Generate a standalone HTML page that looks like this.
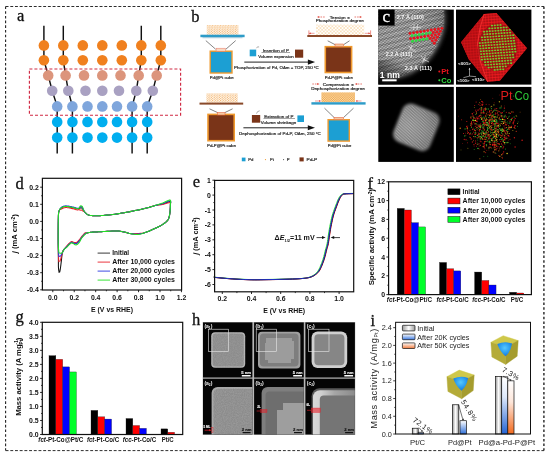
<!DOCTYPE html>
<html><head><meta charset="utf-8"><title>Figure</title>
<style>
html,body{margin:0;padding:0;background:#fff;}
svg{display:block}
.ss{font-family:'Liberation Sans', Arial, sans-serif;}
.sf{font-family:'Liberation Serif', 'Times New Roman', serif;}
</style></head><body>
<svg width="550" height="456" viewBox="0 0 550 456">
<defs>
<pattern id="dotA" width="2.65" height="2.2" patternUnits="userSpaceOnUse" x="206.8" y="25.3">
  <rect width="2.65" height="2.2" fill="#fffaf2"/>
  <circle cx="0.66" cy="0.55" r="0.55" fill="#F0A048"/><circle cx="1.99" cy="1.65" r="0.55" fill="#F0A048"/>
</pattern>
<pattern id="dotB" width="3.4" height="3.4" patternUnits="userSpaceOnUse">
  <rect width="3.4" height="3.4" fill="#fff"/>
  <circle cx="0.85" cy="0.85" r="0.6" fill="#F2B050"/><circle cx="2.55" cy="2.55" r="0.6" fill="#F2B050"/>
</pattern>
<pattern id="dotC" width="1.8" height="1.8" patternUnits="userSpaceOnUse">
  <rect width="1.8" height="1.8" fill="#FBE3B8"/>
  <circle cx="0.45" cy="0.45" r="0.55" fill="#EFA040"/><circle cx="1.35" cy="1.35" r="0.55" fill="#EFA040"/>
</pattern>
<filter id="blur05" x="-10%" y="-10%" width="120%" height="120%"><feGaussianBlur stdDeviation="0.45"/></filter>
<filter id="blur07" x="-10%" y="-10%" width="120%" height="120%"><feGaussianBlur stdDeviation="0.65"/></filter>
<filter id="blur1" x="-10%" y="-10%" width="120%" height="120%"><feGaussianBlur stdDeviation="0.9"/></filter>
<filter id="blur15" x="-10%" y="-10%" width="120%" height="120%"><feGaussianBlur stdDeviation="1.5"/></filter>
<filter id="blur2" x="-10%" y="-10%" width="120%" height="120%"><feGaussianBlur stdDeviation="2.2"/></filter>
<radialGradient id="gc1" gradientUnits="userSpaceOnUse" cx="396" cy="34" r="52">
  <stop offset="0" stop-color="#a4a4a4"/><stop offset="0.5" stop-color="#949494"/><stop offset="0.8" stop-color="#727272"/><stop offset="1" stop-color="#404040"/>
</radialGradient>
<linearGradient id="gc1b" gradientUnits="userSpaceOnUse" x1="376" y1="88" x2="398" y2="60">
  <stop offset="0" stop-color="#000" stop-opacity="0.85"/><stop offset="1" stop-color="#000" stop-opacity="0"/>
</linearGradient>
<pattern id="lat" width="3.55" height="2.7" patternUnits="userSpaceOnUse" patternTransform="rotate(-9)">
  <rect width="3.55" height="2.7" fill="#101010"/>
  <ellipse cx="0.9" cy="0.7" rx="1.0" ry="0.75" fill="#e4e4e4"/><ellipse cx="2.67" cy="2.05" rx="1.0" ry="0.75" fill="#e4e4e4"/>
</pattern>
<pattern id="lat2" width="1.8" height="2.2" patternUnits="userSpaceOnUse" patternTransform="rotate(20)">
  <rect width="1.8" height="2.2" fill="#444"/>
  <rect width="1.8" height="1.0" fill="#ddd"/>
</pattern>
<radialGradient id="gc3" gradientUnits="userSpaceOnUse" cx="-8" cy="2" r="34">
  <stop offset="0" stop-color="#a2a2a2"/><stop offset="0.5" stop-color="#909090"/><stop offset="1" stop-color="#6e6e6e"/>
</radialGradient>
<pattern id="redgrid" width="2.85" height="2.76" patternUnits="userSpaceOnUse" patternTransform="rotate(-4)">
  <rect width="2.85" height="2.76" fill="#7A080C"/>
  <ellipse cx="1.42" cy="1.38" rx="1.25" ry="1.15" fill="#F21C20"/>
</pattern>
<filter id="fnoise" x="0" y="0" width="100%" height="100%"><feTurbulence type="fractalNoise" baseFrequency="0.9" numOctaves="2" seed="3"/><feColorMatrix type="matrix" values="0 0 0 0 1  0 0 0 0 1  0 0 0 0 1  1.6 0 0 0 -0.5"/></filter>
<pattern id="noise" width="60" height="60" patternUnits="userSpaceOnUse"><rect width="60" height="60" filter="url(#fnoise)"/></pattern>
<linearGradient id="gshell" gradientUnits="userSpaceOnUse" x1="313" y1="0" x2="356" y2="0"><stop offset="0" stop-color="#d8d8d8"/><stop offset="0.2" stop-color="#cfcfcf"/><stop offset="0.5" stop-color="#a6a6a6"/><stop offset="1" stop-color="#8a8a8a"/></linearGradient>
<linearGradient id="ggrey" x1="0" y1="0" x2="1" y2="0"><stop offset="0" stop-color="#9a9a9a"/><stop offset="0.5" stop-color="#ffffff"/><stop offset="1" stop-color="#9a9a9a"/></linearGradient>
<linearGradient id="gblue" x1="0" y1="0" x2="0" y2="1"><stop offset="0" stop-color="#ffffff"/><stop offset="1" stop-color="#2E6FD8"/></linearGradient>
<linearGradient id="gblue2" x1="0" y1="0" x2="0" y2="1"><stop offset="0" stop-color="#ffffff"/><stop offset="0.35" stop-color="#dfe9fb"/><stop offset="1" stop-color="#2464D4"/></linearGradient>
<linearGradient id="gorg" x1="0" y1="0" x2="0" y2="1"><stop offset="0" stop-color="#ffffff"/><stop offset="0.4" stop-color="#fde6da"/><stop offset="1" stop-color="#F26A1E"/></linearGradient>
<linearGradient id="gblueL" x1="0" y1="0" x2="0" y2="1"><stop offset="0" stop-color="#ffffff"/><stop offset="1" stop-color="#3A78E0"/></linearGradient>
<linearGradient id="gorgL" x1="0" y1="0" x2="0" y2="1"><stop offset="0" stop-color="#ffffff"/><stop offset="1" stop-color="#F07A3C"/></linearGradient>
<radialGradient id="gcut" cx="0.5" cy="0.4" r="0.6"><stop offset="0" stop-color="#56C8FF"/><stop offset="0.6" stop-color="#2A9CF0"/><stop offset="1" stop-color="#1A74D8"/></radialGradient>
<pattern id="bands" width="10" height="5.4" patternUnits="userSpaceOnUse" patternTransform="rotate(-14)">
  <rect width="10" height="5.4" fill="#fff"/><rect width="10" height="2.6" fill="#000"/>
</pattern>
</defs>

<rect width="550" height="456" fill="#fff"/>
<line x1="5.60" y1="6.50" x2="544.00" y2="6.50" stroke="#222" stroke-width="0.95" stroke-dasharray="2.9 1.8"/>
<line x1="5.60" y1="450.60" x2="544.00" y2="450.60" stroke="#222" stroke-width="0.95" stroke-dasharray="2.9 1.8"/>
<line x1="5.60" y1="6.50" x2="5.60" y2="450.60" stroke="#222" stroke-width="1.1" stroke-dasharray="2.6 2.1"/>
<line x1="543.90" y1="6.50" x2="543.90" y2="450.60" stroke="#333" stroke-width="1.5" stroke-dasharray="2.5 2.2"/>
<text class="sf" x="17" y="21.3" font-size="16.5" font-weight="normal" text-anchor="start" fill="#111"  stroke="#111" stroke-width="0.3">a</text>
<path d="M43.90,25.80 L43.90,45.40 L43.90,60.30 L48.20,75.40 L52.20,90.80 L57.20,106.40 L57.20,121.90 L57.20,137.60 L57.20,153.50" fill="none" stroke="#111" stroke-width="1.45" stroke-linejoin="round" />
<path d="M63.30,25.80 L63.30,45.40 L63.30,60.30 L65.60,75.40 L68.30,90.80 L72.40,106.40 L72.40,121.90 L72.40,137.60 L72.40,153.50" fill="none" stroke="#111" stroke-width="1.45" stroke-linejoin="round" />
<path d="M141.30,25.80 L141.30,45.40 L141.30,60.30 L138.70,75.40 L136.30,90.80 L132.10,106.40 L132.10,121.90 L132.10,137.60 L132.10,153.50" fill="none" stroke="#111" stroke-width="1.45" stroke-linejoin="round" />
<path d="M160.80,25.80 L160.80,45.40 L160.80,60.30 L156.70,75.40 L152.80,90.80 L147.20,106.40 L147.20,121.90 L147.20,137.60 L147.20,153.50" fill="none" stroke="#111" stroke-width="1.45" stroke-linejoin="round" />
<circle cx="43.90" cy="45.40" r="5.3" fill="#F0801E" />
<circle cx="63.30" cy="45.40" r="5.3" fill="#F0801E" />
<circle cx="82.80" cy="45.40" r="5.3" fill="#F0801E" />
<circle cx="102.30" cy="45.40" r="5.3" fill="#F0801E" />
<circle cx="121.80" cy="45.40" r="5.3" fill="#F0801E" />
<circle cx="141.30" cy="45.40" r="5.3" fill="#F0801E" />
<circle cx="160.80" cy="45.40" r="5.3" fill="#F0801E" />
<circle cx="43.90" cy="60.30" r="5.3" fill="#F0801E" />
<circle cx="63.30" cy="60.30" r="5.3" fill="#F0801E" />
<circle cx="82.80" cy="60.30" r="5.3" fill="#F0801E" />
<circle cx="102.30" cy="60.30" r="5.3" fill="#F0801E" />
<circle cx="121.80" cy="60.30" r="5.3" fill="#F0801E" />
<circle cx="141.30" cy="60.30" r="5.3" fill="#F0801E" />
<circle cx="160.80" cy="60.30" r="5.3" fill="#F0801E" />
<circle cx="48.20" cy="75.40" r="5.3" fill="#DC957C" />
<circle cx="65.60" cy="75.40" r="5.3" fill="#DC957C" />
<circle cx="84.00" cy="75.40" r="5.3" fill="#DC957C" />
<circle cx="102.30" cy="75.40" r="5.3" fill="#DC957C" />
<circle cx="120.50" cy="75.40" r="5.3" fill="#DC957C" />
<circle cx="138.70" cy="75.40" r="5.3" fill="#DC957C" />
<circle cx="156.70" cy="75.40" r="5.3" fill="#DC957C" />
<circle cx="52.20" cy="90.80" r="5.3" fill="#A9A1C2" />
<circle cx="68.30" cy="90.80" r="5.3" fill="#A9A1C2" />
<circle cx="85.50" cy="90.80" r="5.3" fill="#A9A1C2" />
<circle cx="102.30" cy="90.80" r="5.3" fill="#A9A1C2" />
<circle cx="119.00" cy="90.80" r="5.3" fill="#A9A1C2" />
<circle cx="136.30" cy="90.80" r="5.3" fill="#A9A1C2" />
<circle cx="152.80" cy="90.80" r="5.3" fill="#A9A1C2" />
<circle cx="57.20" cy="106.40" r="5.3" fill="#7FA6DC" />
<circle cx="72.40" cy="106.40" r="5.3" fill="#7FA6DC" />
<circle cx="87.50" cy="106.40" r="5.3" fill="#7FA6DC" />
<circle cx="102.30" cy="106.40" r="5.3" fill="#7FA6DC" />
<circle cx="117.00" cy="106.40" r="5.3" fill="#7FA6DC" />
<circle cx="132.10" cy="106.40" r="5.3" fill="#7FA6DC" />
<circle cx="147.20" cy="106.40" r="5.3" fill="#7FA6DC" />
<circle cx="57.20" cy="121.90" r="5.3" fill="#00AEEF" />
<circle cx="72.40" cy="121.90" r="5.3" fill="#00AEEF" />
<circle cx="87.50" cy="121.90" r="5.3" fill="#00AEEF" />
<circle cx="102.30" cy="121.90" r="5.3" fill="#00AEEF" />
<circle cx="117.00" cy="121.90" r="5.3" fill="#00AEEF" />
<circle cx="132.10" cy="121.90" r="5.3" fill="#00AEEF" />
<circle cx="147.20" cy="121.90" r="5.3" fill="#00AEEF" />
<circle cx="57.20" cy="137.60" r="5.3" fill="#00AEEF" />
<circle cx="72.40" cy="137.60" r="5.3" fill="#00AEEF" />
<circle cx="87.50" cy="137.60" r="5.3" fill="#00AEEF" />
<circle cx="102.30" cy="137.60" r="5.3" fill="#00AEEF" />
<circle cx="117.00" cy="137.60" r="5.3" fill="#00AEEF" />
<circle cx="132.10" cy="137.60" r="5.3" fill="#00AEEF" />
<circle cx="147.20" cy="137.60" r="5.3" fill="#00AEEF" />
<rect x="29.40" y="69.00" width="151.20" height="46.20" fill="none" stroke="#D02A44" stroke-width="1.15" stroke-dasharray="3 2"/>
<text class="sf" x="191.2" y="22.3" font-size="16.5" font-weight="normal" text-anchor="start" fill="#111"  stroke="#111" stroke-width="0.3">b</text>
<rect x="206.8" y="25.0" width="31.60" height="9.70" fill="url(#dotA)"/>
<rect x="200.40" y="34.70" width="44.20" height="2.50" fill="#2E9CC8" stroke="none" stroke-width="1" />
<rect x="202.50" y="37.20" width="40.00" height="1.00" fill="#9CC4D8" stroke="none" stroke-width="1" />
<line x1="205.80" y1="40.60" x2="215.60" y2="49.20" stroke="#333" stroke-width="0.6" />
<line x1="235.70" y1="40.60" x2="225.90" y2="49.20" stroke="#333" stroke-width="0.6" />
<rect x="209.50" y="50.50" width="23.20" height="23.20" fill="#F09A2E" stroke="none" stroke-width="1" />
<rect x="210.90" y="51.90" width="20.40" height="20.40" fill="#1C9FD3" stroke="none" stroke-width="1" />
<rect x="216.10" y="48.20" width="9.30" height="3.00" fill="#F8D8C0" stroke="#E87A6A" stroke-width="0.5" />
<text class="ss" x="221.7" y="79" font-size="4.3" font-weight="normal" text-anchor="middle" fill="#2a2a2a" textLength="24" lengthAdjust="spacingAndGlyphs"  stroke="#2a2a2a" stroke-width="0.2">Pd@Pt cube</text>
<rect x="249.70" y="49.60" width="6.50" height="6.70" fill="#1C9FD3" stroke="none" stroke-width="1" />
<path d="M256.5,48.2 q0.8,-2.2 2.6,-1.2" fill="none" stroke="#333" stroke-width="0.4"/>
<text class="ss" x="275.9" y="51.6" font-size="4.3" font-weight="normal" text-anchor="middle" fill="#2a2a2a" textLength="26.2" lengthAdjust="spacingAndGlyphs"  stroke="#2a2a2a" stroke-width="0.2">Insertion of P</text>
<line x1="261.50" y1="52.50" x2="290.00" y2="52.50" stroke="#333" stroke-width="0.45" />
<text class="ss" x="276" y="57.9" font-size="4.3" font-weight="normal" text-anchor="middle" fill="#2a2a2a" textLength="35.5" lengthAdjust="spacingAndGlyphs"  stroke="#2a2a2a" stroke-width="0.2">Volume expansion</text>
<rect x="295.00" y="49.60" width="8.20" height="8.10" fill="#7A3418" stroke="none" stroke-width="1" />
<line x1="244.30" y1="62.10" x2="309.00" y2="62.10" stroke="#222" stroke-width="1.0" />
<path d="M315.1,62.1 L307.9,59.5 L307.9,64.7 Z" fill="#111"/>
<text class="ss" x="276.4" y="69.3" font-size="4.3" font-weight="normal" text-anchor="middle" fill="#2a2a2a" textLength="84.7" lengthAdjust="spacingAndGlyphs"  stroke="#2a2a2a" stroke-width="0.2">Phosphorization of Pd, OAm + TOP, 250 °C</text>
<text class="ss" x="340" y="18.5" font-size="4.3" font-weight="normal" text-anchor="middle" fill="#2a2a2a" textLength="20.4" lengthAdjust="spacingAndGlyphs"  stroke="#2a2a2a" stroke-width="0.2">Tension ∝</text>
<text class="ss" x="339.7" y="22.4" font-size="4.3" font-weight="normal" text-anchor="middle" fill="#2a2a2a" textLength="48" lengthAdjust="spacingAndGlyphs"  stroke="#2a2a2a" stroke-width="0.2">Phosphorization degree</text>
<line x1="324.70" y1="17.00" x2="318.50" y2="17.00" stroke="#E0453A" stroke-width="0.7" stroke-dasharray="1.6 1"/>
<line x1="354.50" y1="17.00" x2="360.60" y2="17.00" stroke="#E0453A" stroke-width="0.7" stroke-dasharray="1.6 1"/>
<path d="M317,17 l2.2,-1 v2 Z M362,17 l-2.2,-1 v2 Z" fill="#E0453A"/>
<rect x="316" y="24.6" width="48.20" height="10.40" fill="url(#dotB)"/>
<rect x="307.30" y="35.00" width="64.70" height="2.00" fill="#8A4A2A" stroke="none" stroke-width="1" />
<line x1="308.90" y1="30.40" x2="308.90" y2="35.00" stroke="#E0453A" stroke-width="0.6" />
<line x1="370.60" y1="30.40" x2="370.60" y2="35.00" stroke="#E0453A" stroke-width="0.6" />
<line x1="309.00" y1="33.30" x2="314.50" y2="33.30" stroke="#E0453A" stroke-width="0.5" />
<line x1="370.20" y1="33.30" x2="364.70" y2="33.30" stroke="#E0453A" stroke-width="0.5" />
<path d="M309,33.3 l1.8,-0.9 v1.8 Z M370.2,33.3 l-1.8,-0.9 v1.8 Z" fill="#E0453A"/>
<line x1="327.70" y1="40.80" x2="335.00" y2="44.60" stroke="#333" stroke-width="0.6" />
<line x1="349.50" y1="40.80" x2="343.70" y2="44.60" stroke="#333" stroke-width="0.6" />
<rect x="324.50" y="45.90" width="27.90" height="27.40" fill="#F09A2E" stroke="none" stroke-width="1" />
<rect x="326.10" y="47.50" width="24.70" height="24.20" fill="#7A3418" stroke="none" stroke-width="1" />
<rect x="335.00" y="44.00" width="8.70" height="2.60" fill="#F6C9A0" stroke="#E05A3A" stroke-width="0.5" />
<text class="ss" x="338.8" y="78.8" font-size="4.3" font-weight="normal" text-anchor="middle" fill="#2a2a2a" textLength="28" lengthAdjust="spacingAndGlyphs"  stroke="#2a2a2a" stroke-width="0.2">Pd-P@Pt cube</text>
<rect x="206.5" y="93.4" width="31.30" height="9.20" fill="url(#dotA)"/>
<rect x="199.50" y="102.60" width="43.70" height="2.00" fill="#8A4A2A" stroke="none" stroke-width="1" />
<line x1="209.50" y1="108.80" x2="217.40" y2="112.50" stroke="#333" stroke-width="0.6" />
<line x1="232.60" y1="108.80" x2="225.00" y2="112.50" stroke="#333" stroke-width="0.6" />
<rect x="207.20" y="113.60" width="27.80" height="27.90" fill="#F09A2E" stroke="none" stroke-width="1" />
<rect x="208.80" y="115.20" width="24.60" height="24.70" fill="#7A3418" stroke="none" stroke-width="1" />
<rect x="217.40" y="112.40" width="7.60" height="2.60" fill="#F6C9A0" stroke="#E05A3A" stroke-width="0.5" />
<text class="ss" x="221.5" y="147" font-size="4.3" font-weight="normal" text-anchor="middle" fill="#2a2a2a" textLength="29" lengthAdjust="spacingAndGlyphs"  stroke="#2a2a2a" stroke-width="0.2">Pd-P@Pt cube</text>
<rect x="251.90" y="115.00" width="8.30" height="7.70" fill="#7A3418" stroke="none" stroke-width="1" />
<path d="M256.5,113.6 q0.6,-2.6 3.2,-2.8" fill="none" stroke="#333" stroke-width="0.4"/>
<text class="ss" x="278.9" y="117.6" font-size="4.3" font-weight="normal" text-anchor="middle" fill="#2a2a2a" textLength="29.4" lengthAdjust="spacingAndGlyphs"  stroke="#2a2a2a" stroke-width="0.2">Extraction of P</text>
<line x1="263.50" y1="118.50" x2="295.00" y2="118.50" stroke="#333" stroke-width="0.45" />
<text class="ss" x="278.5" y="123.9" font-size="4.3" font-weight="normal" text-anchor="middle" fill="#2a2a2a" textLength="35.3" lengthAdjust="spacingAndGlyphs"  stroke="#2a2a2a" stroke-width="0.2">Volume shrinkage</text>
<rect x="297.40" y="115.40" width="6.60" height="6.60" fill="#1C9FD3" stroke="none" stroke-width="1" />
<line x1="243.40" y1="127.80" x2="309.00" y2="127.80" stroke="#222" stroke-width="1.0" />
<path d="M315,127.8 L307.8,125.3 L307.8,130.3 Z" fill="#111"/>
<text class="ss" x="279.9" y="135" font-size="4.3" font-weight="normal" text-anchor="middle" fill="#2a2a2a" textLength="81.8" lengthAdjust="spacingAndGlyphs"  stroke="#2a2a2a" stroke-width="0.2">Dephosphorization of Pd-P, OAm, 250 °C</text>
<text class="ss" x="338.2" y="86.4" font-size="4.3" font-weight="normal" text-anchor="middle" fill="#2a2a2a" textLength="31" lengthAdjust="spacingAndGlyphs"  stroke="#2a2a2a" stroke-width="0.2">Compression ∝</text>
<text class="ss" x="338" y="90.4" font-size="4.3" font-weight="normal" text-anchor="middle" fill="#2a2a2a" textLength="53.4" lengthAdjust="spacingAndGlyphs"  stroke="#2a2a2a" stroke-width="0.2">Dephosphorization degree</text>
<line x1="312.30" y1="84.00" x2="318.00" y2="84.00" stroke="#E0453A" stroke-width="0.7" stroke-dasharray="1.6 1"/>
<line x1="362.00" y1="84.00" x2="356.50" y2="84.00" stroke="#E0453A" stroke-width="0.7" stroke-dasharray="1.6 1"/>
<path d="M319.6,84 l-2.4,-1.1 v2.2 Z M354.8,84 l2.4,-1.1 v2.2 Z" fill="#E0453A"/>
<rect x="321.4" y="92.4" width="33.60" height="9.80" fill="url(#dotC)"/>
<rect x="311.40" y="102.20" width="54.20" height="2.40" fill="#2E9CC8" stroke="none" stroke-width="1" />
<line x1="315.00" y1="101.00" x2="320.50" y2="101.00" stroke="#E0453A" stroke-width="0.5" />
<line x1="361.50" y1="101.00" x2="356.00" y2="101.00" stroke="#E0453A" stroke-width="0.5" />
<path d="M320.9,101 l-1.8,-0.9 v1.8 Z M355.6,101 l1.8,-0.9 v1.8 Z" fill="#E0453A"/>
<line x1="324.50" y1="108.20" x2="334.00" y2="117.40" stroke="#333" stroke-width="0.6" />
<line x1="353.50" y1="108.20" x2="343.70" y2="117.40" stroke="#333" stroke-width="0.6" />
<rect x="327.40" y="119.00" width="22.60" height="22.80" fill="#F09A2E" stroke="none" stroke-width="1" />
<rect x="328.80" y="120.40" width="19.80" height="20.00" fill="#1C9FD3" stroke="none" stroke-width="1" />
<rect x="334.00" y="117.30" width="9.70" height="2.40" fill="#F6C9A0" stroke="#E05A3A" stroke-width="0.5" />
<text class="ss" x="339.5" y="146.6" font-size="4.3" font-weight="normal" text-anchor="middle" fill="#2a2a2a" textLength="23.5" lengthAdjust="spacingAndGlyphs"  stroke="#2a2a2a" stroke-width="0.2">Pd@Pt cube</text>
<rect x="241.80" y="157.60" width="3.70" height="3.70" fill="#1C9FD3" stroke="none" stroke-width="1" />
<text class="ss" x="248.2" y="161" font-size="4.3" font-weight="normal" text-anchor="start" fill="#2a2a2a" textLength="5.2" lengthAdjust="spacingAndGlyphs"  stroke="#2a2a2a" stroke-width="0.2">Pd</text>
<circle cx="265.50" cy="159.60" r="0.6" fill="#F09A2E" />
<text class="ss" x="270" y="161" font-size="4.3" font-weight="normal" text-anchor="start" fill="#2a2a2a" textLength="3.8" lengthAdjust="spacingAndGlyphs"  stroke="#2a2a2a" stroke-width="0.2">Pt</text>
<circle cx="283.60" cy="159.60" r="0.55" fill="#444" />
<text class="ss" x="286.7" y="161" font-size="4.3" font-weight="normal" text-anchor="start" fill="#2a2a2a"  stroke="#2a2a2a" stroke-width="0.2">P</text>
<rect x="299.50" y="157.40" width="4.20" height="4.00" fill="#7A3418" stroke="none" stroke-width="1" />
<text class="ss" x="306.4" y="161" font-size="4.3" font-weight="normal" text-anchor="start" fill="#2a2a2a" textLength="10.8" lengthAdjust="spacingAndGlyphs"  stroke="#2a2a2a" stroke-width="0.2">Pd-P</text>
<rect x="378.30" y="9.60" width="75.50" height="75.00" fill="#000" stroke="none" stroke-width="1" />
<rect x="378.30" y="86.90" width="75.50" height="75.00" fill="#000" stroke="none" stroke-width="1" />
<rect x="456.00" y="9.60" width="75.40" height="75.00" fill="#000" stroke="none" stroke-width="1" />
<rect x="456.00" y="86.90" width="75.40" height="75.00" fill="#000" stroke="none" stroke-width="1" />
<clipPath id="clipc1"><rect x="378.3" y="9.6" width="75.5" height="75.0"/></clipPath>
<g clip-path="url(#clipc1)">
<g filter="url(#blur2)">
<path d="M370,0 L443,0 C448,12 447,26 442,38 C437,52 428,64 414,72 C404,78 394,80 384,82 L370,70 Z" fill="url(#gc1)"/>
</g>
<g filter="url(#blur05)" opacity="0.55">
<path d="M370,0 L441,2 C446,12 445,26 440,38 C435,52 426,63 412,71 C402,77 394,79 386,80 L370,70 Z" fill="url(#lat)"/>
</g>
<g filter="url(#blur1)" opacity="0.28"><path d="M370,0 L441,2 C446,12 445,26 440,38 C435,52 426,63 412,71 C402,77 394,79 386,80 L370,70 Z" fill="url(#bands)"/></g>
<rect x="370" y="60" width="40" height="30" fill="url(#gc1b)"/>
</g>
<rect x="378.30" y="9.60" width="16.30" height="16.00" fill="#000" stroke="none" stroke-width="1" />
<text class="sf" x="386.3" y="21.8" font-size="17" font-weight="normal" text-anchor="middle" fill="#fff"  stroke="#fff" stroke-width="0.3">c</text>
<circle cx="410.00" cy="33.40" r="1.45" fill="#E8141C" />
<circle cx="413.55" cy="32.84" r="1.45" fill="#E8141C" />
<circle cx="417.10" cy="32.28" r="1.45" fill="#E8141C" />
<circle cx="420.65" cy="31.72" r="1.45" fill="#E8141C" />
<circle cx="424.20" cy="31.16" r="1.45" fill="#E8141C" />
<circle cx="427.75" cy="30.60" r="1.45" fill="#E8141C" />
<circle cx="431.30" cy="30.04" r="1.45" fill="#E8141C" />
<circle cx="434.85" cy="29.48" r="1.45" fill="#E8141C" />
<circle cx="438.40" cy="28.92" r="1.45" fill="#E8141C" />
<circle cx="441.95" cy="28.36" r="1.45" fill="#E8141C" />
<circle cx="412.02" cy="35.82" r="1.45" fill="#30D840" />
<circle cx="415.57" cy="35.26" r="1.45" fill="#30D840" />
<circle cx="419.12" cy="34.70" r="1.45" fill="#30D840" />
<circle cx="422.68" cy="34.14" r="1.45" fill="#30D840" />
<circle cx="426.23" cy="33.58" r="1.45" fill="#30D840" />
<circle cx="429.77" cy="33.02" r="1.45" fill="#30D840" />
<circle cx="433.32" cy="32.46" r="1.45" fill="#E8141C" />
<circle cx="436.88" cy="31.90" r="1.45" fill="#E8141C" />
<circle cx="440.43" cy="31.34" r="1.45" fill="#E8141C" />
<circle cx="410.50" cy="38.80" r="1.45" fill="#E8141C" />
<circle cx="414.05" cy="38.24" r="1.45" fill="#E8141C" />
<circle cx="417.60" cy="37.68" r="1.45" fill="#E8141C" />
<circle cx="421.15" cy="37.12" r="1.45" fill="#E8141C" />
<circle cx="424.70" cy="36.56" r="1.45" fill="#E8141C" />
<circle cx="428.25" cy="36.00" r="1.45" fill="#E8141C" />
<circle cx="431.80" cy="35.44" r="1.45" fill="#E8141C" />
<circle cx="435.35" cy="34.88" r="1.45" fill="#E8141C" />
<circle cx="438.90" cy="34.32" r="1.45" fill="#E8141C" />
<circle cx="412.52" cy="41.22" r="1.45" fill="#30D840" />
<circle cx="416.07" cy="40.66" r="1.45" fill="#30D840" />
<circle cx="419.62" cy="40.10" r="1.45" fill="#30D840" />
<circle cx="423.18" cy="39.54" r="1.45" fill="#30D840" />
<circle cx="426.73" cy="38.98" r="1.45" fill="#30D840" />
<circle cx="430.27" cy="38.42" r="1.45" fill="#E8141C" />
<circle cx="433.82" cy="37.86" r="1.45" fill="#E8141C" />
<circle cx="437.38" cy="37.30" r="1.45" fill="#E8141C" />
<circle cx="432.30" cy="40.84" r="1.45" fill="#E8141C" />
<circle cx="435.85" cy="40.28" r="1.45" fill="#E8141C" />
<circle cx="434.32" cy="43.26" r="1.45" fill="#E8141C" />
<text class="ss" x="410.3" y="19.2" font-size="5" font-weight="bold" text-anchor="middle" fill="#f4f4f4" textLength="27" lengthAdjust="spacingAndGlyphs" >2.7 Å (110)</text>
<text class="ss" x="399" y="56" font-size="5" font-weight="bold" text-anchor="middle" fill="#f4f4f4" textLength="26.5" lengthAdjust="spacingAndGlyphs" >2.2 Å (111)</text>
<text class="ss" x="418.3" y="69.8" font-size="5" font-weight="bold" text-anchor="middle" fill="#f4f4f4" textLength="27" lengthAdjust="spacingAndGlyphs" >2.3 Å (111)</text>
<line x1="409.50" y1="27.30" x2="421.00" y2="27.30" stroke="#f4f4f4" stroke-width="0.6" />
<line x1="414.20" y1="24.30" x2="413.60" y2="30.30" stroke="#f4f4f4" stroke-width="0.6" />
<line x1="417.60" y1="24.30" x2="417.00" y2="30.30" stroke="#f4f4f4" stroke-width="0.6" />
<path d="M408.5,45.5 L412.5,50.5 M412,45 L409.5,51.5 M411.5,48.5 L416,52" stroke="#f4f4f4" stroke-width="0.6" fill="none"/>
<path d="M421,56 L425.5,61 M425.5,55.5 L422.5,63 M424,59.5 L429,62" stroke="#f4f4f4" stroke-width="0.6" fill="none"/>
<text class="ss" x="379.8" y="77.6" font-size="8.6" font-weight="bold" text-anchor="start" fill="#fff" textLength="20" lengthAdjust="spacingAndGlyphs" >1 nm</text>
<rect x="382.20" y="79.30" width="14.40" height="2.00" fill="#fff" stroke="none" stroke-width="1" />
<circle cx="439.30" cy="71.40" r="1.0" fill="#E8141C" />
<text class="ss" x="441.3" y="74.2" font-size="7.6" font-weight="bold" text-anchor="start" fill="#E8141C" >Pt</text>
<circle cx="439.30" cy="80.30" r="1.0" fill="#30D840" />
<text class="ss" x="441.3" y="83.2" font-size="7.6" font-weight="bold" text-anchor="start" fill="#30D840" >Co</text>
<path d="M484.2,14.0 L496.4,13.1 L527.0,48.2 L499.8,80.7 L487.6,81.8 L468.8,59.3 L461.1,42.2 Z" fill="#E8181C"/>
<path d="M484.2,14.0 L496.4,13.1 L527.0,48.2 L499.8,80.7 L487.6,81.8 L468.8,59.3 L461.1,42.2 Z" fill="url(#redgrid)" opacity="0.75"/>
<path d="M484.2,14.0 L461.1,42.2 L468.8,59.3 L487.6,81.8 L480.5,62.0 L477.5,44.0 L480.0,28.0 Z" fill="#B00C10" opacity="0.45"/>
<path d="M484.2,14 L480,28 L477.5,44 L480.5,62 L487.6,81.8" fill="none" stroke="#F43030" stroke-width="0.9"/>
<ellipse cx="497.6" cy="47.4" rx="19.6" ry="24" fill="#7A0A0C" opacity="0.5"/>
<ellipse cx="491.95" cy="25.52" rx="1.12" ry="0.88" fill="#70CC2E"/>
<ellipse cx="494.80" cy="25.32" rx="1.12" ry="0.88" fill="#70CC2E"/>
<ellipse cx="497.65" cy="25.12" rx="1.12" ry="0.88" fill="#70CC2E"/>
<ellipse cx="500.50" cy="24.92" rx="1.12" ry="0.88" fill="#70CC2E"/>
<ellipse cx="489.45" cy="28.48" rx="1.12" ry="0.88" fill="#70CC2E"/>
<ellipse cx="492.30" cy="28.28" rx="1.12" ry="0.88" fill="#70CC2E"/>
<ellipse cx="495.15" cy="28.08" rx="1.12" ry="0.88" fill="#70CC2E"/>
<ellipse cx="498.00" cy="27.88" rx="1.12" ry="0.88" fill="#70CC2E"/>
<ellipse cx="500.85" cy="27.68" rx="1.12" ry="0.88" fill="#70CC2E"/>
<ellipse cx="503.70" cy="27.48" rx="1.12" ry="0.88" fill="#70CC2E"/>
<ellipse cx="506.55" cy="27.28" rx="1.12" ry="0.88" fill="#70CC2E"/>
<ellipse cx="484.10" cy="31.64" rx="1.12" ry="0.88" fill="#70CC2E"/>
<ellipse cx="486.95" cy="31.44" rx="1.12" ry="0.88" fill="#70CC2E"/>
<ellipse cx="489.80" cy="31.24" rx="1.12" ry="0.88" fill="#70CC2E"/>
<ellipse cx="492.65" cy="31.04" rx="1.12" ry="0.88" fill="#70CC2E"/>
<ellipse cx="495.50" cy="30.84" rx="1.12" ry="0.88" fill="#70CC2E"/>
<ellipse cx="498.35" cy="30.64" rx="1.12" ry="0.88" fill="#70CC2E"/>
<ellipse cx="501.20" cy="30.44" rx="1.12" ry="0.88" fill="#70CC2E"/>
<ellipse cx="504.05" cy="30.24" rx="1.12" ry="0.88" fill="#70CC2E"/>
<ellipse cx="506.90" cy="30.04" rx="1.12" ry="0.88" fill="#70CC2E"/>
<ellipse cx="509.75" cy="29.84" rx="1.12" ry="0.88" fill="#70CC2E"/>
<ellipse cx="484.45" cy="34.40" rx="1.12" ry="0.88" fill="#70CC2E"/>
<ellipse cx="487.30" cy="34.20" rx="1.12" ry="0.88" fill="#70CC2E"/>
<ellipse cx="490.15" cy="34.00" rx="1.12" ry="0.88" fill="#70CC2E"/>
<ellipse cx="493.00" cy="33.80" rx="1.12" ry="0.88" fill="#70CC2E"/>
<ellipse cx="495.85" cy="33.60" rx="1.12" ry="0.88" fill="#70CC2E"/>
<ellipse cx="498.70" cy="33.40" rx="1.12" ry="0.88" fill="#70CC2E"/>
<ellipse cx="501.55" cy="33.20" rx="1.12" ry="0.88" fill="#70CC2E"/>
<ellipse cx="504.40" cy="33.00" rx="1.12" ry="0.88" fill="#70CC2E"/>
<ellipse cx="507.25" cy="32.80" rx="1.12" ry="0.88" fill="#70CC2E"/>
<ellipse cx="510.10" cy="32.60" rx="1.12" ry="0.88" fill="#70CC2E"/>
<ellipse cx="481.95" cy="37.36" rx="1.12" ry="0.88" fill="#70CC2E"/>
<ellipse cx="484.80" cy="37.16" rx="1.12" ry="0.88" fill="#70CC2E"/>
<ellipse cx="487.65" cy="36.96" rx="1.12" ry="0.88" fill="#70CC2E"/>
<ellipse cx="490.50" cy="36.76" rx="1.12" ry="0.88" fill="#70CC2E"/>
<ellipse cx="493.35" cy="36.56" rx="1.12" ry="0.88" fill="#70CC2E"/>
<ellipse cx="496.20" cy="36.36" rx="1.12" ry="0.88" fill="#70CC2E"/>
<ellipse cx="499.05" cy="36.16" rx="1.12" ry="0.88" fill="#70CC2E"/>
<ellipse cx="501.90" cy="35.96" rx="1.12" ry="0.88" fill="#70CC2E"/>
<ellipse cx="504.75" cy="35.76" rx="1.12" ry="0.88" fill="#70CC2E"/>
<ellipse cx="507.60" cy="35.56" rx="1.12" ry="0.88" fill="#70CC2E"/>
<ellipse cx="510.45" cy="35.36" rx="1.12" ry="0.88" fill="#70CC2E"/>
<ellipse cx="513.30" cy="35.16" rx="1.12" ry="0.88" fill="#70CC2E"/>
<ellipse cx="482.30" cy="40.12" rx="1.12" ry="0.88" fill="#70CC2E"/>
<ellipse cx="485.15" cy="39.92" rx="1.12" ry="0.88" fill="#70CC2E"/>
<ellipse cx="488.00" cy="39.72" rx="1.12" ry="0.88" fill="#70CC2E"/>
<ellipse cx="490.85" cy="39.52" rx="1.12" ry="0.88" fill="#70CC2E"/>
<ellipse cx="493.70" cy="39.32" rx="1.12" ry="0.88" fill="#70CC2E"/>
<ellipse cx="496.55" cy="39.12" rx="1.12" ry="0.88" fill="#70CC2E"/>
<ellipse cx="499.40" cy="38.92" rx="1.12" ry="0.88" fill="#70CC2E"/>
<ellipse cx="502.25" cy="38.72" rx="1.12" ry="0.88" fill="#70CC2E"/>
<ellipse cx="505.10" cy="38.52" rx="1.12" ry="0.88" fill="#70CC2E"/>
<ellipse cx="507.95" cy="38.32" rx="1.12" ry="0.88" fill="#70CC2E"/>
<ellipse cx="510.80" cy="38.12" rx="1.12" ry="0.88" fill="#70CC2E"/>
<ellipse cx="513.65" cy="37.92" rx="1.12" ry="0.88" fill="#70CC2E"/>
<ellipse cx="479.80" cy="43.08" rx="1.12" ry="0.88" fill="#70CC2E"/>
<ellipse cx="482.65" cy="42.88" rx="1.12" ry="0.88" fill="#70CC2E"/>
<ellipse cx="485.50" cy="42.68" rx="1.12" ry="0.88" fill="#70CC2E"/>
<ellipse cx="488.35" cy="42.48" rx="1.12" ry="0.88" fill="#70CC2E"/>
<ellipse cx="491.20" cy="42.28" rx="1.12" ry="0.88" fill="#70CC2E"/>
<ellipse cx="494.05" cy="42.08" rx="1.12" ry="0.88" fill="#70CC2E"/>
<ellipse cx="496.90" cy="41.88" rx="1.12" ry="0.88" fill="#70CC2E"/>
<ellipse cx="499.75" cy="41.68" rx="1.12" ry="0.88" fill="#70CC2E"/>
<ellipse cx="502.60" cy="41.48" rx="1.12" ry="0.88" fill="#70CC2E"/>
<ellipse cx="505.45" cy="41.28" rx="1.12" ry="0.88" fill="#70CC2E"/>
<ellipse cx="508.30" cy="41.08" rx="1.12" ry="0.88" fill="#70CC2E"/>
<ellipse cx="511.15" cy="40.88" rx="1.12" ry="0.88" fill="#70CC2E"/>
<ellipse cx="514.00" cy="40.68" rx="1.12" ry="0.88" fill="#70CC2E"/>
<ellipse cx="480.15" cy="45.84" rx="1.12" ry="0.88" fill="#70CC2E"/>
<ellipse cx="483.00" cy="45.64" rx="1.12" ry="0.88" fill="#70CC2E"/>
<ellipse cx="485.85" cy="45.44" rx="1.12" ry="0.88" fill="#70CC2E"/>
<ellipse cx="488.70" cy="45.24" rx="1.12" ry="0.88" fill="#70CC2E"/>
<ellipse cx="491.55" cy="45.04" rx="1.12" ry="0.88" fill="#70CC2E"/>
<ellipse cx="494.40" cy="44.84" rx="1.12" ry="0.88" fill="#70CC2E"/>
<ellipse cx="497.25" cy="44.64" rx="1.12" ry="0.88" fill="#70CC2E"/>
<ellipse cx="500.10" cy="44.44" rx="1.12" ry="0.88" fill="#70CC2E"/>
<ellipse cx="502.95" cy="44.24" rx="1.12" ry="0.88" fill="#70CC2E"/>
<ellipse cx="505.80" cy="44.04" rx="1.12" ry="0.88" fill="#70CC2E"/>
<ellipse cx="508.65" cy="43.84" rx="1.12" ry="0.88" fill="#70CC2E"/>
<ellipse cx="511.50" cy="43.64" rx="1.12" ry="0.88" fill="#70CC2E"/>
<ellipse cx="514.35" cy="43.44" rx="1.12" ry="0.88" fill="#70CC2E"/>
<ellipse cx="480.50" cy="48.60" rx="1.12" ry="0.88" fill="#70CC2E"/>
<ellipse cx="483.35" cy="48.40" rx="1.12" ry="0.88" fill="#70CC2E"/>
<ellipse cx="486.20" cy="48.20" rx="1.12" ry="0.88" fill="#70CC2E"/>
<ellipse cx="489.05" cy="48.00" rx="1.12" ry="0.88" fill="#70CC2E"/>
<ellipse cx="491.90" cy="47.80" rx="1.12" ry="0.88" fill="#70CC2E"/>
<ellipse cx="494.75" cy="47.60" rx="1.12" ry="0.88" fill="#70CC2E"/>
<ellipse cx="497.60" cy="47.40" rx="1.12" ry="0.88" fill="#70CC2E"/>
<ellipse cx="500.45" cy="47.20" rx="1.12" ry="0.88" fill="#70CC2E"/>
<ellipse cx="503.30" cy="47.00" rx="1.12" ry="0.88" fill="#70CC2E"/>
<ellipse cx="506.15" cy="46.80" rx="1.12" ry="0.88" fill="#70CC2E"/>
<ellipse cx="509.00" cy="46.60" rx="1.12" ry="0.88" fill="#70CC2E"/>
<ellipse cx="511.85" cy="46.40" rx="1.12" ry="0.88" fill="#70CC2E"/>
<ellipse cx="514.70" cy="46.20" rx="1.12" ry="0.88" fill="#70CC2E"/>
<ellipse cx="480.85" cy="51.36" rx="1.12" ry="0.88" fill="#70CC2E"/>
<ellipse cx="483.70" cy="51.16" rx="1.12" ry="0.88" fill="#70CC2E"/>
<ellipse cx="486.55" cy="50.96" rx="1.12" ry="0.88" fill="#70CC2E"/>
<ellipse cx="489.40" cy="50.76" rx="1.12" ry="0.88" fill="#70CC2E"/>
<ellipse cx="492.25" cy="50.56" rx="1.12" ry="0.88" fill="#70CC2E"/>
<ellipse cx="495.10" cy="50.36" rx="1.12" ry="0.88" fill="#70CC2E"/>
<ellipse cx="497.95" cy="50.16" rx="1.12" ry="0.88" fill="#70CC2E"/>
<ellipse cx="500.80" cy="49.96" rx="1.12" ry="0.88" fill="#70CC2E"/>
<ellipse cx="503.65" cy="49.76" rx="1.12" ry="0.88" fill="#70CC2E"/>
<ellipse cx="506.50" cy="49.56" rx="1.12" ry="0.88" fill="#70CC2E"/>
<ellipse cx="509.35" cy="49.36" rx="1.12" ry="0.88" fill="#70CC2E"/>
<ellipse cx="512.20" cy="49.16" rx="1.12" ry="0.88" fill="#70CC2E"/>
<ellipse cx="515.05" cy="48.96" rx="1.12" ry="0.88" fill="#70CC2E"/>
<ellipse cx="481.20" cy="54.12" rx="1.12" ry="0.88" fill="#70CC2E"/>
<ellipse cx="484.05" cy="53.92" rx="1.12" ry="0.88" fill="#70CC2E"/>
<ellipse cx="486.90" cy="53.72" rx="1.12" ry="0.88" fill="#70CC2E"/>
<ellipse cx="489.75" cy="53.52" rx="1.12" ry="0.88" fill="#70CC2E"/>
<ellipse cx="492.60" cy="53.32" rx="1.12" ry="0.88" fill="#70CC2E"/>
<ellipse cx="495.45" cy="53.12" rx="1.12" ry="0.88" fill="#70CC2E"/>
<ellipse cx="498.30" cy="52.92" rx="1.12" ry="0.88" fill="#70CC2E"/>
<ellipse cx="501.15" cy="52.72" rx="1.12" ry="0.88" fill="#70CC2E"/>
<ellipse cx="504.00" cy="52.52" rx="1.12" ry="0.88" fill="#70CC2E"/>
<ellipse cx="506.85" cy="52.32" rx="1.12" ry="0.88" fill="#70CC2E"/>
<ellipse cx="509.70" cy="52.12" rx="1.12" ry="0.88" fill="#70CC2E"/>
<ellipse cx="512.55" cy="51.92" rx="1.12" ry="0.88" fill="#70CC2E"/>
<ellipse cx="515.40" cy="51.72" rx="1.12" ry="0.88" fill="#70CC2E"/>
<ellipse cx="481.55" cy="56.88" rx="1.12" ry="0.88" fill="#70CC2E"/>
<ellipse cx="484.40" cy="56.68" rx="1.12" ry="0.88" fill="#70CC2E"/>
<ellipse cx="487.25" cy="56.48" rx="1.12" ry="0.88" fill="#70CC2E"/>
<ellipse cx="490.10" cy="56.28" rx="1.12" ry="0.88" fill="#70CC2E"/>
<ellipse cx="492.95" cy="56.08" rx="1.12" ry="0.88" fill="#70CC2E"/>
<ellipse cx="495.80" cy="55.88" rx="1.12" ry="0.88" fill="#70CC2E"/>
<ellipse cx="498.65" cy="55.68" rx="1.12" ry="0.88" fill="#70CC2E"/>
<ellipse cx="501.50" cy="55.48" rx="1.12" ry="0.88" fill="#70CC2E"/>
<ellipse cx="504.35" cy="55.28" rx="1.12" ry="0.88" fill="#70CC2E"/>
<ellipse cx="507.20" cy="55.08" rx="1.12" ry="0.88" fill="#70CC2E"/>
<ellipse cx="510.05" cy="54.88" rx="1.12" ry="0.88" fill="#70CC2E"/>
<ellipse cx="512.90" cy="54.68" rx="1.12" ry="0.88" fill="#70CC2E"/>
<ellipse cx="481.90" cy="59.64" rx="1.12" ry="0.88" fill="#70CC2E"/>
<ellipse cx="484.75" cy="59.44" rx="1.12" ry="0.88" fill="#70CC2E"/>
<ellipse cx="487.60" cy="59.24" rx="1.12" ry="0.88" fill="#70CC2E"/>
<ellipse cx="490.45" cy="59.04" rx="1.12" ry="0.88" fill="#70CC2E"/>
<ellipse cx="493.30" cy="58.84" rx="1.12" ry="0.88" fill="#70CC2E"/>
<ellipse cx="496.15" cy="58.64" rx="1.12" ry="0.88" fill="#70CC2E"/>
<ellipse cx="499.00" cy="58.44" rx="1.12" ry="0.88" fill="#70CC2E"/>
<ellipse cx="501.85" cy="58.24" rx="1.12" ry="0.88" fill="#70CC2E"/>
<ellipse cx="504.70" cy="58.04" rx="1.12" ry="0.88" fill="#70CC2E"/>
<ellipse cx="507.55" cy="57.84" rx="1.12" ry="0.88" fill="#70CC2E"/>
<ellipse cx="510.40" cy="57.64" rx="1.12" ry="0.88" fill="#70CC2E"/>
<ellipse cx="513.25" cy="57.44" rx="1.12" ry="0.88" fill="#70CC2E"/>
<ellipse cx="485.10" cy="62.20" rx="1.12" ry="0.88" fill="#70CC2E"/>
<ellipse cx="487.95" cy="62.00" rx="1.12" ry="0.88" fill="#70CC2E"/>
<ellipse cx="490.80" cy="61.80" rx="1.12" ry="0.88" fill="#70CC2E"/>
<ellipse cx="493.65" cy="61.60" rx="1.12" ry="0.88" fill="#70CC2E"/>
<ellipse cx="496.50" cy="61.40" rx="1.12" ry="0.88" fill="#70CC2E"/>
<ellipse cx="499.35" cy="61.20" rx="1.12" ry="0.88" fill="#70CC2E"/>
<ellipse cx="502.20" cy="61.00" rx="1.12" ry="0.88" fill="#70CC2E"/>
<ellipse cx="505.05" cy="60.80" rx="1.12" ry="0.88" fill="#70CC2E"/>
<ellipse cx="507.90" cy="60.60" rx="1.12" ry="0.88" fill="#70CC2E"/>
<ellipse cx="510.75" cy="60.40" rx="1.12" ry="0.88" fill="#70CC2E"/>
<ellipse cx="485.45" cy="64.96" rx="1.12" ry="0.88" fill="#70CC2E"/>
<ellipse cx="488.30" cy="64.76" rx="1.12" ry="0.88" fill="#70CC2E"/>
<ellipse cx="491.15" cy="64.56" rx="1.12" ry="0.88" fill="#70CC2E"/>
<ellipse cx="494.00" cy="64.36" rx="1.12" ry="0.88" fill="#70CC2E"/>
<ellipse cx="496.85" cy="64.16" rx="1.12" ry="0.88" fill="#70CC2E"/>
<ellipse cx="499.70" cy="63.96" rx="1.12" ry="0.88" fill="#70CC2E"/>
<ellipse cx="502.55" cy="63.76" rx="1.12" ry="0.88" fill="#70CC2E"/>
<ellipse cx="505.40" cy="63.56" rx="1.12" ry="0.88" fill="#70CC2E"/>
<ellipse cx="508.25" cy="63.36" rx="1.12" ry="0.88" fill="#70CC2E"/>
<ellipse cx="511.10" cy="63.16" rx="1.12" ry="0.88" fill="#70CC2E"/>
<ellipse cx="488.65" cy="67.52" rx="1.12" ry="0.88" fill="#70CC2E"/>
<ellipse cx="491.50" cy="67.32" rx="1.12" ry="0.88" fill="#70CC2E"/>
<ellipse cx="494.35" cy="67.12" rx="1.12" ry="0.88" fill="#70CC2E"/>
<ellipse cx="497.20" cy="66.92" rx="1.12" ry="0.88" fill="#70CC2E"/>
<ellipse cx="500.05" cy="66.72" rx="1.12" ry="0.88" fill="#70CC2E"/>
<ellipse cx="502.90" cy="66.52" rx="1.12" ry="0.88" fill="#70CC2E"/>
<ellipse cx="505.75" cy="66.32" rx="1.12" ry="0.88" fill="#70CC2E"/>
<ellipse cx="494.70" cy="69.88" rx="1.12" ry="0.88" fill="#70CC2E"/>
<ellipse cx="497.55" cy="69.68" rx="1.12" ry="0.88" fill="#70CC2E"/>
<ellipse cx="500.40" cy="69.48" rx="1.12" ry="0.88" fill="#70CC2E"/>
<ellipse cx="503.25" cy="69.28" rx="1.12" ry="0.88" fill="#70CC2E"/>
<line x1="469.50" y1="76.10" x2="469.50" y2="69.10" stroke="#f4f4f4" stroke-width="0.55" />
<line x1="469.50" y1="76.10" x2="463.40" y2="77.70" stroke="#f4f4f4" stroke-width="0.55" />
<line x1="469.50" y1="76.10" x2="476.10" y2="76.70" stroke="#f4f4f4" stroke-width="0.55" />
<path d="M469.5,67.7 l-0.9,1.9 h1.8 Z" fill="#f4f4f4"/>
<text class="ss" x="464.5" y="65.2" font-size="4.3" font-weight="bold" text-anchor="middle" fill="#f4f4f4" textLength="13" lengthAdjust="spacingAndGlyphs" >&lt;001&gt;</text>
<text class="ss" x="463.4" y="82.3" font-size="4.3" font-weight="bold" text-anchor="middle" fill="#f4f4f4" textLength="12.4" lengthAdjust="spacingAndGlyphs" >&lt;100&gt;</text>
<text class="ss" x="478.4" y="81.2" font-size="4.3" font-weight="bold" text-anchor="middle" fill="#f4f4f4" textLength="12.6" lengthAdjust="spacingAndGlyphs" >&lt;010&gt;</text>
<clipPath id="clipc3"><rect x="378.3" y="86.9" width="75.5" height="75.0"/></clipPath>
<g clip-path="url(#clipc3)">
<g filter="url(#blur15)"><rect x="-19.5" y="-20.5" width="39.5" height="41" rx="8.5" fill="url(#gc3)" transform="translate(416.2,127.2) rotate(22)"/></g>
<g filter="url(#blur05)" opacity="0.22"><rect x="-17.5" y="-18.5" width="35.5" height="37" rx="7" fill="url(#lat2)" transform="translate(416.2,127.2) rotate(22)"/></g>
</g>
<circle cx="472.6" cy="128.9" r="0.45" fill="#C81414" opacity="1"/>
<circle cx="498.2" cy="127.1" r="0.7" fill="#C81414" opacity="1"/>
<circle cx="474.0" cy="118.0" r="0.45" fill="#D81818" opacity="0.85"/>
<circle cx="488.0" cy="125.3" r="0.7" fill="#30D838" opacity="0.7"/>
<circle cx="507.9" cy="142.5" r="0.7" fill="#28C830" opacity="0.85"/>
<circle cx="480.7" cy="117.8" r="0.45" fill="#A01010" opacity="0.85"/>
<circle cx="499.6" cy="128.5" r="0.7" fill="#22A028" opacity="1"/>
<circle cx="485.2" cy="110.1" r="0.45" fill="#E01818" opacity="1"/>
<circle cx="507.3" cy="121.4" r="0.45" fill="#28C830" opacity="0.7"/>
<circle cx="492.0" cy="138.7" r="0.7" fill="#E07818" opacity="0.7"/>
<circle cx="499.8" cy="139.5" r="0.6" fill="#22A028" opacity="1"/>
<circle cx="482.6" cy="118.9" r="0.6" fill="#C81414" opacity="1"/>
<circle cx="503.3" cy="141.5" r="0.7" fill="#28C830" opacity="1"/>
<circle cx="500.4" cy="125.2" r="0.6" fill="#E07818" opacity="0.85"/>
<circle cx="483.0" cy="125.8" r="0.5" fill="#28C830" opacity="0.85"/>
<circle cx="508.7" cy="135.7" r="0.7" fill="#A01010" opacity="1"/>
<circle cx="510.1" cy="121.4" r="0.6" fill="#C81414" opacity="1"/>
<circle cx="490.1" cy="117.5" r="0.5" fill="#E01818" opacity="0.7"/>
<circle cx="483.5" cy="112.2" r="0.5" fill="#E07818" opacity="1"/>
<circle cx="474.5" cy="123.8" r="0.6" fill="#D81818" opacity="0.85"/>
<circle cx="476.6" cy="121.3" r="0.7" fill="#E01818" opacity="1"/>
<circle cx="486.2" cy="125.8" r="0.45" fill="#E8D020" opacity="0.85"/>
<circle cx="483.8" cy="108.7" r="0.45" fill="#22A028" opacity="0.7"/>
<circle cx="482.3" cy="105.0" r="0.45" fill="#22A028" opacity="0.7"/>
<circle cx="487.6" cy="122.8" r="0.6" fill="#28C830" opacity="1"/>
<circle cx="496.3" cy="140.2" r="0.7" fill="#E07818" opacity="1"/>
<circle cx="470.6" cy="133.1" r="0.7" fill="#28C830" opacity="0.85"/>
<circle cx="487.7" cy="156.2" r="0.5" fill="#22A028" opacity="0.7"/>
<circle cx="480.2" cy="141.0" r="0.6" fill="#C81414" opacity="1"/>
<circle cx="483.6" cy="132.5" r="0.6" fill="#28C830" opacity="0.85"/>
<circle cx="501.6" cy="113.1" r="0.5" fill="#E01818" opacity="1"/>
<circle cx="487.3" cy="141.7" r="0.45" fill="#22A028" opacity="0.7"/>
<circle cx="483.3" cy="127.0" r="0.6" fill="#30D838" opacity="1"/>
<circle cx="492.7" cy="118.3" r="0.45" fill="#22A028" opacity="0.85"/>
<circle cx="492.1" cy="120.9" r="0.45" fill="#E07818" opacity="1"/>
<circle cx="477.1" cy="137.6" r="0.7" fill="#C81414" opacity="0.85"/>
<circle cx="491.8" cy="148.4" r="0.45" fill="#22A028" opacity="1"/>
<circle cx="492.1" cy="124.0" r="0.5" fill="#A01010" opacity="0.85"/>
<circle cx="495.1" cy="128.6" r="0.5" fill="#E8D020" opacity="1"/>
<circle cx="478.4" cy="136.0" r="0.45" fill="#A01010" opacity="0.7"/>
<circle cx="491.7" cy="123.4" r="0.7" fill="#A01010" opacity="0.85"/>
<circle cx="489.3" cy="137.0" r="0.5" fill="#28C830" opacity="1"/>
<circle cx="493.5" cy="111.0" r="0.7" fill="#22A028" opacity="1"/>
<circle cx="496.0" cy="126.3" r="0.45" fill="#A01010" opacity="1"/>
<circle cx="481.1" cy="111.4" r="0.5" fill="#A01010" opacity="0.85"/>
<circle cx="493.8" cy="114.5" r="0.7" fill="#22A028" opacity="0.7"/>
<circle cx="495.9" cy="133.5" r="0.45" fill="#E01818" opacity="1"/>
<circle cx="501.3" cy="106.0" r="0.6" fill="#E07818" opacity="0.85"/>
<circle cx="476.6" cy="127.3" r="0.5" fill="#E07818" opacity="1"/>
<circle cx="497.8" cy="126.3" r="0.5" fill="#E07818" opacity="1"/>
<circle cx="492.9" cy="143.9" r="0.6" fill="#A01010" opacity="0.85"/>
<circle cx="475.3" cy="120.7" r="0.7" fill="#C81414" opacity="1"/>
<circle cx="502.7" cy="119.4" r="0.7" fill="#E8D020" opacity="1"/>
<circle cx="491.4" cy="108.2" r="0.45" fill="#22A028" opacity="1"/>
<circle cx="488.3" cy="128.5" r="0.6" fill="#22A028" opacity="0.7"/>
<circle cx="513.5" cy="124.0" r="0.45" fill="#C81414" opacity="1"/>
<circle cx="513.8" cy="121.8" r="0.7" fill="#A01010" opacity="1"/>
<circle cx="491.8" cy="129.8" r="0.6" fill="#E07818" opacity="0.7"/>
<circle cx="509.1" cy="120.0" r="0.6" fill="#C81414" opacity="0.7"/>
<circle cx="493.6" cy="124.9" r="0.45" fill="#E01818" opacity="1"/>
<circle cx="480.3" cy="127.5" r="0.7" fill="#28C830" opacity="1"/>
<circle cx="504.6" cy="139.3" r="0.5" fill="#C81414" opacity="1"/>
<circle cx="480.8" cy="115.1" r="0.5" fill="#28C830" opacity="1"/>
<circle cx="502.0" cy="121.5" r="0.6" fill="#E01818" opacity="0.7"/>
<circle cx="499.8" cy="134.8" r="0.7" fill="#E01818" opacity="0.85"/>
<circle cx="500.8" cy="146.6" r="0.7" fill="#E8D020" opacity="1"/>
<circle cx="485.2" cy="134.3" r="0.6" fill="#E01818" opacity="0.85"/>
<circle cx="492.3" cy="112.6" r="0.6" fill="#E8D020" opacity="0.7"/>
<circle cx="504.6" cy="135.7" r="0.7" fill="#28C830" opacity="0.85"/>
<circle cx="499.8" cy="126.2" r="0.6" fill="#28C830" opacity="0.85"/>
<circle cx="496.2" cy="133.0" r="0.7" fill="#28C830" opacity="0.7"/>
<circle cx="502.3" cy="157.2" r="0.45" fill="#E01818" opacity="1"/>
<circle cx="479.6" cy="115.7" r="0.7" fill="#C81414" opacity="1"/>
<circle cx="489.5" cy="141.8" r="0.45" fill="#E01818" opacity="1"/>
<circle cx="494.7" cy="142.9" r="0.45" fill="#E8D020" opacity="1"/>
<circle cx="477.3" cy="127.5" r="0.5" fill="#28C830" opacity="1"/>
<circle cx="493.1" cy="115.6" r="0.5" fill="#28C830" opacity="0.7"/>
<circle cx="492.7" cy="115.2" r="0.5" fill="#E8D020" opacity="0.7"/>
<circle cx="475.9" cy="109.6" r="0.45" fill="#E01818" opacity="0.7"/>
<circle cx="492.2" cy="129.9" r="0.5" fill="#28C830" opacity="1"/>
<circle cx="496.2" cy="109.0" r="0.45" fill="#C81414" opacity="0.7"/>
<circle cx="470.5" cy="124.0" r="0.5" fill="#28C830" opacity="0.85"/>
<circle cx="497.7" cy="129.4" r="0.45" fill="#E8D020" opacity="1"/>
<circle cx="488.5" cy="131.3" r="0.5" fill="#E8D020" opacity="0.7"/>
<circle cx="477.7" cy="138.7" r="0.5" fill="#28C830" opacity="0.7"/>
<circle cx="461.6" cy="119.7" r="0.5" fill="#C81414" opacity="1"/>
<circle cx="491.8" cy="127.3" r="0.45" fill="#E07818" opacity="0.85"/>
<circle cx="472.9" cy="120.0" r="0.7" fill="#28C830" opacity="0.7"/>
<circle cx="502.6" cy="130.7" r="0.7" fill="#28C830" opacity="0.85"/>
<circle cx="494.9" cy="128.3" r="0.5" fill="#C81414" opacity="1"/>
<circle cx="497.7" cy="148.1" r="0.6" fill="#C81414" opacity="0.7"/>
<circle cx="484.1" cy="151.7" r="0.7" fill="#E07818" opacity="0.7"/>
<circle cx="479.7" cy="130.1" r="0.6" fill="#C81414" opacity="0.7"/>
<circle cx="485.2" cy="121.2" r="0.45" fill="#E01818" opacity="1"/>
<circle cx="473.5" cy="116.1" r="0.6" fill="#C81414" opacity="1"/>
<circle cx="498.4" cy="123.9" r="0.6" fill="#E01818" opacity="0.85"/>
<circle cx="480.1" cy="124.9" r="0.6" fill="#E01818" opacity="1"/>
<circle cx="501.6" cy="117.1" r="0.5" fill="#C81414" opacity="0.7"/>
<circle cx="501.5" cy="130.4" r="0.6" fill="#A01010" opacity="1"/>
<circle cx="477.5" cy="135.4" r="0.7" fill="#28C830" opacity="0.85"/>
<circle cx="494.9" cy="124.9" r="0.5" fill="#A01010" opacity="0.7"/>
<circle cx="508.2" cy="135.5" r="0.7" fill="#E01818" opacity="1"/>
<circle cx="484.3" cy="128.1" r="0.5" fill="#E01818" opacity="0.7"/>
<circle cx="496.1" cy="121.6" r="0.6" fill="#22A028" opacity="0.85"/>
<circle cx="494.8" cy="117.7" r="0.5" fill="#E8D020" opacity="1"/>
<circle cx="501.5" cy="132.9" r="0.6" fill="#30D838" opacity="0.85"/>
<circle cx="473.7" cy="117.8" r="0.45" fill="#E01818" opacity="1"/>
<circle cx="475.2" cy="133.9" r="0.6" fill="#E8D020" opacity="0.7"/>
<circle cx="482.6" cy="138.7" r="0.7" fill="#E07818" opacity="0.7"/>
<circle cx="501.7" cy="154.7" r="0.7" fill="#E07818" opacity="0.85"/>
<circle cx="489.1" cy="134.8" r="0.45" fill="#E8D020" opacity="1"/>
<circle cx="505.0" cy="138.9" r="0.6" fill="#A01010" opacity="1"/>
<circle cx="492.5" cy="132.3" r="0.5" fill="#28C830" opacity="1"/>
<circle cx="511.9" cy="111.9" r="0.6" fill="#E07818" opacity="1"/>
<circle cx="502.6" cy="124.2" r="0.5" fill="#E01818" opacity="0.7"/>
<circle cx="491.5" cy="118.9" r="0.5" fill="#E01818" opacity="1"/>
<circle cx="489.3" cy="124.0" r="0.7" fill="#E01818" opacity="1"/>
<circle cx="489.3" cy="148.6" r="0.45" fill="#C81414" opacity="0.85"/>
<circle cx="489.1" cy="147.7" r="0.5" fill="#E01818" opacity="1"/>
<circle cx="505.5" cy="124.1" r="0.7" fill="#D81818" opacity="0.85"/>
<circle cx="466.8" cy="121.4" r="0.5" fill="#E01818" opacity="1"/>
<circle cx="490.9" cy="140.8" r="0.45" fill="#22A028" opacity="0.7"/>
<circle cx="484.9" cy="133.1" r="0.7" fill="#28C830" opacity="0.7"/>
<circle cx="494.4" cy="147.2" r="0.7" fill="#22A028" opacity="0.85"/>
<circle cx="479.5" cy="102.8" r="0.45" fill="#E8D020" opacity="0.85"/>
<circle cx="505.6" cy="124.9" r="0.45" fill="#E8D020" opacity="0.7"/>
<circle cx="489.9" cy="142.6" r="0.5" fill="#E07818" opacity="1"/>
<circle cx="492.0" cy="125.6" r="0.7" fill="#E01818" opacity="0.7"/>
<circle cx="495.8" cy="133.7" r="0.6" fill="#C81414" opacity="1"/>
<circle cx="484.0" cy="134.8" r="0.45" fill="#E01818" opacity="0.7"/>
<circle cx="499.3" cy="144.1" r="0.7" fill="#E07818" opacity="1"/>
<circle cx="494.8" cy="124.3" r="0.5" fill="#E07818" opacity="0.7"/>
<circle cx="496.9" cy="108.5" r="0.5" fill="#A01010" opacity="1"/>
<circle cx="470.9" cy="125.8" r="0.45" fill="#D81818" opacity="0.85"/>
<circle cx="477.3" cy="118.5" r="0.7" fill="#E01818" opacity="1"/>
<circle cx="494.3" cy="110.0" r="0.6" fill="#C81414" opacity="0.7"/>
<circle cx="478.5" cy="148.4" r="0.5" fill="#A01010" opacity="0.85"/>
<circle cx="492.7" cy="138.2" r="0.45" fill="#28C830" opacity="1"/>
<circle cx="495.7" cy="124.1" r="0.5" fill="#28C830" opacity="1"/>
<circle cx="485.5" cy="108.9" r="0.5" fill="#D81818" opacity="1"/>
<circle cx="484.2" cy="113.1" r="0.5" fill="#C81414" opacity="0.7"/>
<circle cx="495.5" cy="130.2" r="0.5" fill="#E07818" opacity="1"/>
<circle cx="498.1" cy="134.1" r="0.45" fill="#C81414" opacity="0.85"/>
<circle cx="496.2" cy="123.7" r="0.6" fill="#C81414" opacity="0.85"/>
<circle cx="475.1" cy="136.4" r="0.45" fill="#E01818" opacity="1"/>
<circle cx="491.1" cy="110.6" r="0.6" fill="#E01818" opacity="0.7"/>
<circle cx="488.7" cy="121.1" r="0.6" fill="#E01818" opacity="1"/>
<circle cx="490.7" cy="138.3" r="0.45" fill="#E01818" opacity="1"/>
<circle cx="494.2" cy="132.2" r="0.5" fill="#E8D020" opacity="0.7"/>
<circle cx="481.8" cy="130.8" r="0.6" fill="#28C830" opacity="1"/>
<circle cx="480.3" cy="138.9" r="0.7" fill="#22A028" opacity="1"/>
<circle cx="496.8" cy="146.4" r="0.7" fill="#E01818" opacity="1"/>
<circle cx="467.6" cy="133.3" r="0.5" fill="#E07818" opacity="0.85"/>
<circle cx="490.3" cy="135.5" r="0.45" fill="#E8D020" opacity="1"/>
<circle cx="491.6" cy="138.9" r="0.5" fill="#A01010" opacity="0.7"/>
<circle cx="484.7" cy="141.6" r="0.6" fill="#E01818" opacity="0.85"/>
<circle cx="510.2" cy="143.7" r="0.45" fill="#22A028" opacity="1"/>
<circle cx="496.4" cy="140.4" r="0.5" fill="#A01010" opacity="1"/>
<circle cx="489.9" cy="141.3" r="0.5" fill="#30D838" opacity="0.7"/>
<circle cx="493.3" cy="123.7" r="0.5" fill="#C81414" opacity="0.85"/>
<circle cx="495.8" cy="123.3" r="0.45" fill="#28C830" opacity="1"/>
<circle cx="494.0" cy="132.4" r="0.6" fill="#E8D020" opacity="1"/>
<circle cx="481.5" cy="119.3" r="0.7" fill="#22A028" opacity="1"/>
<circle cx="490.1" cy="144.5" r="0.7" fill="#A01010" opacity="1"/>
<circle cx="475.5" cy="118.9" r="0.7" fill="#C81414" opacity="0.7"/>
<circle cx="467.0" cy="140.4" r="0.45" fill="#22A028" opacity="0.7"/>
<circle cx="506.3" cy="124.0" r="0.45" fill="#A01010" opacity="0.7"/>
<circle cx="496.1" cy="108.5" r="0.5" fill="#E01818" opacity="1"/>
<circle cx="498.9" cy="146.8" r="0.45" fill="#E01818" opacity="1"/>
<circle cx="486.6" cy="137.7" r="0.6" fill="#30D838" opacity="1"/>
<circle cx="483.2" cy="146.8" r="0.6" fill="#E01818" opacity="0.85"/>
<circle cx="489.1" cy="104.6" r="0.6" fill="#A01010" opacity="0.7"/>
<circle cx="507.7" cy="142.7" r="0.45" fill="#E07818" opacity="1"/>
<circle cx="486.4" cy="118.0" r="0.6" fill="#22A028" opacity="1"/>
<circle cx="483.6" cy="120.4" r="0.7" fill="#C81414" opacity="0.85"/>
<circle cx="509.1" cy="113.1" r="0.6" fill="#28C830" opacity="1"/>
<circle cx="493.4" cy="121.0" r="0.7" fill="#28C830" opacity="1"/>
<circle cx="496.3" cy="126.9" r="0.45" fill="#E01818" opacity="0.7"/>
<circle cx="496.9" cy="121.1" r="0.6" fill="#28C830" opacity="0.85"/>
<circle cx="488.3" cy="109.0" r="0.7" fill="#22A028" opacity="0.85"/>
<circle cx="490.0" cy="147.1" r="0.7" fill="#28C830" opacity="1"/>
<circle cx="506.0" cy="142.6" r="0.7" fill="#22A028" opacity="1"/>
<circle cx="516.1" cy="115.7" r="0.5" fill="#E8D020" opacity="0.85"/>
<circle cx="515.4" cy="118.5" r="0.5" fill="#D81818" opacity="0.85"/>
<circle cx="488.8" cy="135.0" r="0.7" fill="#E8D020" opacity="0.85"/>
<circle cx="501.7" cy="139.7" r="0.45" fill="#E07818" opacity="1"/>
<circle cx="494.9" cy="116.7" r="0.7" fill="#E8D020" opacity="0.85"/>
<circle cx="478.0" cy="109.9" r="0.45" fill="#E01818" opacity="1"/>
<circle cx="517.4" cy="126.2" r="0.45" fill="#28C830" opacity="1"/>
<circle cx="489.5" cy="111.4" r="0.6" fill="#C81414" opacity="1"/>
<circle cx="498.3" cy="129.8" r="0.45" fill="#28C830" opacity="0.85"/>
<circle cx="474.7" cy="134.5" r="0.6" fill="#A01010" opacity="0.85"/>
<circle cx="484.1" cy="133.8" r="0.7" fill="#E8D020" opacity="1"/>
<circle cx="491.7" cy="106.3" r="0.5" fill="#E8D020" opacity="1"/>
<circle cx="476.2" cy="132.9" r="0.5" fill="#D81818" opacity="0.85"/>
<circle cx="471.4" cy="127.0" r="0.6" fill="#A01010" opacity="0.85"/>
<circle cx="495.7" cy="131.9" r="0.45" fill="#E8D020" opacity="0.7"/>
<circle cx="501.0" cy="139.3" r="0.5" fill="#22A028" opacity="0.7"/>
<circle cx="497.8" cy="112.3" r="0.45" fill="#E8D020" opacity="0.85"/>
<circle cx="481.8" cy="101.4" r="0.6" fill="#C81414" opacity="1"/>
<circle cx="468.4" cy="132.6" r="0.6" fill="#E01818" opacity="1"/>
<circle cx="482.7" cy="117.8" r="0.45" fill="#28C830" opacity="1"/>
<circle cx="497.9" cy="115.1" r="0.6" fill="#E07818" opacity="0.7"/>
<circle cx="501.9" cy="136.0" r="0.6" fill="#C81414" opacity="1"/>
<circle cx="484.1" cy="123.9" r="0.6" fill="#C81414" opacity="0.85"/>
<circle cx="495.3" cy="119.7" r="0.45" fill="#E01818" opacity="1"/>
<circle cx="471.5" cy="122.0" r="0.7" fill="#A01010" opacity="1"/>
<circle cx="477.4" cy="121.7" r="0.6" fill="#A01010" opacity="0.85"/>
<circle cx="488.7" cy="135.0" r="0.45" fill="#E8D020" opacity="1"/>
<circle cx="491.5" cy="108.7" r="0.6" fill="#22A028" opacity="0.7"/>
<circle cx="479.0" cy="143.7" r="0.7" fill="#C81414" opacity="0.7"/>
<circle cx="483.2" cy="121.9" r="0.5" fill="#28C830" opacity="1"/>
<circle cx="480.8" cy="103.2" r="0.45" fill="#A01010" opacity="1"/>
<circle cx="470.8" cy="117.2" r="0.6" fill="#E07818" opacity="0.85"/>
<circle cx="490.5" cy="119.8" r="0.5" fill="#E01818" opacity="1"/>
<circle cx="498.3" cy="125.7" r="0.6" fill="#E01818" opacity="1"/>
<circle cx="502.4" cy="118.4" r="0.5" fill="#A01010" opacity="1"/>
<circle cx="483.5" cy="132.9" r="0.6" fill="#E01818" opacity="0.7"/>
<circle cx="502.7" cy="118.0" r="0.5" fill="#A01010" opacity="1"/>
<circle cx="483.0" cy="128.7" r="0.45" fill="#E8D020" opacity="1"/>
<circle cx="490.9" cy="115.2" r="0.6" fill="#E8D020" opacity="1"/>
<circle cx="475.7" cy="134.6" r="0.5" fill="#E01818" opacity="1"/>
<circle cx="480.8" cy="115.4" r="0.5" fill="#E01818" opacity="0.85"/>
<circle cx="480.8" cy="127.6" r="0.45" fill="#E8D020" opacity="1"/>
<circle cx="482.4" cy="136.0" r="0.6" fill="#A01010" opacity="1"/>
<circle cx="510.0" cy="139.3" r="0.5" fill="#C81414" opacity="1"/>
<circle cx="478.1" cy="132.6" r="0.45" fill="#C81414" opacity="1"/>
<circle cx="494.0" cy="147.9" r="0.6" fill="#E01818" opacity="0.7"/>
<circle cx="482.9" cy="127.6" r="0.45" fill="#E07818" opacity="1"/>
<circle cx="463.5" cy="133.4" r="0.5" fill="#E01818" opacity="1"/>
<circle cx="508.7" cy="127.8" r="0.6" fill="#D81818" opacity="0.7"/>
<circle cx="484.2" cy="112.8" r="0.6" fill="#D81818" opacity="0.7"/>
<circle cx="493.3" cy="151.9" r="0.7" fill="#E01818" opacity="1"/>
<circle cx="469.5" cy="134.0" r="0.7" fill="#E01818" opacity="0.85"/>
<circle cx="494.9" cy="144.6" r="0.7" fill="#E8D020" opacity="1"/>
<circle cx="485.7" cy="109.5" r="0.6" fill="#E07818" opacity="0.85"/>
<circle cx="489.4" cy="115.6" r="0.5" fill="#E8D020" opacity="1"/>
<circle cx="504.0" cy="122.9" r="0.6" fill="#E01818" opacity="1"/>
<circle cx="474.5" cy="129.5" r="0.5" fill="#22A028" opacity="1"/>
<circle cx="506.1" cy="142.8" r="0.5" fill="#22A028" opacity="1"/>
<circle cx="492.0" cy="129.3" r="0.6" fill="#C81414" opacity="1"/>
<circle cx="476.3" cy="111.5" r="0.7" fill="#A01010" opacity="1"/>
<circle cx="489.1" cy="139.9" r="0.5" fill="#28C830" opacity="0.7"/>
<circle cx="509.6" cy="123.0" r="0.5" fill="#28C830" opacity="1"/>
<circle cx="474.9" cy="118.4" r="0.45" fill="#E07818" opacity="0.7"/>
<circle cx="485.3" cy="108.1" r="0.45" fill="#E07818" opacity="1"/>
<circle cx="494.1" cy="141.1" r="0.5" fill="#E07818" opacity="0.7"/>
<circle cx="479.2" cy="133.9" r="0.6" fill="#E07818" opacity="1"/>
<circle cx="489.6" cy="125.9" r="0.45" fill="#30D838" opacity="1"/>
<circle cx="497.8" cy="139.2" r="0.45" fill="#A01010" opacity="0.85"/>
<circle cx="486.5" cy="119.1" r="0.6" fill="#E8D020" opacity="1"/>
<circle cx="473.9" cy="118.5" r="0.6" fill="#E01818" opacity="1"/>
<circle cx="493.2" cy="121.1" r="0.6" fill="#28C830" opacity="0.85"/>
<circle cx="496.6" cy="120.4" r="0.6" fill="#22A028" opacity="0.85"/>
<circle cx="483.9" cy="109.9" r="0.7" fill="#E01818" opacity="1"/>
<circle cx="497.8" cy="134.6" r="0.45" fill="#E01818" opacity="0.85"/>
<circle cx="471.8" cy="124.2" r="0.7" fill="#E01818" opacity="0.85"/>
<circle cx="491.2" cy="113.3" r="0.5" fill="#C81414" opacity="0.7"/>
<circle cx="471.5" cy="126.2" r="0.5" fill="#C81414" opacity="0.7"/>
<circle cx="493.5" cy="137.7" r="0.6" fill="#28C830" opacity="0.85"/>
<circle cx="483.8" cy="122.3" r="0.45" fill="#E8D020" opacity="1"/>
<circle cx="495.1" cy="131.8" r="0.7" fill="#E8D020" opacity="1"/>
<circle cx="496.7" cy="135.8" r="0.5" fill="#E8D020" opacity="1"/>
<circle cx="486.9" cy="125.5" r="0.5" fill="#E07818" opacity="0.85"/>
<circle cx="489.0" cy="128.6" r="0.45" fill="#E8D020" opacity="0.7"/>
<circle cx="474.5" cy="120.6" r="0.5" fill="#28C830" opacity="1"/>
<circle cx="490.5" cy="132.1" r="0.45" fill="#A01010" opacity="1"/>
<circle cx="492.1" cy="116.1" r="0.45" fill="#28C830" opacity="0.7"/>
<circle cx="466.7" cy="126.5" r="0.7" fill="#C81414" opacity="1"/>
<circle cx="486.8" cy="150.2" r="0.45" fill="#D81818" opacity="1"/>
<circle cx="494.8" cy="127.1" r="0.5" fill="#E8D020" opacity="0.85"/>
<circle cx="502.8" cy="153.7" r="0.7" fill="#A01010" opacity="1"/>
<circle cx="495.1" cy="152.9" r="0.6" fill="#D81818" opacity="1"/>
<circle cx="493.2" cy="137.2" r="0.6" fill="#30D838" opacity="0.7"/>
<circle cx="485.4" cy="120.2" r="0.5" fill="#E8D020" opacity="1"/>
<circle cx="480.3" cy="138.1" r="0.7" fill="#E01818" opacity="1"/>
<circle cx="483.9" cy="134.5" r="0.45" fill="#A01010" opacity="1"/>
<circle cx="506.3" cy="112.3" r="0.5" fill="#D81818" opacity="1"/>
<circle cx="499.4" cy="117.5" r="0.6" fill="#E07818" opacity="0.7"/>
<circle cx="479.9" cy="125.4" r="0.6" fill="#E01818" opacity="0.7"/>
<circle cx="482.9" cy="127.2" r="0.45" fill="#28C830" opacity="1"/>
<circle cx="502.6" cy="145.0" r="0.5" fill="#C81414" opacity="1"/>
<circle cx="513.2" cy="122.4" r="0.6" fill="#C81414" opacity="1"/>
<circle cx="489.9" cy="136.3" r="0.5" fill="#C81414" opacity="1"/>
<circle cx="495.0" cy="125.4" r="0.5" fill="#28C830" opacity="0.85"/>
<circle cx="494.3" cy="123.1" r="0.45" fill="#30D838" opacity="1"/>
<circle cx="502.3" cy="112.7" r="0.7" fill="#E01818" opacity="0.85"/>
<circle cx="504.0" cy="130.2" r="0.5" fill="#E07818" opacity="1"/>
<circle cx="461.0" cy="149.9" r="0.45" fill="#E8D020" opacity="0.7"/>
<circle cx="486.5" cy="145.7" r="0.7" fill="#E07818" opacity="0.7"/>
<circle cx="482.8" cy="104.2" r="0.6" fill="#C81414" opacity="1"/>
<circle cx="482.1" cy="101.6" r="0.7" fill="#C81414" opacity="0.85"/>
<circle cx="467.5" cy="142.8" r="0.5" fill="#E01818" opacity="0.7"/>
<circle cx="494.4" cy="128.6" r="0.45" fill="#28C830" opacity="0.7"/>
<circle cx="486.9" cy="139.2" r="0.45" fill="#E07818" opacity="0.7"/>
<circle cx="493.9" cy="152.1" r="0.7" fill="#28C830" opacity="0.7"/>
<circle cx="480.3" cy="133.1" r="0.7" fill="#22A028" opacity="1"/>
<circle cx="485.4" cy="108.3" r="0.7" fill="#E01818" opacity="0.85"/>
<circle cx="494.8" cy="149.4" r="0.6" fill="#C81414" opacity="0.85"/>
<circle cx="516.1" cy="131.6" r="0.45" fill="#E8D020" opacity="0.7"/>
<circle cx="473.4" cy="140.7" r="0.45" fill="#E07818" opacity="1"/>
<circle cx="486.2" cy="104.3" r="0.5" fill="#C81414" opacity="1"/>
<circle cx="485.1" cy="138.8" r="0.45" fill="#A01010" opacity="1"/>
<circle cx="477.7" cy="144.4" r="0.7" fill="#28C830" opacity="0.7"/>
<circle cx="514.9" cy="118.8" r="0.45" fill="#C81414" opacity="0.85"/>
<circle cx="495.0" cy="125.1" r="0.6" fill="#E01818" opacity="1"/>
<circle cx="514.4" cy="137.8" r="0.7" fill="#C81414" opacity="1"/>
<circle cx="469.9" cy="137.0" r="0.5" fill="#28C830" opacity="0.7"/>
<circle cx="490.6" cy="129.1" r="0.45" fill="#E07818" opacity="1"/>
<circle cx="480.4" cy="145.3" r="0.6" fill="#E01818" opacity="0.85"/>
<circle cx="471.8" cy="134.7" r="0.5" fill="#A01010" opacity="0.7"/>
<circle cx="507.9" cy="122.9" r="0.5" fill="#28C830" opacity="0.85"/>
<circle cx="495.6" cy="137.1" r="0.6" fill="#E01818" opacity="0.85"/>
<circle cx="498.5" cy="132.7" r="0.6" fill="#E01818" opacity="1"/>
<circle cx="508.4" cy="117.1" r="0.5" fill="#28C830" opacity="0.85"/>
<circle cx="493.5" cy="129.4" r="0.45" fill="#22A028" opacity="1"/>
<circle cx="476.9" cy="127.9" r="0.6" fill="#C81414" opacity="0.85"/>
<circle cx="499.4" cy="124.1" r="0.45" fill="#E8D020" opacity="1"/>
<circle cx="503.6" cy="129.8" r="0.45" fill="#28C830" opacity="0.85"/>
<circle cx="474.0" cy="137.9" r="0.45" fill="#E01818" opacity="0.7"/>
<circle cx="493.2" cy="120.1" r="0.7" fill="#30D838" opacity="0.85"/>
<circle cx="502.2" cy="148.0" r="0.45" fill="#A01010" opacity="1"/>
<circle cx="490.2" cy="128.4" r="0.45" fill="#28C830" opacity="0.7"/>
<circle cx="506.5" cy="137.1" r="0.5" fill="#E01818" opacity="0.85"/>
<circle cx="479.3" cy="126.9" r="0.7" fill="#E01818" opacity="1"/>
<circle cx="488.9" cy="125.9" r="0.6" fill="#E01818" opacity="1"/>
<circle cx="501.5" cy="143.9" r="0.6" fill="#D81818" opacity="1"/>
<circle cx="500.7" cy="137.5" r="0.6" fill="#E8D020" opacity="0.85"/>
<circle cx="490.2" cy="126.8" r="0.5" fill="#C81414" opacity="0.7"/>
<circle cx="474.5" cy="130.6" r="0.5" fill="#E01818" opacity="1"/>
<circle cx="504.4" cy="105.9" r="0.45" fill="#E01818" opacity="0.7"/>
<circle cx="480.1" cy="105.5" r="0.6" fill="#D81818" opacity="0.7"/>
<circle cx="485.3" cy="141.2" r="0.5" fill="#E8D020" opacity="0.7"/>
<circle cx="479.4" cy="131.5" r="0.45" fill="#C81414" opacity="1"/>
<circle cx="514.2" cy="120.2" r="0.6" fill="#D81818" opacity="1"/>
<circle cx="471.7" cy="123.3" r="0.5" fill="#E07818" opacity="1"/>
<circle cx="500.4" cy="130.5" r="0.6" fill="#28C830" opacity="1"/>
<circle cx="484.7" cy="134.6" r="0.5" fill="#E01818" opacity="1"/>
<circle cx="465.8" cy="135.3" r="0.5" fill="#A01010" opacity="1"/>
<circle cx="481.8" cy="125.5" r="0.6" fill="#E01818" opacity="0.7"/>
<circle cx="491.3" cy="132.6" r="0.7" fill="#22A028" opacity="0.7"/>
<circle cx="498.9" cy="122.1" r="0.5" fill="#C81414" opacity="0.85"/>
<circle cx="504.2" cy="115.8" r="0.6" fill="#E01818" opacity="0.7"/>
<circle cx="496.9" cy="110.6" r="0.6" fill="#E07818" opacity="0.85"/>
<circle cx="474.8" cy="117.6" r="0.45" fill="#C81414" opacity="1"/>
<circle cx="518.1" cy="121.9" r="0.45" fill="#28C830" opacity="1"/>
<circle cx="490.7" cy="119.2" r="0.6" fill="#22A028" opacity="1"/>
<circle cx="494.9" cy="124.4" r="0.45" fill="#22A028" opacity="1"/>
<circle cx="481.1" cy="126.6" r="0.7" fill="#A01010" opacity="1"/>
<circle cx="505.5" cy="148.9" r="0.5" fill="#22A028" opacity="1"/>
<circle cx="480.1" cy="145.1" r="0.45" fill="#E01818" opacity="0.7"/>
<circle cx="511.3" cy="126.7" r="0.6" fill="#C81414" opacity="1"/>
<circle cx="475.4" cy="120.4" r="0.7" fill="#E8D020" opacity="1"/>
<circle cx="499.0" cy="129.6" r="0.45" fill="#E01818" opacity="0.85"/>
<circle cx="486.8" cy="122.0" r="0.5" fill="#28C830" opacity="0.85"/>
<circle cx="478.9" cy="124.9" r="0.6" fill="#30D838" opacity="0.7"/>
<circle cx="474.1" cy="146.1" r="0.5" fill="#C81414" opacity="0.7"/>
<circle cx="484.1" cy="136.6" r="0.7" fill="#28C830" opacity="0.85"/>
<circle cx="496.0" cy="123.1" r="0.7" fill="#E01818" opacity="0.85"/>
<circle cx="500.3" cy="112.5" r="0.45" fill="#D81818" opacity="1"/>
<circle cx="465.1" cy="128.9" r="0.7" fill="#28C830" opacity="0.7"/>
<circle cx="489.5" cy="121.1" r="0.6" fill="#E07818" opacity="0.85"/>
<circle cx="484.8" cy="129.5" r="0.45" fill="#A01010" opacity="0.7"/>
<circle cx="475.7" cy="123.7" r="0.7" fill="#E07818" opacity="0.7"/>
<circle cx="490.1" cy="113.7" r="0.5" fill="#A01010" opacity="1"/>
<circle cx="467.9" cy="125.9" r="0.45" fill="#D81818" opacity="1"/>
<circle cx="484.4" cy="108.8" r="0.5" fill="#D81818" opacity="1"/>
<circle cx="507.3" cy="133.0" r="0.6" fill="#E8D020" opacity="1"/>
<circle cx="502.2" cy="140.8" r="0.5" fill="#D81818" opacity="1"/>
<circle cx="507.1" cy="134.4" r="0.45" fill="#E01818" opacity="0.85"/>
<circle cx="493.9" cy="104.9" r="0.6" fill="#E8D020" opacity="0.7"/>
<circle cx="509.6" cy="127.9" r="0.45" fill="#C81414" opacity="1"/>
<circle cx="483.3" cy="132.9" r="0.7" fill="#E01818" opacity="1"/>
<circle cx="491.6" cy="117.7" r="0.6" fill="#E01818" opacity="0.85"/>
<circle cx="479.7" cy="108.7" r="0.5" fill="#C81414" opacity="1"/>
<circle cx="495.7" cy="121.9" r="0.6" fill="#22A028" opacity="0.85"/>
<circle cx="464.2" cy="139.3" r="0.6" fill="#E01818" opacity="1"/>
<circle cx="487.5" cy="140.5" r="0.6" fill="#A01010" opacity="1"/>
<circle cx="482.8" cy="132.2" r="0.5" fill="#30D838" opacity="0.85"/>
<circle cx="496.0" cy="140.9" r="0.6" fill="#28C830" opacity="1"/>
<circle cx="506.3" cy="116.9" r="0.7" fill="#E01818" opacity="0.7"/>
<circle cx="494.8" cy="121.5" r="0.45" fill="#E01818" opacity="0.7"/>
<circle cx="478.8" cy="134.7" r="0.5" fill="#28C830" opacity="0.7"/>
<circle cx="496.0" cy="136.0" r="0.6" fill="#E8D020" opacity="1"/>
<circle cx="503.5" cy="147.7" r="0.6" fill="#A01010" opacity="0.85"/>
<circle cx="495.4" cy="138.8" r="0.7" fill="#22A028" opacity="0.7"/>
<circle cx="491.1" cy="120.0" r="0.6" fill="#E8D020" opacity="0.7"/>
<circle cx="466.5" cy="139.7" r="0.45" fill="#E01818" opacity="1"/>
<circle cx="481.1" cy="109.4" r="0.5" fill="#28C830" opacity="1"/>
<circle cx="478.5" cy="118.1" r="0.5" fill="#A01010" opacity="1"/>
<circle cx="485.7" cy="139.5" r="0.6" fill="#E8D020" opacity="0.7"/>
<circle cx="499.3" cy="139.9" r="0.45" fill="#E01818" opacity="0.85"/>
<circle cx="498.6" cy="134.2" r="0.45" fill="#22A028" opacity="1"/>
<circle cx="472.5" cy="133.8" r="0.6" fill="#E01818" opacity="0.7"/>
<circle cx="490.4" cy="106.9" r="0.45" fill="#E07818" opacity="0.85"/>
<circle cx="504.4" cy="139.3" r="0.6" fill="#C81414" opacity="0.85"/>
<circle cx="506.3" cy="131.6" r="0.6" fill="#C81414" opacity="0.85"/>
<circle cx="491.9" cy="138.8" r="0.5" fill="#C81414" opacity="1"/>
<circle cx="498.9" cy="131.2" r="0.5" fill="#E07818" opacity="0.85"/>
<circle cx="505.3" cy="115.9" r="0.6" fill="#22A028" opacity="0.85"/>
<circle cx="494.7" cy="142.4" r="0.45" fill="#22A028" opacity="1"/>
<circle cx="492.6" cy="145.1" r="0.7" fill="#D81818" opacity="1"/>
<circle cx="494.7" cy="136.8" r="0.7" fill="#22A028" opacity="0.85"/>
<circle cx="511.2" cy="126.9" r="0.6" fill="#C81414" opacity="1"/>
<circle cx="492.6" cy="140.6" r="0.6" fill="#30D838" opacity="1"/>
<circle cx="480.5" cy="99.6" r="0.45" fill="#E07818" opacity="1"/>
<circle cx="486.7" cy="124.7" r="0.7" fill="#E07818" opacity="1"/>
<circle cx="501.0" cy="107.8" r="0.6" fill="#28C830" opacity="0.85"/>
<circle cx="476.6" cy="146.3" r="0.45" fill="#A01010" opacity="1"/>
<circle cx="485.0" cy="133.2" r="0.6" fill="#22A028" opacity="0.85"/>
<circle cx="495.0" cy="123.7" r="0.5" fill="#28C830" opacity="0.7"/>
<circle cx="491.2" cy="135.3" r="0.45" fill="#E8D020" opacity="0.85"/>
<circle cx="484.4" cy="126.0" r="0.45" fill="#28C830" opacity="0.85"/>
<circle cx="492.4" cy="140.6" r="0.45" fill="#E8D020" opacity="0.7"/>
<circle cx="482.8" cy="126.5" r="0.45" fill="#22A028" opacity="0.7"/>
<circle cx="507.7" cy="118.6" r="0.5" fill="#E8D020" opacity="1"/>
<circle cx="467.4" cy="129.9" r="0.7" fill="#C81414" opacity="0.7"/>
<circle cx="509.0" cy="112.6" r="0.7" fill="#A01010" opacity="1"/>
<circle cx="500.7" cy="141.5" r="0.5" fill="#D81818" opacity="1"/>
<circle cx="483.5" cy="123.7" r="0.5" fill="#28C830" opacity="1"/>
<circle cx="481.8" cy="109.8" r="0.6" fill="#E01818" opacity="1"/>
<circle cx="479.7" cy="129.7" r="0.5" fill="#E8D020" opacity="1"/>
<circle cx="477.1" cy="119.8" r="0.5" fill="#E01818" opacity="1"/>
<circle cx="494.4" cy="142.8" r="0.7" fill="#C81414" opacity="1"/>
<circle cx="482.5" cy="120.4" r="0.5" fill="#C81414" opacity="0.85"/>
<circle cx="488.9" cy="147.2" r="0.6" fill="#E01818" opacity="0.7"/>
<circle cx="494.2" cy="140.6" r="0.7" fill="#E01818" opacity="0.85"/>
<circle cx="491.4" cy="110.1" r="0.45" fill="#D81818" opacity="1"/>
<circle cx="494.4" cy="123.9" r="0.45" fill="#28C830" opacity="0.7"/>
<circle cx="490.2" cy="114.4" r="0.7" fill="#E01818" opacity="0.7"/>
<circle cx="500.8" cy="128.9" r="0.5" fill="#C81414" opacity="0.7"/>
<circle cx="496.7" cy="125.7" r="0.45" fill="#22A028" opacity="1"/>
<circle cx="480.8" cy="136.6" r="0.7" fill="#22A028" opacity="0.7"/>
<circle cx="481.4" cy="133.9" r="0.45" fill="#22A028" opacity="0.7"/>
<circle cx="489.8" cy="119.9" r="0.7" fill="#E01818" opacity="0.7"/>
<circle cx="487.0" cy="124.2" r="0.7" fill="#E01818" opacity="0.7"/>
<circle cx="486.1" cy="109.0" r="0.7" fill="#28C830" opacity="0.85"/>
<circle cx="484.6" cy="139.2" r="0.6" fill="#E01818" opacity="0.85"/>
<circle cx="487.8" cy="127.7" r="0.45" fill="#E01818" opacity="0.85"/>
<circle cx="486.3" cy="113.8" r="0.5" fill="#E07818" opacity="1"/>
<circle cx="504.8" cy="139.9" r="0.6" fill="#C81414" opacity="1"/>
<circle cx="486.3" cy="132.8" r="0.45" fill="#30D838" opacity="0.85"/>
<circle cx="485.0" cy="124.6" r="0.7" fill="#30D838" opacity="1"/>
<circle cx="483.3" cy="135.7" r="0.6" fill="#E07818" opacity="0.85"/>
<circle cx="502.0" cy="121.6" r="0.45" fill="#28C830" opacity="1"/>
<circle cx="492.2" cy="133.5" r="0.45" fill="#A01010" opacity="0.7"/>
<circle cx="498.7" cy="114.8" r="0.6" fill="#C81414" opacity="1"/>
<circle cx="484.4" cy="147.7" r="0.45" fill="#A01010" opacity="1"/>
<circle cx="481.7" cy="134.7" r="0.5" fill="#E8D020" opacity="1"/>
<circle cx="492.2" cy="118.5" r="0.6" fill="#22A028" opacity="1"/>
<circle cx="510.2" cy="122.8" r="0.5" fill="#22A028" opacity="0.85"/>
<circle cx="504.4" cy="142.8" r="0.7" fill="#E8D020" opacity="1"/>
<circle cx="486.0" cy="133.7" r="0.5" fill="#C81414" opacity="1"/>
<circle cx="484.8" cy="142.0" r="0.45" fill="#22A028" opacity="0.85"/>
<circle cx="495.0" cy="134.0" r="0.6" fill="#30D838" opacity="1"/>
<circle cx="503.7" cy="130.2" r="0.7" fill="#C81414" opacity="1"/>
<circle cx="486.0" cy="135.9" r="0.5" fill="#E01818" opacity="1"/>
<circle cx="483.1" cy="139.6" r="0.5" fill="#C81414" opacity="0.85"/>
<circle cx="505.6" cy="130.8" r="0.45" fill="#C81414" opacity="1"/>
<circle cx="498.7" cy="132.1" r="0.45" fill="#E8D020" opacity="1"/>
<circle cx="489.0" cy="138.4" r="0.7" fill="#E01818" opacity="1"/>
<circle cx="495.0" cy="123.2" r="0.45" fill="#E8D020" opacity="0.7"/>
<circle cx="480.1" cy="136.5" r="0.7" fill="#30D838" opacity="1"/>
<circle cx="492.9" cy="127.5" r="0.6" fill="#22A028" opacity="0.7"/>
<circle cx="493.8" cy="146.8" r="0.45" fill="#A01010" opacity="0.7"/>
<circle cx="470.2" cy="133.9" r="0.6" fill="#C81414" opacity="1"/>
<circle cx="490.6" cy="133.0" r="0.5" fill="#28C830" opacity="1"/>
<circle cx="490.2" cy="144.2" r="0.45" fill="#E07818" opacity="1"/>
<circle cx="476.9" cy="117.2" r="0.6" fill="#C81414" opacity="1"/>
<circle cx="496.5" cy="128.6" r="0.7" fill="#E01818" opacity="0.7"/>
<circle cx="496.0" cy="119.3" r="0.5" fill="#E8D020" opacity="1"/>
<circle cx="492.1" cy="130.7" r="0.45" fill="#A01010" opacity="0.7"/>
<circle cx="488.5" cy="148.0" r="0.6" fill="#28C830" opacity="0.85"/>
<circle cx="510.7" cy="119.3" r="0.45" fill="#A01010" opacity="1"/>
<circle cx="479.9" cy="158.7" r="0.5" fill="#E07818" opacity="1"/>
<circle cx="483.1" cy="130.9" r="0.45" fill="#E01818" opacity="0.7"/>
<circle cx="498.6" cy="126.8" r="0.45" fill="#22A028" opacity="0.85"/>
<circle cx="465.6" cy="133.1" r="0.45" fill="#E01818" opacity="1"/>
<circle cx="504.2" cy="120.9" r="0.5" fill="#22A028" opacity="1"/>
<circle cx="487.8" cy="119.4" r="0.5" fill="#E07818" opacity="0.85"/>
<circle cx="509.8" cy="127.9" r="0.6" fill="#A01010" opacity="1"/>
<circle cx="496.6" cy="148.8" r="0.45" fill="#22A028" opacity="1"/>
<circle cx="494.9" cy="146.4" r="0.5" fill="#C81414" opacity="1"/>
<circle cx="496.5" cy="136.9" r="0.7" fill="#E8D020" opacity="1"/>
<circle cx="497.4" cy="133.1" r="0.45" fill="#E8D020" opacity="0.7"/>
<circle cx="493.3" cy="133.4" r="0.45" fill="#C81414" opacity="0.7"/>
<circle cx="473.9" cy="144.6" r="0.7" fill="#C81414" opacity="0.85"/>
<circle cx="497.9" cy="131.6" r="0.5" fill="#28C830" opacity="0.7"/>
<circle cx="513.5" cy="112.0" r="0.6" fill="#C81414" opacity="0.85"/>
<circle cx="498.4" cy="130.2" r="0.6" fill="#C81414" opacity="0.85"/>
<circle cx="477.9" cy="148.4" r="0.7" fill="#28C830" opacity="1"/>
<circle cx="492.9" cy="111.4" r="0.5" fill="#E01818" opacity="1"/>
<circle cx="499.3" cy="95.0" r="0.45" fill="#E01818" opacity="0.7"/>
<circle cx="504.4" cy="108.1" r="0.7" fill="#E01818" opacity="1"/>
<circle cx="473.8" cy="128.1" r="0.45" fill="#E07818" opacity="1"/>
<circle cx="502.1" cy="121.6" r="0.7" fill="#30D838" opacity="0.85"/>
<circle cx="504.2" cy="110.3" r="0.45" fill="#22A028" opacity="1"/>
<circle cx="482.7" cy="143.1" r="0.45" fill="#22A028" opacity="0.85"/>
<circle cx="494.6" cy="120.7" r="0.6" fill="#E07818" opacity="1"/>
<circle cx="494.4" cy="130.0" r="0.6" fill="#28C830" opacity="0.85"/>
<circle cx="496.4" cy="122.6" r="0.5" fill="#A01010" opacity="1"/>
<circle cx="503.7" cy="151.9" r="0.6" fill="#E01818" opacity="1"/>
<circle cx="507.6" cy="131.8" r="0.5" fill="#E8D020" opacity="1"/>
<circle cx="481.7" cy="133.2" r="0.6" fill="#28C830" opacity="1"/>
<circle cx="485.7" cy="136.5" r="0.45" fill="#E07818" opacity="1"/>
<circle cx="492.3" cy="121.8" r="0.5" fill="#28C830" opacity="0.7"/>
<circle cx="478.2" cy="134.5" r="0.6" fill="#E01818" opacity="1"/>
<circle cx="484.9" cy="141.7" r="0.6" fill="#E01818" opacity="0.7"/>
<circle cx="481.0" cy="139.0" r="0.6" fill="#22A028" opacity="0.85"/>
<circle cx="487.4" cy="128.5" r="0.45" fill="#E07818" opacity="0.85"/>
<circle cx="514.2" cy="127.4" r="0.7" fill="#E01818" opacity="1"/>
<circle cx="503.4" cy="123.3" r="0.7" fill="#E8D020" opacity="1"/>
<circle cx="484.1" cy="129.9" r="0.5" fill="#30D838" opacity="1"/>
<circle cx="471.2" cy="139.0" r="0.7" fill="#C81414" opacity="1"/>
<circle cx="479.1" cy="146.0" r="0.45" fill="#E01818" opacity="1"/>
<circle cx="491.4" cy="116.5" r="0.5" fill="#E07818" opacity="0.7"/>
<circle cx="489.9" cy="128.9" r="0.5" fill="#E01818" opacity="0.85"/>
<circle cx="467.3" cy="128.2" r="0.7" fill="#E8D020" opacity="0.7"/>
<circle cx="504.4" cy="137.7" r="0.45" fill="#E01818" opacity="1"/>
<circle cx="500.4" cy="135.8" r="0.5" fill="#E01818" opacity="1"/>
<circle cx="503.4" cy="140.0" r="0.5" fill="#E8D020" opacity="1"/>
<circle cx="496.3" cy="125.9" r="0.5" fill="#22A028" opacity="0.7"/>
<circle cx="491.8" cy="130.1" r="0.6" fill="#C81414" opacity="1"/>
<circle cx="505.2" cy="137.2" r="0.7" fill="#C81414" opacity="0.7"/>
<circle cx="481.6" cy="118.9" r="0.6" fill="#E8D020" opacity="1"/>
<circle cx="476.3" cy="123.9" r="0.6" fill="#22A028" opacity="0.85"/>
<circle cx="492.4" cy="111.9" r="0.45" fill="#22A028" opacity="0.7"/>
<circle cx="496.4" cy="122.0" r="0.5" fill="#28C830" opacity="1"/>
<circle cx="494.4" cy="145.4" r="0.7" fill="#D81818" opacity="1"/>
<circle cx="467.4" cy="127.6" r="0.5" fill="#E01818" opacity="1"/>
<circle cx="492.9" cy="134.1" r="0.7" fill="#C81414" opacity="0.85"/>
<circle cx="496.0" cy="142.7" r="0.7" fill="#A01010" opacity="0.85"/>
<circle cx="489.7" cy="119.1" r="0.5" fill="#E01818" opacity="0.85"/>
<circle cx="492.7" cy="115.1" r="0.45" fill="#E07818" opacity="0.85"/>
<circle cx="502.1" cy="129.4" r="0.6" fill="#E8D020" opacity="1"/>
<circle cx="491.3" cy="132.3" r="0.45" fill="#A01010" opacity="0.85"/>
<circle cx="485.5" cy="135.0" r="0.6" fill="#30D838" opacity="0.85"/>
<circle cx="479.1" cy="126.4" r="0.5" fill="#E01818" opacity="0.85"/>
<circle cx="472.3" cy="115.0" r="0.45" fill="#E01818" opacity="0.85"/>
<circle cx="493.4" cy="116.9" r="0.7" fill="#E8D020" opacity="0.7"/>
<circle cx="481.3" cy="132.8" r="0.45" fill="#E01818" opacity="1"/>
<circle cx="507.8" cy="137.9" r="0.5" fill="#C81414" opacity="1"/>
<circle cx="480.4" cy="128.7" r="0.5" fill="#C81414" opacity="0.85"/>
<circle cx="499.6" cy="111.6" r="0.6" fill="#E01818" opacity="0.7"/>
<circle cx="490.8" cy="129.0" r="0.5" fill="#E01818" opacity="1"/>
<circle cx="484.1" cy="123.4" r="0.6" fill="#E01818" opacity="1"/>
<circle cx="506.6" cy="124.8" r="0.7" fill="#C81414" opacity="0.7"/>
<circle cx="493.6" cy="134.4" r="0.7" fill="#E8D020" opacity="0.7"/>
<circle cx="498.2" cy="111.2" r="0.7" fill="#A01010" opacity="1"/>
<circle cx="496.3" cy="142.7" r="0.5" fill="#22A028" opacity="0.7"/>
<circle cx="498.8" cy="150.8" r="0.6" fill="#E07818" opacity="0.85"/>
<circle cx="478.0" cy="110.2" r="0.7" fill="#A01010" opacity="1"/>
<circle cx="496.0" cy="139.9" r="0.45" fill="#A01010" opacity="1"/>
<circle cx="479.0" cy="119.0" r="0.5" fill="#E01818" opacity="0.85"/>
<circle cx="483.6" cy="123.8" r="0.45" fill="#C81414" opacity="0.7"/>
<circle cx="471.5" cy="122.4" r="0.5" fill="#D81818" opacity="0.85"/>
<circle cx="470.2" cy="137.6" r="0.7" fill="#E01818" opacity="1"/>
<circle cx="497.5" cy="141.4" r="0.45" fill="#C81414" opacity="0.85"/>
<circle cx="489.7" cy="142.6" r="0.5" fill="#E01818" opacity="0.7"/>
<circle cx="493.6" cy="129.4" r="0.5" fill="#30D838" opacity="1"/>
<circle cx="504.7" cy="132.3" r="0.45" fill="#A01010" opacity="1"/>
<circle cx="479.1" cy="130.4" r="0.5" fill="#C81414" opacity="0.85"/>
<circle cx="490.1" cy="122.1" r="0.5" fill="#22A028" opacity="0.85"/>
<circle cx="481.3" cy="116.2" r="0.45" fill="#C81414" opacity="1"/>
<circle cx="494.6" cy="121.5" r="0.45" fill="#C81414" opacity="0.85"/>
<circle cx="498.7" cy="135.4" r="0.45" fill="#E8D020" opacity="1"/>
<circle cx="499.2" cy="118.6" r="0.5" fill="#E07818" opacity="1"/>
<circle cx="515.0" cy="128.2" r="0.5" fill="#E07818" opacity="1"/>
<circle cx="488.9" cy="150.0" r="0.45" fill="#D81818" opacity="0.7"/>
<circle cx="495.5" cy="121.5" r="0.5" fill="#E01818" opacity="0.85"/>
<circle cx="473.9" cy="112.4" r="0.45" fill="#D81818" opacity="1"/>
<circle cx="475.3" cy="132.8" r="0.7" fill="#22A028" opacity="1"/>
<circle cx="486.4" cy="144.8" r="0.7" fill="#22A028" opacity="1"/>
<circle cx="475.3" cy="130.4" r="0.5" fill="#E07818" opacity="1"/>
<circle cx="497.5" cy="137.4" r="0.45" fill="#E07818" opacity="1"/>
<circle cx="517.5" cy="123.5" r="0.5" fill="#E8D020" opacity="0.7"/>
<circle cx="498.2" cy="125.3" r="0.7" fill="#A01010" opacity="1"/>
<circle cx="481.1" cy="107.9" r="0.7" fill="#22A028" opacity="1"/>
<circle cx="503.8" cy="129.9" r="0.5" fill="#30D838" opacity="0.85"/>
<circle cx="490.6" cy="136.5" r="0.45" fill="#22A028" opacity="1"/>
<circle cx="505.9" cy="122.2" r="0.45" fill="#E8D020" opacity="1"/>
<circle cx="512.9" cy="130.5" r="0.45" fill="#E8D020" opacity="1"/>
<circle cx="490.5" cy="126.4" r="0.45" fill="#E8D020" opacity="1"/>
<circle cx="494.6" cy="150.0" r="0.7" fill="#D81818" opacity="0.7"/>
<circle cx="489.2" cy="128.1" r="0.5" fill="#28C830" opacity="0.85"/>
<circle cx="488.2" cy="125.8" r="0.5" fill="#E8D020" opacity="1"/>
<circle cx="484.2" cy="146.9" r="0.7" fill="#E01818" opacity="1"/>
<circle cx="501.8" cy="115.9" r="0.7" fill="#E8D020" opacity="1"/>
<circle cx="487.0" cy="134.2" r="0.7" fill="#30D838" opacity="0.7"/>
<circle cx="485.3" cy="131.9" r="0.45" fill="#28C830" opacity="0.85"/>
<circle cx="488.2" cy="136.8" r="0.6" fill="#E01818" opacity="1"/>
<circle cx="475.2" cy="136.7" r="0.6" fill="#28C830" opacity="1"/>
<circle cx="483.8" cy="122.7" r="0.6" fill="#C81414" opacity="1"/>
<circle cx="509.2" cy="133.5" r="0.5" fill="#E8D020" opacity="1"/>
<circle cx="480.2" cy="126.2" r="0.7" fill="#E8D020" opacity="0.7"/>
<circle cx="477.2" cy="144.3" r="0.6" fill="#C81414" opacity="0.7"/>
<circle cx="510.4" cy="113.3" r="0.6" fill="#D81818" opacity="1"/>
<circle cx="462.7" cy="143.6" r="0.45" fill="#C81414" opacity="1"/>
<circle cx="494.2" cy="102.8" r="0.5" fill="#A01010" opacity="0.7"/>
<circle cx="464.7" cy="135.9" r="0.7" fill="#22A028" opacity="1"/>
<circle cx="472.4" cy="142.0" r="0.7" fill="#A01010" opacity="1"/>
<circle cx="504.8" cy="119.8" r="0.7" fill="#D81818" opacity="1"/>
<circle cx="495.4" cy="145.0" r="0.5" fill="#A01010" opacity="0.85"/>
<circle cx="495.8" cy="116.3" r="0.45" fill="#28C830" opacity="1"/>
<circle cx="496.7" cy="145.0" r="0.6" fill="#E8D020" opacity="0.7"/>
<circle cx="483.7" cy="116.9" r="0.5" fill="#30D838" opacity="0.85"/>
<circle cx="483.2" cy="129.0" r="0.6" fill="#C81414" opacity="0.7"/>
<circle cx="504.9" cy="144.5" r="0.5" fill="#22A028" opacity="0.7"/>
<circle cx="496.1" cy="117.6" r="0.45" fill="#28C830" opacity="1"/>
<circle cx="488.9" cy="126.1" r="0.7" fill="#28C830" opacity="0.7"/>
<circle cx="474.2" cy="149.4" r="0.5" fill="#22A028" opacity="0.85"/>
<circle cx="497.3" cy="122.3" r="0.45" fill="#30D838" opacity="0.85"/>
<circle cx="501.8" cy="135.6" r="0.6" fill="#E8D020" opacity="0.7"/>
<circle cx="488.0" cy="132.7" r="0.7" fill="#C81414" opacity="1"/>
<circle cx="485.7" cy="122.0" r="0.6" fill="#E01818" opacity="1"/>
<circle cx="484.3" cy="143.4" r="0.5" fill="#D81818" opacity="1"/>
<circle cx="489.8" cy="110.8" r="0.5" fill="#E07818" opacity="1"/>
<circle cx="493.7" cy="134.5" r="0.45" fill="#E01818" opacity="0.7"/>
<circle cx="473.7" cy="132.1" r="0.6" fill="#E01818" opacity="0.85"/>
<circle cx="492.8" cy="98.3" r="0.45" fill="#E01818" opacity="0.7"/>
<circle cx="481.0" cy="141.7" r="0.6" fill="#C81414" opacity="1"/>
<circle cx="483.6" cy="121.5" r="0.6" fill="#22A028" opacity="0.7"/>
<circle cx="478.9" cy="116.5" r="0.7" fill="#E01818" opacity="0.7"/>
<circle cx="508.5" cy="128.9" r="0.7" fill="#E07818" opacity="0.7"/>
<circle cx="498.4" cy="118.4" r="0.45" fill="#A01010" opacity="1"/>
<circle cx="489.4" cy="137.0" r="0.5" fill="#E01818" opacity="1"/>
<circle cx="502.2" cy="131.6" r="0.5" fill="#E8D020" opacity="1"/>
<circle cx="474.3" cy="107.5" r="0.45" fill="#E8D020" opacity="0.7"/>
<circle cx="495.2" cy="129.5" r="0.5" fill="#E01818" opacity="0.7"/>
<circle cx="478.8" cy="137.0" r="0.7" fill="#E07818" opacity="0.85"/>
<circle cx="480.2" cy="117.0" r="0.45" fill="#C81414" opacity="0.85"/>
<circle cx="475.8" cy="128.4" r="0.45" fill="#E07818" opacity="0.7"/>
<circle cx="492.5" cy="144.8" r="0.7" fill="#E01818" opacity="1"/>
<circle cx="496.2" cy="140.5" r="0.45" fill="#E8D020" opacity="0.85"/>
<circle cx="491.6" cy="128.2" r="0.5" fill="#30D838" opacity="0.7"/>
<circle cx="513.6" cy="122.6" r="0.45" fill="#E01818" opacity="1"/>
<circle cx="506.6" cy="127.6" r="0.6" fill="#E8D020" opacity="0.7"/>
<circle cx="491.5" cy="121.3" r="0.5" fill="#28C830" opacity="1"/>
<circle cx="496.1" cy="150.5" r="0.45" fill="#E01818" opacity="0.7"/>
<circle cx="500.4" cy="119.5" r="0.45" fill="#30D838" opacity="0.7"/>
<circle cx="484.9" cy="117.3" r="0.45" fill="#E8D020" opacity="0.85"/>
<circle cx="499.4" cy="147.9" r="0.5" fill="#E07818" opacity="0.7"/>
<circle cx="495.4" cy="112.4" r="0.45" fill="#C81414" opacity="1"/>
<circle cx="495.4" cy="135.2" r="0.45" fill="#C81414" opacity="1"/>
<circle cx="485.8" cy="116.2" r="0.6" fill="#E07818" opacity="0.85"/>
<circle cx="478.8" cy="104.2" r="0.5" fill="#D81818" opacity="1"/>
<circle cx="475.3" cy="131.5" r="0.45" fill="#E01818" opacity="0.7"/>
<circle cx="491.0" cy="125.7" r="0.5" fill="#E8D020" opacity="1"/>
<circle cx="502.2" cy="138.9" r="0.7" fill="#28C830" opacity="1"/>
<circle cx="486.8" cy="137.3" r="0.45" fill="#22A028" opacity="1"/>
<circle cx="481.7" cy="107.9" r="0.6" fill="#E07818" opacity="1"/>
<circle cx="503.0" cy="134.8" r="0.5" fill="#22A028" opacity="1"/>
<circle cx="475.6" cy="140.9" r="0.6" fill="#E01818" opacity="0.7"/>
<circle cx="501.1" cy="146.7" r="0.7" fill="#22A028" opacity="1"/>
<circle cx="487.1" cy="114.9" r="0.45" fill="#E8D020" opacity="0.85"/>
<circle cx="494.8" cy="149.8" r="0.7" fill="#28C830" opacity="0.7"/>
<circle cx="491.5" cy="140.6" r="0.5" fill="#E8D020" opacity="1"/>
<circle cx="487.3" cy="136.6" r="0.45" fill="#E01818" opacity="0.85"/>
<circle cx="483.4" cy="113.6" r="0.5" fill="#D81818" opacity="0.7"/>
<circle cx="490.9" cy="118.9" r="0.45" fill="#C81414" opacity="0.7"/>
<circle cx="470.9" cy="123.5" r="0.6" fill="#C81414" opacity="1"/>
<circle cx="476.5" cy="112.9" r="0.5" fill="#E8D020" opacity="1"/>
<circle cx="511.3" cy="120.1" r="0.6" fill="#E07818" opacity="1"/>
<circle cx="508.3" cy="140.1" r="0.45" fill="#E01818" opacity="0.85"/>
<circle cx="489.5" cy="119.5" r="0.5" fill="#E01818" opacity="0.7"/>
<circle cx="493.7" cy="144.7" r="0.6" fill="#D81818" opacity="1"/>
<circle cx="482.1" cy="104.7" r="0.7" fill="#E01818" opacity="1"/>
<circle cx="485.0" cy="122.6" r="0.6" fill="#C81414" opacity="0.7"/>
<circle cx="491.4" cy="139.3" r="0.6" fill="#28C830" opacity="1"/>
<circle cx="491.1" cy="147.6" r="0.6" fill="#A01010" opacity="1"/>
<circle cx="504.2" cy="137.3" r="0.7" fill="#E01818" opacity="1"/>
<circle cx="511.8" cy="125.1" r="0.45" fill="#E01818" opacity="0.7"/>
<circle cx="497.1" cy="123.5" r="0.7" fill="#E01818" opacity="1"/>
<circle cx="497.3" cy="141.1" r="0.45" fill="#E07818" opacity="1"/>
<circle cx="495.4" cy="113.9" r="0.7" fill="#E01818" opacity="1"/>
<circle cx="481.1" cy="112.9" r="0.7" fill="#E07818" opacity="0.85"/>
<circle cx="487.3" cy="125.6" r="0.7" fill="#E01818" opacity="0.85"/>
<circle cx="516.8" cy="116.4" r="0.45" fill="#E8D020" opacity="0.7"/>
<circle cx="483.3" cy="124.2" r="0.6" fill="#A01010" opacity="0.85"/>
<circle cx="490.1" cy="126.7" r="0.5" fill="#E07818" opacity="0.7"/>
<circle cx="488.7" cy="123.7" r="0.6" fill="#28C830" opacity="0.7"/>
<circle cx="496.9" cy="131.8" r="0.7" fill="#E01818" opacity="0.7"/>
<circle cx="486.8" cy="141.2" r="0.5" fill="#30D838" opacity="1"/>
<circle cx="495.9" cy="153.3" r="0.5" fill="#22A028" opacity="0.85"/>
<circle cx="484.8" cy="137.5" r="0.5" fill="#E07818" opacity="0.7"/>
<circle cx="484.7" cy="125.3" r="0.7" fill="#C81414" opacity="1"/>
<circle cx="503.6" cy="129.3" r="0.5" fill="#E01818" opacity="0.85"/>
<circle cx="483.8" cy="156.5" r="0.45" fill="#22A028" opacity="1"/>
<circle cx="483.0" cy="136.1" r="0.6" fill="#30D838" opacity="0.85"/>
<circle cx="511.3" cy="119.4" r="0.7" fill="#28C830" opacity="1"/>
<circle cx="491.4" cy="122.4" r="0.45" fill="#E01818" opacity="1"/>
<circle cx="492.0" cy="134.4" r="0.5" fill="#28C830" opacity="1"/>
<circle cx="496.6" cy="134.1" r="0.45" fill="#A01010" opacity="1"/>
<circle cx="484.7" cy="142.0" r="0.5" fill="#E01818" opacity="1"/>
<circle cx="491.2" cy="123.5" r="0.45" fill="#E8D020" opacity="0.7"/>
<circle cx="503.3" cy="142.4" r="0.5" fill="#A01010" opacity="1"/>
<circle cx="488.6" cy="117.6" r="0.45" fill="#E8D020" opacity="1"/>
<circle cx="495.9" cy="135.0" r="0.5" fill="#22A028" opacity="1"/>
<circle cx="506.6" cy="138.6" r="0.6" fill="#A01010" opacity="0.85"/>
<circle cx="514.7" cy="126.0" r="0.7" fill="#E01818" opacity="0.85"/>
<circle cx="491.5" cy="127.3" r="0.6" fill="#E07818" opacity="0.85"/>
<circle cx="467.9" cy="148.3" r="0.45" fill="#E8D020" opacity="0.85"/>
<circle cx="484.6" cy="129.9" r="0.6" fill="#E01818" opacity="1"/>
<circle cx="492.6" cy="122.5" r="0.5" fill="#E01818" opacity="1"/>
<circle cx="484.2" cy="145.4" r="0.7" fill="#D81818" opacity="0.7"/>
<circle cx="480.4" cy="127.5" r="0.6" fill="#28C830" opacity="1"/>
<circle cx="483.5" cy="128.6" r="0.45" fill="#E07818" opacity="0.85"/>
<circle cx="471.5" cy="127.4" r="0.5" fill="#28C830" opacity="0.85"/>
<circle cx="497.8" cy="129.8" r="0.6" fill="#28C830" opacity="0.85"/>
<circle cx="479.0" cy="109.8" r="0.45" fill="#D81818" opacity="0.85"/>
<circle cx="484.1" cy="118.8" r="0.6" fill="#28C830" opacity="0.7"/>
<circle cx="474.7" cy="105.5" r="0.5" fill="#E01818" opacity="0.85"/>
<circle cx="502.9" cy="148.0" r="0.45" fill="#E01818" opacity="0.7"/>
<circle cx="494.6" cy="121.1" r="0.7" fill="#E8D020" opacity="1"/>
<circle cx="480.3" cy="137.0" r="0.5" fill="#A01010" opacity="0.7"/>
<circle cx="500.1" cy="121.6" r="0.45" fill="#28C830" opacity="0.85"/>
<circle cx="504.1" cy="131.6" r="0.5" fill="#E07818" opacity="0.7"/>
<circle cx="478.7" cy="126.0" r="0.5" fill="#E01818" opacity="0.85"/>
<circle cx="500.9" cy="119.6" r="0.7" fill="#28C830" opacity="1"/>
<circle cx="505.7" cy="138.4" r="0.6" fill="#E01818" opacity="0.85"/>
<circle cx="490.7" cy="112.9" r="0.5" fill="#A01010" opacity="1"/>
<circle cx="496.3" cy="127.0" r="0.5" fill="#E01818" opacity="1"/>
<circle cx="504.2" cy="116.9" r="0.7" fill="#28C830" opacity="1"/>
<circle cx="477.4" cy="142.9" r="0.45" fill="#22A028" opacity="1"/>
<circle cx="497.2" cy="113.5" r="0.7" fill="#E01818" opacity="0.7"/>
<circle cx="473.8" cy="122.1" r="0.6" fill="#C81414" opacity="1"/>
<circle cx="493.3" cy="123.9" r="0.7" fill="#C81414" opacity="1"/>
<circle cx="484.0" cy="143.9" r="0.7" fill="#E01818" opacity="1"/>
<circle cx="502.2" cy="128.4" r="0.7" fill="#22A028" opacity="1"/>
<circle cx="496.8" cy="139.3" r="0.6" fill="#E8D020" opacity="0.85"/>
<circle cx="486.5" cy="119.9" r="0.6" fill="#C81414" opacity="1"/>
<circle cx="495.3" cy="145.3" r="0.45" fill="#E01818" opacity="1"/>
<circle cx="488.9" cy="114.7" r="0.6" fill="#C81414" opacity="0.85"/>
<circle cx="484.6" cy="118.6" r="0.5" fill="#E01818" opacity="1"/>
<circle cx="480.3" cy="129.3" r="0.5" fill="#C81414" opacity="1"/>
<circle cx="494.3" cy="136.4" r="0.7" fill="#E8D020" opacity="0.85"/>
<circle cx="485.8" cy="120.5" r="0.7" fill="#E07818" opacity="0.85"/>
<circle cx="493.2" cy="135.4" r="0.45" fill="#E07818" opacity="1"/>
<circle cx="502.0" cy="135.7" r="0.6" fill="#A01010" opacity="1"/>
<circle cx="504.0" cy="125.9" r="0.7" fill="#E01818" opacity="0.7"/>
<circle cx="503.6" cy="121.7" r="0.6" fill="#E01818" opacity="0.7"/>
<circle cx="500.5" cy="129.3" r="0.6" fill="#22A028" opacity="1"/>
<circle cx="497.5" cy="126.0" r="0.45" fill="#28C830" opacity="0.85"/>
<circle cx="493.6" cy="142.8" r="0.5" fill="#D81818" opacity="0.7"/>
<circle cx="495.1" cy="110.2" r="0.6" fill="#28C830" opacity="1"/>
<circle cx="511.8" cy="118.5" r="0.6" fill="#C81414" opacity="0.7"/>
<circle cx="499.4" cy="149.7" r="0.45" fill="#A01010" opacity="1"/>
<circle cx="478.2" cy="126.0" r="0.6" fill="#E01818" opacity="1"/>
<circle cx="476.1" cy="113.9" r="0.45" fill="#E01818" opacity="0.85"/>
<circle cx="495.6" cy="130.4" r="0.5" fill="#E01818" opacity="1"/>
<circle cx="481.6" cy="137.7" r="0.6" fill="#E8D020" opacity="1"/>
<circle cx="477.8" cy="140.5" r="0.45" fill="#22A028" opacity="0.7"/>
<circle cx="467.5" cy="131.8" r="0.5" fill="#E01818" opacity="0.85"/>
<circle cx="476.5" cy="146.1" r="0.45" fill="#C81414" opacity="1"/>
<circle cx="472.6" cy="129.2" r="0.45" fill="#E8D020" opacity="0.85"/>
<circle cx="505.1" cy="115.0" r="0.45" fill="#22A028" opacity="0.85"/>
<circle cx="488.5" cy="125.2" r="0.7" fill="#22A028" opacity="0.85"/>
<circle cx="479.0" cy="135.6" r="0.7" fill="#A01010" opacity="0.7"/>
<circle cx="498.5" cy="155.6" r="0.5" fill="#C81414" opacity="0.85"/>
<circle cx="490.3" cy="147.6" r="0.6" fill="#C81414" opacity="0.7"/>
<circle cx="490.2" cy="130.9" r="0.5" fill="#28C830" opacity="1"/>
<circle cx="485.9" cy="124.2" r="0.7" fill="#E8D020" opacity="0.7"/>
<circle cx="499.2" cy="119.8" r="0.5" fill="#28C830" opacity="1"/>
<circle cx="503.9" cy="111.3" r="0.5" fill="#22A028" opacity="0.85"/>
<circle cx="484.9" cy="148.7" r="0.5" fill="#E01818" opacity="0.85"/>
<circle cx="491.6" cy="123.2" r="0.5" fill="#E07818" opacity="1"/>
<circle cx="477.1" cy="129.7" r="0.45" fill="#E07818" opacity="1"/>
<circle cx="512.3" cy="118.2" r="0.7" fill="#C81414" opacity="0.85"/>
<circle cx="481.2" cy="110.4" r="0.6" fill="#C81414" opacity="1"/>
<circle cx="487.9" cy="135.5" r="0.7" fill="#A01010" opacity="1"/>
<circle cx="486.1" cy="133.5" r="0.7" fill="#E01818" opacity="0.7"/>
<circle cx="501.0" cy="113.7" r="0.5" fill="#28C830" opacity="1"/>
<circle cx="460.2" cy="128.3" r="0.7" fill="#E07818" opacity="1"/>
<circle cx="489.6" cy="143.6" r="0.5" fill="#A01010" opacity="0.85"/>
<circle cx="489.8" cy="120.7" r="0.5" fill="#E8D020" opacity="1"/>
<circle cx="489.6" cy="127.5" r="0.6" fill="#E07818" opacity="1"/>
<circle cx="487.7" cy="122.5" r="0.45" fill="#E8D020" opacity="0.85"/>
<circle cx="489.7" cy="117.1" r="0.5" fill="#22A028" opacity="1"/>
<circle cx="493.4" cy="142.5" r="0.6" fill="#A01010" opacity="0.7"/>
<circle cx="499.8" cy="156.3" r="0.7" fill="#E07818" opacity="1"/>
<circle cx="499.9" cy="108.0" r="0.7" fill="#22A028" opacity="0.7"/>
<circle cx="483.7" cy="131.3" r="0.45" fill="#28C830" opacity="1"/>
<circle cx="504.7" cy="143.3" r="0.45" fill="#C81414" opacity="1"/>
<circle cx="482.8" cy="139.2" r="0.45" fill="#E8D020" opacity="0.7"/>
<circle cx="475.4" cy="110.4" r="0.5" fill="#C81414" opacity="0.7"/>
<circle cx="495.9" cy="149.3" r="0.7" fill="#E01818" opacity="1"/>
<circle cx="492.5" cy="139.9" r="0.5" fill="#A01010" opacity="1"/>
<circle cx="488.5" cy="123.4" r="0.45" fill="#A01010" opacity="0.85"/>
<circle cx="509.1" cy="127.2" r="0.6" fill="#E8D020" opacity="1"/>
<circle cx="502.5" cy="158.4" r="0.5" fill="#A01010" opacity="0.85"/>
<circle cx="500.2" cy="116.0" r="0.7" fill="#E01818" opacity="0.7"/>
<circle cx="472.3" cy="113.7" r="0.7" fill="#E01818" opacity="1"/>
<circle cx="485.1" cy="119.8" r="0.5" fill="#E8D020" opacity="0.7"/>
<circle cx="486.0" cy="124.2" r="0.7" fill="#A01010" opacity="0.85"/>
<circle cx="509.1" cy="136.6" r="0.45" fill="#C81414" opacity="1"/>
<circle cx="496.6" cy="134.5" r="0.7" fill="#E8D020" opacity="1"/>
<circle cx="516.3" cy="131.2" r="0.5" fill="#D81818" opacity="1"/>
<circle cx="495.6" cy="136.4" r="0.6" fill="#E01818" opacity="1"/>
<circle cx="475.8" cy="114.5" r="0.5" fill="#22A028" opacity="1"/>
<circle cx="520.1" cy="112.1" r="0.45" fill="#E07818" opacity="0.85"/>
<circle cx="473.8" cy="117.4" r="0.7" fill="#28C830" opacity="0.7"/>
<circle cx="509.6" cy="116.1" r="0.45" fill="#28C830" opacity="1"/>
<circle cx="504.7" cy="121.9" r="0.6" fill="#E07818" opacity="0.7"/>
<circle cx="508.6" cy="125.6" r="0.6" fill="#C81414" opacity="1"/>
<circle cx="489.1" cy="141.9" r="0.7" fill="#28C830" opacity="1"/>
<circle cx="500.7" cy="123.3" r="0.45" fill="#E07818" opacity="0.7"/>
<circle cx="495.1" cy="144.9" r="0.5" fill="#E01818" opacity="1"/>
<circle cx="482.6" cy="131.8" r="0.45" fill="#28C830" opacity="1"/>
<circle cx="503.7" cy="146.2" r="0.5" fill="#E01818" opacity="1"/>
<circle cx="494.8" cy="126.7" r="0.6" fill="#28C830" opacity="0.85"/>
<circle cx="485.4" cy="110.2" r="0.6" fill="#A01010" opacity="1"/>
<circle cx="513.1" cy="123.6" r="0.6" fill="#E01818" opacity="1"/>
<circle cx="485.6" cy="152.6" r="0.6" fill="#D81818" opacity="0.7"/>
<circle cx="472.1" cy="116.2" r="0.5" fill="#E07818" opacity="0.7"/>
<circle cx="492.5" cy="119.8" r="0.7" fill="#E01818" opacity="0.85"/>
<circle cx="477.1" cy="124.9" r="0.6" fill="#E01818" opacity="0.85"/>
<circle cx="494.7" cy="137.5" r="0.5" fill="#A01010" opacity="1"/>
<circle cx="505.0" cy="128.0" r="0.7" fill="#C81414" opacity="1"/>
<circle cx="509.7" cy="129.5" r="0.5" fill="#C81414" opacity="1"/>
<circle cx="501.5" cy="130.4" r="0.5" fill="#28C830" opacity="1"/>
<circle cx="481.5" cy="137.1" r="0.7" fill="#28C830" opacity="1"/>
<circle cx="507.6" cy="129.5" r="0.7" fill="#22A028" opacity="0.85"/>
<circle cx="505.4" cy="120.8" r="0.5" fill="#22A028" opacity="0.85"/>
<circle cx="515.5" cy="125.6" r="0.7" fill="#C81414" opacity="0.7"/>
<circle cx="471.5" cy="121.6" r="0.45" fill="#E01818" opacity="1"/>
<circle cx="506.5" cy="134.1" r="0.6" fill="#E01818" opacity="0.7"/>
<circle cx="495.9" cy="135.9" r="0.45" fill="#30D838" opacity="1"/>
<circle cx="499.1" cy="133.6" r="0.45" fill="#A01010" opacity="0.85"/>
<circle cx="498.4" cy="126.9" r="0.45" fill="#E01818" opacity="1"/>
<circle cx="499.4" cy="101.7" r="0.7" fill="#E8D020" opacity="0.7"/>
<circle cx="487.4" cy="134.1" r="0.45" fill="#22A028" opacity="0.7"/>
<circle cx="505.3" cy="133.8" r="0.5" fill="#E8D020" opacity="1"/>
<circle cx="482.4" cy="121.6" r="0.6" fill="#22A028" opacity="0.85"/>
<circle cx="482.2" cy="105.4" r="0.5" fill="#C81414" opacity="1"/>
<circle cx="481.0" cy="117.6" r="0.7" fill="#E8D020" opacity="0.7"/>
<circle cx="488.7" cy="134.4" r="0.5" fill="#E01818" opacity="1"/>
<circle cx="473.1" cy="120.3" r="0.7" fill="#E8D020" opacity="1"/>
<circle cx="515.1" cy="147.0" r="0.7" fill="#E01818" opacity="0.85"/>
<circle cx="486.9" cy="122.4" r="0.6" fill="#C81414" opacity="0.7"/>
<circle cx="494.6" cy="119.1" r="0.7" fill="#C81414" opacity="1"/>
<circle cx="503.6" cy="131.1" r="0.5" fill="#E8D020" opacity="0.85"/>
<circle cx="475.6" cy="143.3" r="0.7" fill="#C81414" opacity="0.85"/>
<circle cx="458.6" cy="116.1" r="0.45" fill="#A01010" opacity="1"/>
<circle cx="486.3" cy="131.7" r="0.7" fill="#E01818" opacity="0.85"/>
<circle cx="482.1" cy="112.9" r="0.45" fill="#E07818" opacity="0.85"/>
<circle cx="497.9" cy="131.7" r="0.45" fill="#E8D020" opacity="0.85"/>
<circle cx="495.8" cy="119.9" r="0.6" fill="#22A028" opacity="0.85"/>
<circle cx="502.8" cy="119.4" r="0.7" fill="#E8D020" opacity="1"/>
<circle cx="498.2" cy="125.6" r="0.7" fill="#E8D020" opacity="1"/>
<circle cx="498.0" cy="131.3" r="0.6" fill="#E07818" opacity="0.7"/>
<circle cx="499.6" cy="119.5" r="0.45" fill="#A01010" opacity="1"/>
<circle cx="494.3" cy="109.0" r="0.45" fill="#C81414" opacity="1"/>
<circle cx="506.5" cy="130.2" r="0.5" fill="#28C830" opacity="1"/>
<circle cx="476.1" cy="102.0" r="0.5" fill="#E01818" opacity="1"/>
<circle cx="495.4" cy="138.4" r="0.5" fill="#E8D020" opacity="0.7"/>
<circle cx="514.1" cy="117.0" r="0.6" fill="#28C830" opacity="1"/>
<circle cx="482.9" cy="102.2" r="0.5" fill="#D81818" opacity="1"/>
<circle cx="480.7" cy="125.7" r="0.6" fill="#22A028" opacity="0.85"/>
<circle cx="489.4" cy="122.7" r="0.7" fill="#E01818" opacity="1"/>
<circle cx="490.8" cy="142.4" r="0.45" fill="#28C830" opacity="1"/>
<circle cx="483.0" cy="124.5" r="0.7" fill="#28C830" opacity="1"/>
<circle cx="494.4" cy="141.7" r="0.6" fill="#22A028" opacity="1"/>
<circle cx="497.5" cy="143.2" r="0.5" fill="#E01818" opacity="1"/>
<circle cx="489.2" cy="112.5" r="0.6" fill="#E01818" opacity="0.7"/>
<circle cx="487.7" cy="124.2" r="0.6" fill="#30D838" opacity="0.85"/>
<circle cx="485.4" cy="137.6" r="0.7" fill="#A01010" opacity="0.7"/>
<circle cx="480.7" cy="123.9" r="0.6" fill="#A01010" opacity="1"/>
<circle cx="478.7" cy="128.5" r="0.5" fill="#22A028" opacity="0.85"/>
<circle cx="487.1" cy="130.6" r="0.5" fill="#E8D020" opacity="1"/>
<circle cx="502.7" cy="133.9" r="0.6" fill="#C81414" opacity="1"/>
<circle cx="522.1" cy="140.2" r="0.7" fill="#E01818" opacity="1"/>
<circle cx="498.6" cy="143.7" r="0.6" fill="#C81414" opacity="1"/>
<circle cx="485.0" cy="122.4" r="0.5" fill="#C81414" opacity="0.85"/>
<circle cx="492.9" cy="133.3" r="0.45" fill="#22A028" opacity="0.7"/>
<circle cx="471.0" cy="118.3" r="0.7" fill="#C81414" opacity="0.7"/>
<circle cx="479.2" cy="148.9" r="0.5" fill="#E01818" opacity="0.7"/>
<circle cx="483.4" cy="133.4" r="0.5" fill="#E8D020" opacity="1"/>
<circle cx="487.6" cy="129.7" r="0.6" fill="#28C830" opacity="1"/>
<circle cx="492.5" cy="116.0" r="0.45" fill="#E01818" opacity="1"/>
<circle cx="486.8" cy="122.6" r="0.7" fill="#30D838" opacity="1"/>
<circle cx="501.9" cy="157.4" r="0.45" fill="#E07818" opacity="1"/>
<circle cx="490.4" cy="129.2" r="0.45" fill="#C81414" opacity="0.85"/>
<circle cx="487.4" cy="127.7" r="0.6" fill="#28C830" opacity="1"/>
<circle cx="492.2" cy="141.9" r="0.45" fill="#E07818" opacity="1"/>
<circle cx="497.2" cy="117.0" r="0.6" fill="#E8D020" opacity="1"/>
<circle cx="483.9" cy="122.3" r="0.6" fill="#C81414" opacity="0.7"/>
<circle cx="493.5" cy="134.5" r="0.6" fill="#E01818" opacity="0.85"/>
<circle cx="472.9" cy="129.6" r="0.7" fill="#C81414" opacity="1"/>
<circle cx="473.7" cy="136.4" r="0.5" fill="#E07818" opacity="1"/>
<circle cx="498.5" cy="136.0" r="0.7" fill="#22A028" opacity="0.7"/>
<circle cx="483.2" cy="126.9" r="0.45" fill="#A01010" opacity="0.85"/>
<circle cx="483.6" cy="143.2" r="0.5" fill="#A01010" opacity="1"/>
<circle cx="488.2" cy="138.5" r="0.45" fill="#30D838" opacity="0.85"/>
<circle cx="487.1" cy="112.0" r="0.5" fill="#D81818" opacity="1"/>
<circle cx="486.2" cy="132.5" r="0.7" fill="#22A028" opacity="1"/>
<circle cx="491.1" cy="132.4" r="0.45" fill="#C81414" opacity="0.7"/>
<circle cx="490.5" cy="115.0" r="0.6" fill="#A01010" opacity="0.7"/>
<circle cx="504.4" cy="135.2" r="0.5" fill="#E01818" opacity="1"/>
<circle cx="505.5" cy="132.2" r="0.5" fill="#E01818" opacity="0.85"/>
<circle cx="494.5" cy="135.4" r="0.6" fill="#A01010" opacity="1"/>
<circle cx="485.4" cy="115.2" r="0.5" fill="#C81414" opacity="1"/>
<circle cx="504.5" cy="131.3" r="0.45" fill="#E01818" opacity="1"/>
<circle cx="465.2" cy="139.8" r="0.5" fill="#D81818" opacity="1"/>
<circle cx="470.9" cy="125.4" r="0.5" fill="#E07818" opacity="0.85"/>
<circle cx="495.3" cy="147.2" r="0.5" fill="#E01818" opacity="1"/>
<circle cx="483.5" cy="111.3" r="0.7" fill="#22A028" opacity="1"/>
<circle cx="506.6" cy="138.4" r="0.7" fill="#22A028" opacity="0.85"/>
<circle cx="483.1" cy="146.4" r="0.5" fill="#E8D020" opacity="0.85"/>
<circle cx="488.6" cy="120.2" r="0.45" fill="#30D838" opacity="1"/>
<circle cx="496.7" cy="130.1" r="0.5" fill="#E8D020" opacity="1"/>
<circle cx="478.9" cy="118.5" r="0.5" fill="#A01010" opacity="1"/>
<circle cx="507.1" cy="153.5" r="0.7" fill="#E8D020" opacity="1"/>
<circle cx="492.4" cy="116.6" r="0.5" fill="#C81414" opacity="1"/>
<circle cx="511.0" cy="127.5" r="0.7" fill="#E8D020" opacity="1"/>
<circle cx="475.3" cy="126.3" r="0.5" fill="#E01818" opacity="1"/>
<circle cx="490.1" cy="144.7" r="0.45" fill="#E07818" opacity="0.7"/>
<circle cx="501.6" cy="123.5" r="0.45" fill="#E8D020" opacity="1"/>
<circle cx="506.2" cy="125.0" r="0.5" fill="#D81818" opacity="0.85"/>
<circle cx="478.7" cy="133.8" r="0.5" fill="#C81414" opacity="1"/>
<circle cx="488.6" cy="139.5" r="0.45" fill="#C81414" opacity="0.7"/>
<circle cx="482.0" cy="112.7" r="0.6" fill="#C81414" opacity="1"/>
<circle cx="508.5" cy="131.4" r="0.45" fill="#E01818" opacity="0.7"/>
<circle cx="470.0" cy="130.2" r="0.5" fill="#E01818" opacity="0.85"/>
<text class="ss" x="500.6" y="99.5" font-size="12" font-weight="normal" text-anchor="start" fill="#E01C1C" textLength="12" lengthAdjust="spacingAndGlyphs" >Pt</text>
<circle cx="513.60" cy="96.00" r="0.6" fill="#2a8a2a" />
<text class="ss" x="514.6" y="99.5" font-size="12" font-weight="normal" text-anchor="start" fill="#2CCB38" textLength="14.5" lengthAdjust="spacingAndGlyphs" >Co</text>
<text class="sf" x="15.6" y="189.3" font-size="16.5" font-weight="normal" text-anchor="start" fill="#111"  stroke="#111" stroke-width="0.3">d</text>
<path d="M59.20,272.80 L59.11,272.33 L58.98,271.66 L58.84,270.88 L58.70,270.07 L58.60,269.30 L58.53,268.58 L58.48,267.85 L58.45,267.12 L58.42,266.38 L58.40,265.65 L58.39,265.21 L58.40,265.07 L58.40,264.78 L58.41,263.90 L58.40,262.00 L58.37,258.81 L58.32,254.62 L58.26,249.82 L58.22,244.82 L58.20,240.00 L58.20,235.03 L58.22,229.66 L58.25,224.36 L58.31,219.65 L58.40,216.00 L58.52,213.67 L58.65,212.33 L58.82,211.60 L59.03,211.12 L59.30,210.50 L59.64,209.77 L60.03,209.18 L60.47,208.70 L60.93,208.28 L61.40,207.90 L61.88,207.55 L62.39,207.27 L62.92,207.04 L63.46,206.85 L64.00,206.70 L64.54,206.58 L65.09,206.51 L65.64,206.48 L66.21,206.48 L66.80,206.50 L67.40,206.55 L68.01,206.63 L68.64,206.74 L69.30,206.86 L70.00,207.00 L70.76,207.15 L71.58,207.33 L72.41,207.52 L73.23,207.71 L74.00,207.90 L74.73,208.10 L75.45,208.32 L76.13,208.53 L76.75,208.70 L77.30,208.80 L77.75,208.82 L78.12,208.77 L78.43,208.68 L78.72,208.59 L79.00,208.50 L79.28,208.42 L79.53,208.34 L79.76,208.26 L79.98,208.18 L80.20,208.10 L80.41,208.02 L80.60,207.92 L80.80,207.84 L80.99,207.79 L81.20,207.80 L81.43,207.88 L81.67,208.00 L81.92,208.17 L82.16,208.37 L82.40,208.60 L82.62,208.86 L82.83,209.16 L83.04,209.49 L83.26,209.84 L83.50,210.20 L83.76,210.59 L84.02,211.00 L84.31,211.43 L84.63,211.87 L85.00,212.30 L85.43,212.75 L85.90,213.24 L86.42,213.71 L86.95,214.14 L87.50,214.50 L88.01,214.77 L88.50,214.98 L89.02,215.14 L89.67,215.27 L90.50,215.40 L91.55,215.53 L92.78,215.64 L94.12,215.73 L95.55,215.79 L97.00,215.80 L98.47,215.77 L100.00,215.69 L101.58,215.59 L103.25,215.45 L105.00,215.30 L106.85,215.13 L108.79,214.94 L110.80,214.73 L112.88,214.48 L115.00,214.20 L117.24,213.87 L119.59,213.49 L121.97,213.08 L124.28,212.68 L126.40,212.30 L128.28,211.95 L130.00,211.62 L131.63,211.29 L133.27,210.96 L135.00,210.60 L136.83,210.24 L138.69,209.87 L140.58,209.49 L142.52,209.07 L144.50,208.60 L146.58,208.04 L148.76,207.41 L150.95,206.75 L153.06,206.13 L155.00,205.60 L156.73,205.19 L158.30,204.85 L159.78,204.56 L161.23,204.26 L162.70,203.90 L164.30,203.40 L165.98,202.78 L167.60,202.19 L168.99,201.76 L170.00,201.62 L170.53,201.79 L170.70,202.18 L170.63,202.77 L170.48,203.55 L170.40,204.50 L170.38,205.74 L170.33,207.26 L170.24,208.92 L170.13,210.55 L170.00,212.00 L169.85,213.26 L169.68,214.45 L169.48,215.56 L169.25,216.58 L169.00,217.50 L168.73,218.29 L168.45,218.96 L168.13,219.56 L167.75,220.12 L167.30,220.70 L166.75,221.29 L166.13,221.86 L165.45,222.42 L164.73,222.97 L164.00,223.50 L163.31,224.00 L162.64,224.46 L161.92,224.92 L161.07,225.42 L160.00,226.00 L158.65,226.69 L157.06,227.46 L155.36,228.28 L153.63,229.07 L152.00,229.80 L150.42,230.49 L148.82,231.16 L147.26,231.79 L145.80,232.35 L144.50,232.80 L143.41,233.12 L142.48,233.32 L141.66,233.45 L140.85,233.55 L140.00,233.65 L139.12,233.76 L138.25,233.85 L137.37,233.91 L136.46,233.95 L135.50,233.95 L134.47,233.92 L133.40,233.87 L132.28,233.79 L131.15,233.67 L130.00,233.50 L128.85,233.26 L127.68,232.95 L126.50,232.61 L125.27,232.28 L124.00,232.00 L122.74,231.74 L121.51,231.49 L120.21,231.27 L118.74,231.10 L117.00,231.00 L114.86,231.01 L112.37,231.10 L109.75,231.24 L107.22,231.38 L105.00,231.50 L103.12,231.59 L101.44,231.67 L99.90,231.74 L98.44,231.82 L97.00,231.90 L95.56,231.98 L94.15,232.05 L92.81,232.12 L91.58,232.20 L90.50,232.30 L89.58,232.42 L88.81,232.54 L88.15,232.68 L87.56,232.84 L87.00,233.00 L86.52,233.15 L86.14,233.27 L85.80,233.43 L85.44,233.65 L85.00,234.00 L84.46,234.50 L83.85,235.12 L83.21,235.81 L82.58,236.52 L82.00,237.20 L81.47,237.87 L80.96,238.55 L80.48,239.23 L79.99,239.89 L79.50,240.50 L78.99,241.08 L78.48,241.65 L77.96,242.18 L77.47,242.63 L77.00,243.00 L76.57,243.26 L76.16,243.43 L75.78,243.54 L75.39,243.59 L75.00,243.60 L74.59,243.55 L74.18,243.44 L73.77,243.28 L73.37,243.13 L73.00,243.00 L72.67,242.87 L72.37,242.72 L72.08,242.58 L71.76,242.53 L71.40,242.60 L70.97,242.83 L70.49,243.18 L69.98,243.60 L69.48,244.06 L69.00,244.50 L68.56,244.93 L68.13,245.37 L67.71,245.83 L67.28,246.31 L66.80,246.80 L66.26,247.31 L65.67,247.83 L65.06,248.37 L64.49,248.93 L64.00,249.50 L63.60,250.00 L63.25,250.44 L62.95,250.94 L62.67,251.61 L62.40,252.60 L62.14,254.01 L61.91,255.76 L61.70,257.67 L61.50,259.58 L61.30,261.32 L61.10,262.90 L60.92,264.44 L60.74,265.91 L60.56,267.26 L60.40,268.44 L60.24,269.47 L60.07,270.37 L59.92,271.13 L59.79,271.74 L59.70,272.20" fill="none" stroke="#111" stroke-width="1.05" stroke-linejoin="round" />
<path d="M59.20,262.20 L59.12,261.97 L58.99,261.78 L58.85,261.36 L58.72,260.43 L58.60,258.70 L58.50,256.02 L58.40,252.57 L58.31,248.59 L58.24,244.32 L58.20,240.00 L58.19,235.24 L58.20,229.89 L58.24,224.52 L58.31,219.70 L58.40,216.00 L58.52,213.65 L58.65,212.28 L58.82,211.52 L59.03,211.05 L59.30,210.50 L59.64,209.94 L60.03,209.60 L60.47,209.39 L60.93,209.22 L61.40,209.00 L61.88,208.72 L62.39,208.45 L62.92,208.19 L63.46,207.97 L64.00,207.80 L64.54,207.68 L65.09,207.61 L65.64,207.58 L66.21,207.58 L66.80,207.60 L67.40,207.65 L68.01,207.73 L68.64,207.84 L69.30,207.96 L70.00,208.10 L70.76,208.25 L71.58,208.43 L72.41,208.62 L73.23,208.81 L74.00,209.00 L74.73,209.20 L75.45,209.42 L76.13,209.63 L76.75,209.80 L77.30,209.90 L77.75,209.90 L78.12,209.82 L78.43,209.71 L78.72,209.62 L79.00,209.60 L79.28,209.68 L79.53,209.82 L79.76,209.98 L79.98,210.12 L80.20,210.20 L80.41,210.18 L80.60,210.09 L80.80,209.98 L80.99,209.90 L81.20,209.90 L81.43,209.99 L81.67,210.15 L81.92,210.34 L82.16,210.54 L82.40,210.70 L82.62,210.83 L82.83,210.94 L83.04,211.04 L83.26,211.16 L83.50,211.30 L83.76,211.46 L84.02,211.61 L84.31,211.79 L84.63,212.02 L85.00,212.30 L85.43,212.68 L85.90,213.16 L86.42,213.66 L86.95,214.12 L87.50,214.50 L88.01,214.77 L88.50,214.98 L89.02,215.14 L89.67,215.27 L90.50,215.40 L91.55,215.53 L92.78,215.64 L94.12,215.73 L95.55,215.79 L97.00,215.80 L98.47,215.77 L100.00,215.69 L101.58,215.59 L103.25,215.45 L105.00,215.30 L106.85,215.13 L108.79,214.94 L110.80,214.73 L112.88,214.48 L115.00,214.20 L117.24,213.87 L119.59,213.49 L121.97,213.08 L124.28,212.68 L126.40,212.30 L128.28,211.95 L130.00,211.62 L131.63,211.29 L133.27,210.96 L135.00,210.60 L136.83,210.24 L138.69,209.87 L140.58,209.49 L142.52,209.07 L144.50,208.60 L146.58,208.03 L148.76,207.38 L150.95,206.71 L153.06,206.09 L155.00,205.60 L156.73,205.27 L158.30,205.06 L159.78,204.91 L161.23,204.74 L162.70,204.50 L164.30,204.11 L165.98,203.61 L167.60,203.11 L168.99,202.73 L170.00,202.58 L170.53,202.63 L170.70,202.80 L170.63,203.15 L170.48,203.70 L170.40,204.50 L170.38,205.67 L170.33,207.19 L170.24,208.88 L170.13,210.54 L170.00,212.00 L169.85,213.26 L169.68,214.45 L169.48,215.56 L169.25,216.58 L169.00,217.50 L168.73,218.29 L168.45,218.96 L168.13,219.56 L167.75,220.12 L167.30,220.70 L166.75,221.29 L166.13,221.86 L165.45,222.42 L164.73,222.97 L164.00,223.50 L163.31,224.00 L162.64,224.46 L161.92,224.92 L161.07,225.42 L160.00,226.00 L158.65,226.69 L157.06,227.46 L155.36,228.28 L153.63,229.07 L152.00,229.80 L150.42,230.49 L148.82,231.18 L147.26,231.81 L145.80,232.37 L144.50,232.80 L143.41,233.07 L142.48,233.21 L141.66,233.27 L140.85,233.30 L140.00,233.35 L139.12,233.43 L138.25,233.51 L137.37,233.57 L136.46,233.62 L135.50,233.65 L134.47,233.67 L133.40,233.69 L132.28,233.68 L131.15,233.62 L130.00,233.50 L128.85,233.28 L127.68,232.97 L126.50,232.63 L125.27,232.29 L124.00,232.00 L122.74,231.74 L121.51,231.49 L120.21,231.27 L118.74,231.10 L117.00,231.00 L114.86,231.01 L112.37,231.10 L109.75,231.24 L107.22,231.38 L105.00,231.50 L103.12,231.59 L101.44,231.67 L99.90,231.74 L98.44,231.82 L97.00,231.90 L95.56,231.98 L94.15,232.05 L92.81,232.12 L91.58,232.20 L90.50,232.30 L89.58,232.43 L88.81,232.59 L88.15,232.76 L87.56,232.90 L87.00,233.00 L86.52,232.99 L86.14,232.90 L85.80,232.80 L85.44,232.81 L85.00,233.00 L84.46,233.43 L83.85,234.04 L83.21,234.76 L82.58,235.50 L82.00,236.20 L81.47,236.87 L80.96,237.55 L80.48,238.23 L79.99,238.89 L79.50,239.50 L78.99,240.08 L78.48,240.65 L77.96,241.18 L77.47,241.63 L77.00,242.00 L76.57,242.26 L76.16,242.43 L75.78,242.54 L75.39,242.59 L75.00,242.60 L74.59,242.55 L74.18,242.44 L73.77,242.28 L73.37,242.13 L73.00,242.00 L72.67,241.87 L72.37,241.72 L72.08,241.58 L71.76,241.53 L71.40,241.60 L70.97,241.83 L70.49,242.18 L69.98,242.60 L69.48,243.06 L69.00,243.50 L68.56,243.91 L68.13,244.32 L67.71,244.76 L67.28,245.24 L66.80,245.80 L66.26,246.46 L65.67,247.21 L65.06,248.00 L64.49,248.78 L64.00,249.50 L63.60,250.14 L63.25,250.73 L62.95,251.30 L62.67,251.92 L62.40,252.60 L62.14,253.39 L61.91,254.27 L61.70,255.17 L61.50,256.05 L61.30,256.86 L61.10,257.62 L60.92,258.35 L60.74,259.03 L60.56,259.65 L60.40,260.18 L60.24,260.60 L60.07,260.95 L59.92,261.22 L59.79,261.44 L59.70,261.60" fill="none" stroke="#E8202A" stroke-width="1.05" stroke-linejoin="round" />
<path d="M59.20,257.00 L59.12,256.68 L58.99,256.33 L58.85,255.79 L58.72,254.90 L58.60,253.50 L58.50,251.61 L58.40,249.32 L58.31,246.64 L58.24,243.53 L58.20,240.00 L58.19,235.58 L58.20,230.27 L58.24,224.77 L58.31,219.78 L58.40,216.00 L58.52,213.68 L58.65,212.36 L58.82,211.65 L59.03,211.16 L59.30,210.50 L59.64,209.68 L60.03,208.96 L60.47,208.33 L60.93,207.78 L61.40,207.30 L61.88,206.92 L62.39,206.63 L62.92,206.41 L63.46,206.24 L64.00,206.10 L64.54,205.98 L65.09,205.91 L65.64,205.88 L66.21,205.88 L66.80,205.90 L67.40,205.95 L68.01,206.03 L68.64,206.14 L69.30,206.26 L70.00,206.40 L70.76,206.55 L71.58,206.73 L72.41,206.92 L73.23,207.11 L74.00,207.30 L74.73,207.50 L75.45,207.72 L76.13,207.93 L76.75,208.10 L77.30,208.20 L77.75,208.23 L78.12,208.20 L78.43,208.13 L78.72,208.02 L79.00,207.90 L79.28,207.73 L79.53,207.52 L79.76,207.28 L79.98,207.07 L80.20,206.90 L80.41,206.78 L80.60,206.68 L80.80,206.61 L80.99,206.58 L81.20,206.60 L81.43,206.67 L81.67,206.77 L81.92,206.93 L82.16,207.13 L82.40,207.40 L82.62,207.74 L82.83,208.16 L83.04,208.62 L83.26,209.11 L83.50,209.60 L83.76,210.12 L84.02,210.67 L84.31,211.23 L84.63,211.78 L85.00,212.30 L85.43,212.79 L85.90,213.28 L86.42,213.74 L86.95,214.15 L87.50,214.50 L88.01,214.77 L88.50,214.98 L89.02,215.14 L89.67,215.27 L90.50,215.40 L91.55,215.53 L92.78,215.64 L94.12,215.73 L95.55,215.79 L97.00,215.80 L98.47,215.77 L100.00,215.69 L101.58,215.59 L103.25,215.45 L105.00,215.30 L106.85,215.13 L108.79,214.94 L110.80,214.73 L112.88,214.48 L115.00,214.20 L117.24,213.87 L119.59,213.49 L121.97,213.08 L124.28,212.68 L126.40,212.30 L128.28,211.95 L130.00,211.62 L131.63,211.29 L133.27,210.96 L135.00,210.60 L136.83,210.24 L138.69,209.87 L140.58,209.49 L142.52,209.07 L144.50,208.60 L146.58,208.05 L148.76,207.43 L150.95,206.78 L153.06,206.16 L155.00,205.60 L156.73,205.13 L158.30,204.72 L159.78,204.33 L161.23,203.93 L162.70,203.50 L164.30,202.93 L165.98,202.23 L167.60,201.57 L168.99,201.10 L170.00,200.98 L170.53,201.23 L170.70,201.76 L170.63,202.52 L170.48,203.44 L170.40,204.50 L170.38,205.78 L170.33,207.31 L170.24,208.95 L170.13,210.56 L170.00,212.00 L169.85,213.26 L169.68,214.45 L169.48,215.56 L169.25,216.58 L169.00,217.50 L168.73,218.29 L168.45,218.96 L168.13,219.56 L167.75,220.12 L167.30,220.70 L166.75,221.29 L166.13,221.86 L165.45,222.42 L164.73,222.97 L164.00,223.50 L163.31,224.00 L162.64,224.46 L161.92,224.92 L161.07,225.42 L160.00,226.00 L158.65,226.69 L157.06,227.46 L155.36,228.28 L153.63,229.07 L152.00,229.80 L150.42,230.48 L148.82,231.15 L147.26,231.78 L145.80,232.34 L144.50,232.80 L143.41,233.15 L142.48,233.40 L141.66,233.58 L140.85,233.72 L140.00,233.85 L139.12,233.97 L138.25,234.07 L137.37,234.13 L136.46,234.16 L135.50,234.15 L134.47,234.09 L133.40,234.00 L132.28,233.87 L131.15,233.70 L130.00,233.50 L128.85,233.25 L127.68,232.94 L126.50,232.60 L125.27,232.28 L124.00,232.00 L122.74,231.74 L121.51,231.49 L120.21,231.27 L118.74,231.10 L117.00,231.00 L114.86,231.01 L112.37,231.10 L109.75,231.24 L107.22,231.38 L105.00,231.50 L103.12,231.59 L101.44,231.67 L99.90,231.74 L98.44,231.82 L97.00,231.90 L95.56,231.98 L94.15,232.05 L92.81,232.12 L91.58,232.20 L90.50,232.30 L89.58,232.42 L88.81,232.55 L88.15,232.70 L87.56,232.85 L87.00,233.00 L86.52,233.12 L86.14,233.20 L85.80,233.30 L85.44,233.48 L85.00,233.80 L84.46,234.28 L83.85,234.89 L83.21,235.58 L82.58,236.30 L82.00,237.00 L81.47,237.71 L80.96,238.46 L80.48,239.22 L79.99,239.94 L79.50,240.60 L78.99,241.20 L78.48,241.78 L77.96,242.30 L77.47,242.75 L77.00,243.10 L76.57,243.35 L76.16,243.50 L75.78,243.58 L75.39,243.60 L75.00,243.58 L74.59,243.50 L74.18,243.34 L73.77,243.15 L73.37,242.95 L73.00,242.80 L72.67,242.66 L72.37,242.50 L72.08,242.38 L71.76,242.33 L71.40,242.40 L70.97,242.63 L70.49,242.98 L69.98,243.40 L69.48,243.86 L69.00,244.30 L68.56,244.72 L68.13,245.16 L67.71,245.62 L67.28,246.10 L66.80,246.60 L66.26,247.14 L65.67,247.71 L65.06,248.30 L64.49,248.90 L64.00,249.50 L63.60,250.12 L63.25,250.77 L62.95,251.42 L62.67,252.04 L62.40,252.60 L62.14,253.09 L61.91,253.54 L61.70,253.94 L61.50,254.32 L61.30,254.68 L61.10,255.03 L60.92,255.36 L60.74,255.66 L60.56,255.92 L60.40,256.12 L60.24,256.25 L60.07,256.33 L59.92,256.36 L59.79,256.38 L59.70,256.40" fill="none" stroke="#2838E0" stroke-width="1.05" stroke-linejoin="round" />
<path d="M59.20,253.40 L59.12,253.03 L58.99,252.56 L58.85,251.93 L58.72,251.07 L58.60,249.90 L58.50,248.56 L58.40,247.08 L58.31,245.28 L58.24,242.98 L58.20,240.00 L58.19,235.81 L58.20,230.53 L58.24,224.94 L58.31,219.84 L58.40,216.00 L58.52,213.67 L58.65,212.33 L58.82,211.61 L59.03,211.12 L59.30,210.50 L59.64,209.76 L60.03,209.15 L60.47,208.64 L60.93,208.20 L61.40,207.80 L61.88,207.45 L62.39,207.16 L62.92,206.94 L63.46,206.75 L64.00,206.60 L64.54,206.48 L65.09,206.41 L65.64,206.38 L66.21,206.38 L66.80,206.40 L67.40,206.45 L68.01,206.53 L68.64,206.64 L69.30,206.76 L70.00,206.90 L70.76,207.05 L71.58,207.23 L72.41,207.42 L73.23,207.61 L74.00,207.80 L74.73,208.00 L75.45,208.22 L76.13,208.43 L76.75,208.60 L77.30,208.70 L77.75,208.75 L78.12,208.76 L78.43,208.71 L78.72,208.60 L79.00,208.40 L79.28,208.05 L79.53,207.57 L79.76,207.03 L79.98,206.55 L80.20,206.20 L80.41,206.00 L80.60,205.89 L80.80,205.85 L80.99,205.86 L81.20,205.90 L81.43,205.95 L81.67,206.02 L81.92,206.14 L82.16,206.36 L82.40,206.70 L82.62,207.23 L82.83,207.93 L83.04,208.70 L83.26,209.46 L83.50,210.10 L83.76,210.62 L84.02,211.07 L84.31,211.48 L84.63,211.88 L85.00,212.30 L85.43,212.76 L85.90,213.24 L86.42,213.71 L86.95,214.14 L87.50,214.50 L88.01,214.77 L88.50,214.98 L89.02,215.14 L89.67,215.27 L90.50,215.40 L91.55,215.53 L92.78,215.64 L94.12,215.73 L95.55,215.79 L97.00,215.80 L98.47,215.77 L100.00,215.69 L101.58,215.59 L103.25,215.45 L105.00,215.30 L106.85,215.13 L108.79,214.94 L110.80,214.73 L112.88,214.48 L115.00,214.20 L117.24,213.87 L119.59,213.49 L121.97,213.08 L124.28,212.68 L126.40,212.30 L128.28,211.95 L130.00,211.62 L131.63,211.29 L133.27,210.96 L135.00,210.60 L136.83,210.24 L138.69,209.87 L140.58,209.49 L142.52,209.07 L144.50,208.60 L146.58,208.06 L148.76,207.46 L150.95,206.83 L153.06,206.20 L155.00,205.60 L156.73,205.04 L158.30,204.51 L159.78,203.98 L161.23,203.45 L162.70,202.90 L164.30,202.22 L165.98,201.41 L167.60,200.65 L168.99,200.13 L170.00,200.02 L170.53,200.40 L170.70,201.14 L170.63,202.14 L170.48,203.29 L170.40,204.50 L170.38,205.84 L170.33,207.38 L170.24,209.00 L170.13,210.58 L170.00,212.00 L169.85,213.26 L169.68,214.45 L169.48,215.56 L169.25,216.58 L169.00,217.50 L168.73,218.29 L168.45,218.96 L168.13,219.56 L167.75,220.12 L167.30,220.70 L166.75,221.29 L166.13,221.86 L165.45,222.42 L164.73,222.97 L164.00,223.50 L163.31,224.00 L162.64,224.46 L161.92,224.92 L161.07,225.42 L160.00,226.00 L158.65,226.69 L157.06,227.46 L155.36,228.28 L153.63,229.07 L152.00,229.80 L150.42,230.48 L148.82,231.14 L147.26,231.76 L145.80,232.32 L144.50,232.80 L143.41,233.19 L142.48,233.51 L141.66,233.76 L140.85,233.97 L140.00,234.15 L139.12,234.30 L138.25,234.41 L137.37,234.47 L136.46,234.49 L135.50,234.45 L134.47,234.35 L133.40,234.19 L132.28,233.98 L131.15,233.75 L130.00,233.50 L128.85,233.23 L127.68,232.92 L126.50,232.59 L125.27,232.28 L124.00,232.00 L122.74,231.74 L121.51,231.49 L120.21,231.27 L118.74,231.10 L117.00,231.00 L114.86,231.01 L112.37,231.10 L109.75,231.24 L107.22,231.38 L105.00,231.50 L103.12,231.59 L101.44,231.67 L99.90,231.74 L98.44,231.82 L97.00,231.90 L95.56,231.98 L94.15,232.05 L92.81,232.12 L91.58,232.20 L90.50,232.30 L89.58,232.41 L88.81,232.53 L88.15,232.66 L87.56,232.82 L87.00,233.00 L86.52,233.19 L86.14,233.39 L85.80,233.61 L85.44,233.91 L85.00,234.30 L84.46,234.80 L83.85,235.38 L83.21,236.03 L82.58,236.74 L82.00,237.50 L81.47,238.36 L80.96,239.34 L80.48,240.34 L79.99,241.29 L79.50,242.10 L78.99,242.77 L78.48,243.37 L77.96,243.88 L77.47,244.29 L77.00,244.60 L76.57,244.79 L76.16,244.88 L75.78,244.87 L75.39,244.80 L75.00,244.68 L74.59,244.48 L74.18,244.19 L73.77,243.85 L73.37,243.54 L73.00,243.30 L72.67,243.12 L72.37,242.96 L72.08,242.85 L71.76,242.82 L71.40,242.90 L70.97,243.13 L70.49,243.48 L69.98,243.90 L69.48,244.36 L69.00,244.80 L68.56,245.23 L68.13,245.69 L67.71,246.15 L67.28,246.63 L66.80,247.10 L66.26,247.56 L65.67,248.02 L65.06,248.48 L64.49,248.97 L64.00,249.50 L63.60,250.12 L63.25,250.81 L62.95,251.51 L62.67,252.13 L62.40,252.60 L62.14,252.88 L61.91,253.03 L61.70,253.09 L61.50,253.12 L61.30,253.17 L61.10,253.23 L60.92,253.29 L60.74,253.32 L60.56,253.33 L60.40,253.31 L60.24,253.24 L60.07,253.13 L59.92,253.00 L59.79,252.88 L59.70,252.80" fill="none" stroke="#22E022" stroke-width="1.05" stroke-linejoin="round" />
<rect x="42.40" y="178.30" width="139.20" height="111.70" fill="none" stroke="#111" stroke-width="1.2" />
<line x1="40.20" y1="187.20" x2="42.40" y2="187.20" stroke="#111" stroke-width="0.9" />
<text class="ss" x="38.8" y="189.7" font-size="6.9" font-weight="bold" text-anchor="end" fill="#111" >0.2</text>
<line x1="40.20" y1="204.30" x2="42.40" y2="204.30" stroke="#111" stroke-width="0.9" />
<text class="ss" x="38.8" y="206.8" font-size="6.9" font-weight="bold" text-anchor="end" fill="#111" >0.1</text>
<line x1="40.20" y1="221.40" x2="42.40" y2="221.40" stroke="#111" stroke-width="0.9" />
<text class="ss" x="38.8" y="223.9" font-size="6.9" font-weight="bold" text-anchor="end" fill="#111" >0.0</text>
<line x1="40.20" y1="238.50" x2="42.40" y2="238.50" stroke="#111" stroke-width="0.9" />
<text class="ss" x="38.8" y="241.0" font-size="6.9" font-weight="bold" text-anchor="end" fill="#111" >-0.1</text>
<line x1="40.20" y1="255.60" x2="42.40" y2="255.60" stroke="#111" stroke-width="0.9" />
<text class="ss" x="38.8" y="258.1" font-size="6.9" font-weight="bold" text-anchor="end" fill="#111" >-0.2</text>
<line x1="40.20" y1="272.70" x2="42.40" y2="272.70" stroke="#111" stroke-width="0.9" />
<text class="ss" x="38.8" y="275.2" font-size="6.9" font-weight="bold" text-anchor="end" fill="#111" >-0.3</text>
<line x1="40.20" y1="289.80" x2="42.40" y2="289.80" stroke="#111" stroke-width="0.9" />
<text class="ss" x="38.8" y="292.3" font-size="6.9" font-weight="bold" text-anchor="end" fill="#111" >-0.4</text>
<line x1="41.10" y1="195.75" x2="42.40" y2="195.75" stroke="#111" stroke-width="0.8" />
<line x1="41.10" y1="212.85" x2="42.40" y2="212.85" stroke="#111" stroke-width="0.8" />
<line x1="41.10" y1="229.95" x2="42.40" y2="229.95" stroke="#111" stroke-width="0.8" />
<line x1="41.10" y1="247.05" x2="42.40" y2="247.05" stroke="#111" stroke-width="0.8" />
<line x1="41.10" y1="264.15" x2="42.40" y2="264.15" stroke="#111" stroke-width="0.8" />
<line x1="41.10" y1="281.25" x2="42.40" y2="281.25" stroke="#111" stroke-width="0.8" />
<line x1="52.80" y1="290.00" x2="52.80" y2="292.20" stroke="#111" stroke-width="0.9" />
<text class="ss" x="52.8" y="300" font-size="6.9" font-weight="bold" text-anchor="middle" fill="#111" >0.0</text>
<line x1="74.24" y1="290.00" x2="74.24" y2="292.20" stroke="#111" stroke-width="0.9" />
<text class="ss" x="74.24" y="300" font-size="6.9" font-weight="bold" text-anchor="middle" fill="#111" >0.2</text>
<line x1="95.68" y1="290.00" x2="95.68" y2="292.20" stroke="#111" stroke-width="0.9" />
<text class="ss" x="95.68" y="300" font-size="6.9" font-weight="bold" text-anchor="middle" fill="#111" >0.4</text>
<line x1="117.12" y1="290.00" x2="117.12" y2="292.20" stroke="#111" stroke-width="0.9" />
<text class="ss" x="117.11999999999999" y="300" font-size="6.9" font-weight="bold" text-anchor="middle" fill="#111" >0.6</text>
<line x1="138.56" y1="290.00" x2="138.56" y2="292.20" stroke="#111" stroke-width="0.9" />
<text class="ss" x="138.56" y="300" font-size="6.9" font-weight="bold" text-anchor="middle" fill="#111" >0.8</text>
<line x1="160.00" y1="290.00" x2="160.00" y2="292.20" stroke="#111" stroke-width="0.9" />
<text class="ss" x="160.0" y="300" font-size="6.9" font-weight="bold" text-anchor="middle" fill="#111" >1.0</text>
<line x1="181.44" y1="290.00" x2="181.44" y2="292.20" stroke="#111" stroke-width="0.9" />
<text class="ss" x="181.44" y="300" font-size="6.9" font-weight="bold" text-anchor="middle" fill="#111" >1.2</text>
<line x1="63.52" y1="290.00" x2="63.52" y2="291.30" stroke="#111" stroke-width="0.8" />
<line x1="84.96" y1="290.00" x2="84.96" y2="291.30" stroke="#111" stroke-width="0.8" />
<line x1="106.40" y1="290.00" x2="106.40" y2="291.30" stroke="#111" stroke-width="0.8" />
<line x1="127.84" y1="290.00" x2="127.84" y2="291.30" stroke="#111" stroke-width="0.8" />
<line x1="149.28" y1="290.00" x2="149.28" y2="291.30" stroke="#111" stroke-width="0.8" />
<line x1="170.72" y1="290.00" x2="170.72" y2="291.30" stroke="#111" stroke-width="0.8" />
<text class="ss" x="112" y="311.6" font-size="7.4" font-weight="bold" text-anchor="middle" fill="#111" textLength="42" lengthAdjust="spacingAndGlyphs" >E (V vs RHE)</text>
<text class="ss" transform="translate(17.3,233.8) rotate(-90)" font-size="7.7" font-weight="bold" text-anchor="middle" fill="#111"><tspan font-style="italic">j</tspan> (mA cm<tspan font-size="4.8" dy="-2.6">-2</tspan><tspan dy="2.6">)</tspan></text>
<line x1="97.60" y1="253.10" x2="110.00" y2="253.10" stroke="#222" stroke-width="0.9" />
<text class="ss" x="112.2" y="255.4" font-size="6.5" font-weight="bold" text-anchor="start" fill="#111" >Initial</text>
<line x1="97.60" y1="262.10" x2="110.00" y2="262.10" stroke="#E8202A" stroke-width="0.9" />
<text class="ss" x="112.2" y="264.40000000000003" font-size="6.5" font-weight="bold" text-anchor="start" fill="#111" textLength="62.8" lengthAdjust="spacingAndGlyphs" >After 10,000 cycles</text>
<line x1="97.60" y1="271.10" x2="110.00" y2="271.10" stroke="#2838E0" stroke-width="0.9" />
<text class="ss" x="112.2" y="273.40000000000003" font-size="6.5" font-weight="bold" text-anchor="start" fill="#111" textLength="62.8" lengthAdjust="spacingAndGlyphs" >After 20,000 cycles</text>
<line x1="97.60" y1="280.10" x2="110.00" y2="280.10" stroke="#22E022" stroke-width="0.9" />
<text class="ss" x="112.2" y="282.40000000000003" font-size="6.5" font-weight="bold" text-anchor="start" fill="#111" textLength="62.8" lengthAdjust="spacingAndGlyphs" >After 30,000 cycles</text>
<text class="sf" x="192.8" y="187.4" font-size="16.5" font-weight="normal" text-anchor="start" fill="#111"  stroke="#111" stroke-width="0.3">e</text>
<clipPath id="clipe"><rect x="214.6" y="180.4" width="139.1" height="111.4"/></clipPath><g clip-path="url(#clipe)">
<path d="M214.60,277.18 L215.52,277.27 L216.76,277.40 L218.28,277.54 L220.04,277.71 L222.00,277.88 L224.19,278.07 L226.63,278.27 L229.29,278.49 L232.09,278.69 L235.00,278.88 L238.09,279.05 L241.40,279.22 L244.81,279.37 L248.18,279.50 L251.40,279.58 L254.43,279.61 L257.35,279.61 L260.22,279.57 L263.08,279.53 L266.00,279.48 L268.99,279.43 L272.02,279.38 L275.05,279.32 L278.06,279.25 L281.00,279.18 L283.97,279.11 L286.99,279.03 L289.92,278.94 L292.64,278.86 L295.00,278.78 L296.94,278.71 L298.55,278.64 L299.93,278.57 L301.18,278.50 L302.40,278.40 L303.58,278.29 L304.64,278.16 L305.62,278.02 L306.53,277.87 L307.40,277.70 L308.20,277.52 L308.91,277.33 L309.57,277.12 L310.22,276.88 L310.90,276.60 L311.60,276.28 L312.30,275.94 L312.99,275.56 L313.69,275.12 L314.40,274.60 L315.12,274.02 L315.87,273.39 L316.61,272.69 L317.32,271.90 L318.00,271.00 L318.63,269.97 L319.23,268.82 L319.80,267.59 L320.36,266.30 L320.90,265.00 L321.43,263.68 L321.95,262.32 L322.46,260.92 L322.94,259.48 L323.40,258.00 L323.84,256.44 L324.25,254.80 L324.65,253.13 L325.03,251.51 L325.40,250.00 L325.76,248.68 L326.11,247.53 L326.44,246.39 L326.77,245.12 L327.10,243.60 L327.43,241.72 L327.75,239.56 L328.07,237.29 L328.39,235.05 L328.70,233.00 L329.00,231.18 L329.27,229.50 L329.55,227.87 L329.86,226.23 L330.20,224.50 L330.58,222.65 L330.99,220.73 L331.43,218.78 L331.90,216.86 L332.40,215.00 L332.96,213.19 L333.57,211.39 L334.20,209.64 L334.82,207.96 L335.40,206.40 L335.94,204.94 L336.46,203.55 L336.96,202.26 L337.44,201.07 L337.90,200.00 L338.34,199.06 L338.75,198.23 L339.14,197.51 L339.52,196.88 L339.90,196.30 L340.25,195.80 L340.56,195.40 L340.88,195.06 L341.25,194.77 L341.70,194.50 L342.18,194.26 L342.65,194.08 L343.22,193.92 L343.97,193.80 L345.00,193.68 L346.53,193.58 L348.51,193.51 L350.59,193.45 L352.43,193.41 L353.70,193.38" fill="none" stroke="#22E022" stroke-width="1.0" stroke-linejoin="round" />
<path d="M214.60,277.44 L215.52,277.53 L216.76,277.66 L218.28,277.80 L220.04,277.97 L222.00,278.14 L224.19,278.33 L226.63,278.53 L229.29,278.75 L232.09,278.95 L235.00,279.14 L238.09,279.31 L241.40,279.48 L244.81,279.63 L248.18,279.76 L251.40,279.84 L254.43,279.87 L257.35,279.87 L260.22,279.83 L263.08,279.79 L266.00,279.74 L268.99,279.69 L272.02,279.64 L275.05,279.58 L278.06,279.51 L281.00,279.44 L283.95,279.37 L286.93,279.30 L289.83,279.22 L292.56,279.14 L295.00,279.04 L297.14,278.93 L299.04,278.80 L300.74,278.67 L302.28,278.54 L303.70,278.40 L304.96,278.27 L306.04,278.14 L306.99,278.01 L307.86,277.87 L308.70,277.70 L309.50,277.52 L310.21,277.33 L310.87,277.12 L311.52,276.88 L312.20,276.60 L312.90,276.28 L313.60,275.94 L314.29,275.56 L314.99,275.12 L315.70,274.60 L316.42,274.02 L317.17,273.39 L317.91,272.69 L318.62,271.90 L319.30,271.00 L319.93,269.97 L320.53,268.82 L321.10,267.59 L321.66,266.30 L322.20,265.00 L322.73,263.68 L323.25,262.32 L323.76,260.92 L324.24,259.48 L324.70,258.00 L325.14,256.44 L325.55,254.80 L325.95,253.13 L326.33,251.51 L326.70,250.00 L327.06,248.68 L327.41,247.53 L327.74,246.39 L328.07,245.12 L328.40,243.60 L328.73,241.72 L329.05,239.56 L329.37,237.29 L329.69,235.05 L330.00,233.00 L330.30,231.18 L330.57,229.50 L330.85,227.87 L331.16,226.23 L331.50,224.50 L331.88,222.65 L332.29,220.73 L332.73,218.78 L333.20,216.86 L333.70,215.00 L334.26,213.19 L334.87,211.39 L335.50,209.64 L336.12,207.96 L336.70,206.40 L337.24,204.94 L337.76,203.55 L338.26,202.26 L338.74,201.07 L339.20,200.00 L339.64,199.06 L340.05,198.23 L340.44,197.51 L340.82,196.88 L341.20,196.30 L341.57,195.80 L341.92,195.38 L342.28,195.04 L342.63,194.75 L343.00,194.50 L343.28,194.30 L343.46,194.17 L343.71,194.09 L344.17,194.02 L345.00,193.94 L346.45,193.86 L348.42,193.79 L350.52,193.73 L352.41,193.68 L353.70,193.64" fill="none" stroke="#E8202A" stroke-width="1.0" stroke-linejoin="round" />
<path d="M214.60,277.38 L215.52,277.47 L216.76,277.60 L218.28,277.74 L220.04,277.91 L222.00,278.08 L224.19,278.27 L226.63,278.47 L229.29,278.69 L232.09,278.89 L235.00,279.08 L238.09,279.25 L241.40,279.42 L244.81,279.57 L248.18,279.70 L251.40,279.78 L254.43,279.81 L257.35,279.81 L260.22,279.77 L263.08,279.73 L266.00,279.68 L268.99,279.63 L272.02,279.58 L275.05,279.52 L278.06,279.45 L281.00,279.38 L283.95,279.31 L286.94,279.24 L289.85,279.16 L292.57,279.07 L295.00,278.98 L297.09,278.88 L298.93,278.77 L300.55,278.65 L302.03,278.53 L303.40,278.40 L304.64,278.27 L305.72,278.15 L306.67,278.01 L307.55,277.87 L308.40,277.70 L309.20,277.52 L309.91,277.33 L310.57,277.12 L311.22,276.88 L311.90,276.60 L312.60,276.28 L313.30,275.94 L313.99,275.56 L314.69,275.12 L315.40,274.60 L316.12,274.02 L316.87,273.39 L317.61,272.69 L318.32,271.90 L319.00,271.00 L319.63,269.97 L320.23,268.82 L320.80,267.59 L321.36,266.30 L321.90,265.00 L322.43,263.68 L322.95,262.32 L323.46,260.92 L323.94,259.48 L324.40,258.00 L324.84,256.44 L325.25,254.80 L325.65,253.13 L326.03,251.51 L326.40,250.00 L326.76,248.68 L327.11,247.53 L327.44,246.39 L327.77,245.12 L328.10,243.60 L328.43,241.72 L328.75,239.56 L329.07,237.29 L329.39,235.05 L329.70,233.00 L330.00,231.18 L330.27,229.50 L330.55,227.87 L330.86,226.23 L331.20,224.50 L331.58,222.65 L331.99,220.73 L332.43,218.78 L332.90,216.86 L333.40,215.00 L333.96,213.19 L334.57,211.39 L335.20,209.64 L335.82,207.96 L336.40,206.40 L336.94,204.94 L337.46,203.55 L337.96,202.26 L338.44,201.07 L338.90,200.00 L339.34,199.06 L339.75,198.23 L340.14,197.51 L340.52,196.88 L340.90,196.30 L341.26,195.80 L341.61,195.39 L341.95,195.04 L342.31,194.75 L342.70,194.50 L343.03,194.30 L343.28,194.15 L343.60,194.05 L344.12,193.96 L345.00,193.88 L346.47,193.79 L348.44,193.72 L350.54,193.66 L352.41,193.62 L353.70,193.58" fill="none" stroke="#111" stroke-width="1.0" stroke-linejoin="round" />
<path d="M214.60,277.32 L215.52,277.41 L216.76,277.54 L218.28,277.68 L220.04,277.85 L222.00,278.02 L224.19,278.21 L226.63,278.41 L229.29,278.63 L232.09,278.83 L235.00,279.02 L238.09,279.19 L241.40,279.36 L244.81,279.51 L248.18,279.64 L251.40,279.72 L254.43,279.75 L257.35,279.75 L260.22,279.71 L263.08,279.67 L266.00,279.62 L268.99,279.57 L272.02,279.52 L275.05,279.46 L278.06,279.39 L281.00,279.32 L283.96,279.25 L286.96,279.17 L289.87,279.09 L292.59,279.01 L295.00,278.92 L297.05,278.83 L298.81,278.73 L300.37,278.63 L301.77,278.52 L303.10,278.40 L304.32,278.28 L305.40,278.15 L306.36,278.02 L307.25,277.87 L308.10,277.70 L308.90,277.52 L309.61,277.33 L310.27,277.12 L310.92,276.88 L311.60,276.60 L312.30,276.28 L313.00,275.94 L313.69,275.56 L314.39,275.12 L315.10,274.60 L315.82,274.02 L316.57,273.39 L317.31,272.69 L318.02,271.90 L318.70,271.00 L319.33,269.97 L319.93,268.82 L320.50,267.59 L321.06,266.30 L321.60,265.00 L322.13,263.68 L322.65,262.32 L323.16,260.92 L323.64,259.48 L324.10,258.00 L324.54,256.44 L324.95,254.80 L325.35,253.13 L325.73,251.51 L326.10,250.00 L326.46,248.68 L326.81,247.53 L327.14,246.39 L327.47,245.12 L327.80,243.60 L328.13,241.72 L328.45,239.56 L328.77,237.29 L329.09,235.05 L329.40,233.00 L329.70,231.18 L329.97,229.50 L330.25,227.87 L330.56,226.23 L330.90,224.50 L331.28,222.65 L331.69,220.73 L332.13,218.78 L332.60,216.86 L333.10,215.00 L333.66,213.19 L334.27,211.39 L334.90,209.64 L335.52,207.96 L336.10,206.40 L336.64,204.94 L337.16,203.55 L337.66,202.26 L338.14,201.07 L338.60,200.00 L339.04,199.06 L339.45,198.23 L339.84,197.51 L340.22,196.88 L340.60,196.30 L340.96,195.80 L341.30,195.39 L341.63,195.05 L341.99,194.76 L342.40,194.50 L342.77,194.29 L343.09,194.13 L343.48,194.01 L344.08,193.91 L345.00,193.82 L346.49,193.73 L348.46,193.66 L350.55,193.60 L352.42,193.55 L353.70,193.52" fill="none" stroke="#2030C8" stroke-width="1.0" stroke-linejoin="round" />
</g>
<rect x="214.60" y="180.40" width="139.10" height="111.40" fill="none" stroke="#111" stroke-width="1.2" />
<line x1="212.40" y1="180.20" x2="214.60" y2="180.20" stroke="#111" stroke-width="0.9" />
<text class="ss" x="210.79999999999998" y="182.7" font-size="6.9" font-weight="bold" text-anchor="end" fill="#111" >1</text>
<line x1="212.40" y1="195.10" x2="214.60" y2="195.10" stroke="#111" stroke-width="0.9" />
<text class="ss" x="210.79999999999998" y="197.6" font-size="6.9" font-weight="bold" text-anchor="end" fill="#111" >0</text>
<line x1="212.40" y1="210.00" x2="214.60" y2="210.00" stroke="#111" stroke-width="0.9" />
<text class="ss" x="210.79999999999998" y="212.5" font-size="6.9" font-weight="bold" text-anchor="end" fill="#111" >-1</text>
<line x1="212.40" y1="224.90" x2="214.60" y2="224.90" stroke="#111" stroke-width="0.9" />
<text class="ss" x="210.79999999999998" y="227.4" font-size="6.9" font-weight="bold" text-anchor="end" fill="#111" >-2</text>
<line x1="212.40" y1="239.80" x2="214.60" y2="239.80" stroke="#111" stroke-width="0.9" />
<text class="ss" x="210.79999999999998" y="242.3" font-size="6.9" font-weight="bold" text-anchor="end" fill="#111" >-3</text>
<line x1="212.40" y1="254.70" x2="214.60" y2="254.70" stroke="#111" stroke-width="0.9" />
<text class="ss" x="210.79999999999998" y="257.2" font-size="6.9" font-weight="bold" text-anchor="end" fill="#111" >-4</text>
<line x1="212.40" y1="269.60" x2="214.60" y2="269.60" stroke="#111" stroke-width="0.9" />
<text class="ss" x="210.79999999999998" y="272.1" font-size="6.9" font-weight="bold" text-anchor="end" fill="#111" >-5</text>
<line x1="212.40" y1="284.50" x2="214.60" y2="284.50" stroke="#111" stroke-width="0.9" />
<text class="ss" x="210.79999999999998" y="287.0" font-size="6.9" font-weight="bold" text-anchor="end" fill="#111" >-6</text>
<line x1="213.30" y1="187.65" x2="214.60" y2="187.65" stroke="#111" stroke-width="0.8" />
<line x1="213.30" y1="202.55" x2="214.60" y2="202.55" stroke="#111" stroke-width="0.8" />
<line x1="213.30" y1="217.45" x2="214.60" y2="217.45" stroke="#111" stroke-width="0.8" />
<line x1="213.30" y1="232.35" x2="214.60" y2="232.35" stroke="#111" stroke-width="0.8" />
<line x1="213.30" y1="247.25" x2="214.60" y2="247.25" stroke="#111" stroke-width="0.8" />
<line x1="213.30" y1="262.15" x2="214.60" y2="262.15" stroke="#111" stroke-width="0.8" />
<line x1="213.30" y1="277.05" x2="214.60" y2="277.05" stroke="#111" stroke-width="0.8" />
<line x1="222.30" y1="291.80" x2="222.30" y2="294.00" stroke="#111" stroke-width="0.9" />
<text class="ss" x="222.3" y="301.4" font-size="6.9" font-weight="bold" text-anchor="middle" fill="#111" >0.2</text>
<line x1="251.50" y1="291.80" x2="251.50" y2="294.00" stroke="#111" stroke-width="0.9" />
<text class="ss" x="251.5" y="301.4" font-size="6.9" font-weight="bold" text-anchor="middle" fill="#111" >0.4</text>
<line x1="280.70" y1="291.80" x2="280.70" y2="294.00" stroke="#111" stroke-width="0.9" />
<text class="ss" x="280.7" y="301.4" font-size="6.9" font-weight="bold" text-anchor="middle" fill="#111" >0.6</text>
<line x1="309.90" y1="291.80" x2="309.90" y2="294.00" stroke="#111" stroke-width="0.9" />
<text class="ss" x="309.90000000000003" y="301.4" font-size="6.9" font-weight="bold" text-anchor="middle" fill="#111" >0.8</text>
<line x1="339.10" y1="291.80" x2="339.10" y2="294.00" stroke="#111" stroke-width="0.9" />
<text class="ss" x="339.1" y="301.4" font-size="6.9" font-weight="bold" text-anchor="middle" fill="#111" >1.0</text>
<line x1="236.90" y1="291.80" x2="236.90" y2="293.10" stroke="#111" stroke-width="0.8" />
<line x1="266.10" y1="291.80" x2="266.10" y2="293.10" stroke="#111" stroke-width="0.8" />
<line x1="295.30" y1="291.80" x2="295.30" y2="293.10" stroke="#111" stroke-width="0.8" />
<line x1="324.50" y1="291.80" x2="324.50" y2="293.10" stroke="#111" stroke-width="0.8" />
<text class="ss" x="284.2" y="313.4" font-size="7.4" font-weight="bold" text-anchor="middle" fill="#111" textLength="42" lengthAdjust="spacingAndGlyphs" >E (V vs RHE)</text>
<text class="ss" transform="translate(198.3,236) rotate(-90)" font-size="7.4" font-weight="bold" text-anchor="middle" fill="#111"><tspan font-style="italic">j</tspan> (mA cm<tspan font-size="4.8" dy="-2.6">-2</tspan><tspan dy="2.6">)</tspan></text>
<text class="ss" x="274.6" y="240" font-size="7.1" font-weight="bold" fill="#111">Δ<tspan font-style="italic">E</tspan><tspan font-size="4" dy="1.7">1/2</tspan><tspan dy="-1.7">=11 mV</tspan></text>
<line x1="316.50" y1="237.60" x2="322.50" y2="237.60" stroke="#111" stroke-width="0.8" />
<path d="M325.6,237.6 l-3.6,-1.5 v3 Z" fill="#111"/>
<line x1="340.00" y1="237.60" x2="334.00" y2="237.60" stroke="#111" stroke-width="0.8" />
<path d="M330.6,237.6 l3.6,-1.5 v3 Z" fill="#111"/>
<text class="sf" x="367.4" y="189.2" font-size="16.5" font-weight="normal" text-anchor="start" fill="#111"  stroke="#111" stroke-width="0.3">f</text>
<rect x="397.20" y="208.40" width="7.10" height="86.20" fill="#000" stroke="#1a1a1a" stroke-width="0.3" />
<rect x="404.30" y="210.00" width="7.10" height="84.60" fill="#FF0000" stroke="#1a1a1a" stroke-width="0.3" />
<rect x="411.40" y="222.69" width="7.10" height="71.91" fill="#0000FF" stroke="#1a1a1a" stroke-width="0.3" />
<rect x="418.50" y="226.92" width="7.10" height="67.68" fill="#00FF2A" stroke="#1a1a1a" stroke-width="0.3" />
<rect x="439.50" y="262.45" width="7.10" height="32.15" fill="#000" stroke="#1a1a1a" stroke-width="0.3" />
<rect x="446.60" y="268.75" width="7.10" height="25.85" fill="#FF0000" stroke="#1a1a1a" stroke-width="0.3" />
<rect x="453.70" y="270.91" width="7.10" height="23.69" fill="#0000FF" stroke="#1a1a1a" stroke-width="0.3" />
<rect x="474.60" y="272.04" width="7.15" height="22.56" fill="#000" stroke="#1a1a1a" stroke-width="0.3" />
<rect x="481.75" y="280.50" width="7.15" height="14.10" fill="#FF0000" stroke="#1a1a1a" stroke-width="0.3" />
<rect x="488.90" y="285.01" width="7.15" height="9.59" fill="#0000FF" stroke="#1a1a1a" stroke-width="0.3" />
<rect x="509.50" y="292.25" width="7.15" height="2.35" fill="#000" stroke="#1a1a1a" stroke-width="0.3" />
<rect x="516.65" y="293.00" width="7.15" height="1.60" fill="#FF0000" stroke="#1a1a1a" stroke-width="0.3" />
<rect x="388.60" y="181.80" width="142.80" height="112.80" fill="none" stroke="#111" stroke-width="1.2" />
<line x1="386.40" y1="294.60" x2="388.60" y2="294.60" stroke="#111" stroke-width="0.9" />
<text class="ss" x="385.0" y="297.1" font-size="6.9" font-weight="bold" text-anchor="end" fill="#111" >0</text>
<line x1="386.40" y1="275.80" x2="388.60" y2="275.80" stroke="#111" stroke-width="0.9" />
<text class="ss" x="385.0" y="278.3" font-size="6.9" font-weight="bold" text-anchor="end" fill="#111" >2</text>
<line x1="386.40" y1="257.00" x2="388.60" y2="257.00" stroke="#111" stroke-width="0.9" />
<text class="ss" x="385.0" y="259.5" font-size="6.9" font-weight="bold" text-anchor="end" fill="#111" >4</text>
<line x1="386.40" y1="238.20" x2="388.60" y2="238.20" stroke="#111" stroke-width="0.9" />
<text class="ss" x="385.0" y="240.70000000000002" font-size="6.9" font-weight="bold" text-anchor="end" fill="#111" >6</text>
<line x1="386.40" y1="219.40" x2="388.60" y2="219.40" stroke="#111" stroke-width="0.9" />
<text class="ss" x="385.0" y="221.90000000000003" font-size="6.9" font-weight="bold" text-anchor="end" fill="#111" >8</text>
<line x1="386.40" y1="200.60" x2="388.60" y2="200.60" stroke="#111" stroke-width="0.9" />
<text class="ss" x="385.0" y="203.10000000000002" font-size="6.9" font-weight="bold" text-anchor="end" fill="#111" >10</text>
<line x1="386.40" y1="181.80" x2="388.60" y2="181.80" stroke="#111" stroke-width="0.9" />
<text class="ss" x="385.0" y="184.3" font-size="6.9" font-weight="bold" text-anchor="end" fill="#111" >12</text>
<line x1="387.30" y1="285.20" x2="388.60" y2="285.20" stroke="#111" stroke-width="0.8" />
<line x1="387.30" y1="266.40" x2="388.60" y2="266.40" stroke="#111" stroke-width="0.8" />
<line x1="387.30" y1="247.60" x2="388.60" y2="247.60" stroke="#111" stroke-width="0.8" />
<line x1="387.30" y1="228.80" x2="388.60" y2="228.80" stroke="#111" stroke-width="0.8" />
<line x1="387.30" y1="210.00" x2="388.60" y2="210.00" stroke="#111" stroke-width="0.8" />
<line x1="387.30" y1="191.20" x2="388.60" y2="191.20" stroke="#111" stroke-width="0.8" />
<text class="ss" transform="translate(374.4,237.2) rotate(-90)" font-size="7.8" font-weight="bold" text-anchor="middle" fill="#111">Specific activity (mA cm<tspan font-size="4.8" dy="-2.6">-2</tspan><tspan dy="2.6">)</tspan></text>
<text class="ss" x="409.4" y="302.2" font-size="6.3" font-weight="bold" text-anchor="middle" fill="#111" textLength="45.2" lengthAdjust="spacingAndGlyphs"><tspan font-style="italic">fct</tspan>-Pt-Co@Pt/C</text>
<text class="ss" x="452.6" y="302.2" font-size="6.3" font-weight="bold" text-anchor="middle" fill="#111" textLength="32.2" lengthAdjust="spacingAndGlyphs"><tspan font-style="italic">fct</tspan>-Pt-Co/C</text>
<text class="ss" x="488.9" y="302.2" font-size="6.3" font-weight="bold" text-anchor="middle" fill="#111" textLength="33.2" lengthAdjust="spacingAndGlyphs"><tspan font-style="italic">fcc</tspan>-Pt-Co/C</text>
<text class="ss" x="517" y="302.2" font-size="6.3" font-weight="bold" text-anchor="middle" fill="#111" textLength="12.4" lengthAdjust="spacingAndGlyphs" >Pt/C</text>
<rect x="447.90" y="188.90" width="12.10" height="5.80" fill="#000" stroke="#111" stroke-width="0.5" />
<text class="ss" x="462.6" y="194.10000000000002" font-size="6.5" font-weight="bold" text-anchor="start" fill="#111" >Initial</text>
<rect x="447.90" y="198.10" width="12.10" height="5.80" fill="#FF0000" stroke="#111" stroke-width="0.5" />
<text class="ss" x="462.6" y="203.3" font-size="6.5" font-weight="bold" text-anchor="start" fill="#111" textLength="62.9" lengthAdjust="spacingAndGlyphs" >After 10,000 cycles</text>
<rect x="447.90" y="207.30" width="12.10" height="5.80" fill="#0000FF" stroke="#111" stroke-width="0.5" />
<text class="ss" x="462.6" y="212.50000000000003" font-size="6.5" font-weight="bold" text-anchor="start" fill="#111" textLength="62.9" lengthAdjust="spacingAndGlyphs" >After 20,000 cycles</text>
<rect x="447.90" y="216.50" width="12.10" height="5.80" fill="#00FF2A" stroke="#111" stroke-width="0.5" />
<text class="ss" x="462.6" y="221.70000000000002" font-size="6.5" font-weight="bold" text-anchor="start" fill="#111" textLength="62.9" lengthAdjust="spacingAndGlyphs" >After 30,000 cycles</text>
<text class="sf" x="15.4" y="322.2" font-size="16.5" font-weight="normal" text-anchor="start" fill="#111"  stroke="#111" stroke-width="0.3">g</text>
<rect x="49.00" y="355.68" width="6.85" height="78.82" fill="#000" stroke="#1a1a1a" stroke-width="0.3" />
<rect x="55.85" y="359.33" width="6.85" height="75.17" fill="#FF0000" stroke="#1a1a1a" stroke-width="0.3" />
<rect x="62.70" y="366.90" width="6.85" height="67.60" fill="#0000FF" stroke="#1a1a1a" stroke-width="0.3" />
<rect x="69.55" y="371.95" width="6.85" height="62.55" fill="#00FF2A" stroke="#1a1a1a" stroke-width="0.3" />
<rect x="91.00" y="410.38" width="6.85" height="24.12" fill="#000" stroke="#1a1a1a" stroke-width="0.3" />
<rect x="97.85" y="416.83" width="6.85" height="17.67" fill="#FF0000" stroke="#1a1a1a" stroke-width="0.3" />
<rect x="104.70" y="419.07" width="6.85" height="15.43" fill="#0000FF" stroke="#1a1a1a" stroke-width="0.3" />
<rect x="126.00" y="418.51" width="6.80" height="15.99" fill="#000" stroke="#1a1a1a" stroke-width="0.3" />
<rect x="132.80" y="425.52" width="6.80" height="8.98" fill="#FF0000" stroke="#1a1a1a" stroke-width="0.3" />
<rect x="139.60" y="428.33" width="6.80" height="6.17" fill="#0000FF" stroke="#1a1a1a" stroke-width="0.3" />
<rect x="161.00" y="428.89" width="6.80" height="5.61" fill="#000" stroke="#1a1a1a" stroke-width="0.3" />
<rect x="167.80" y="432.26" width="6.80" height="2.24" fill="#FF0000" stroke="#1a1a1a" stroke-width="0.3" />
<rect x="42.30" y="322.30" width="140.40" height="112.20" fill="none" stroke="#111" stroke-width="1.2" />
<line x1="40.10" y1="434.50" x2="42.30" y2="434.50" stroke="#111" stroke-width="0.9" />
<text class="ss" x="38.699999999999996" y="437.0" font-size="6.9" font-weight="bold" text-anchor="end" fill="#111" >0.0</text>
<line x1="40.10" y1="420.48" x2="42.30" y2="420.48" stroke="#111" stroke-width="0.9" />
<text class="ss" x="38.699999999999996" y="422.975" font-size="6.9" font-weight="bold" text-anchor="end" fill="#111" >0.5</text>
<line x1="40.10" y1="406.45" x2="42.30" y2="406.45" stroke="#111" stroke-width="0.9" />
<text class="ss" x="38.699999999999996" y="408.95" font-size="6.9" font-weight="bold" text-anchor="end" fill="#111" >1.0</text>
<line x1="40.10" y1="392.43" x2="42.30" y2="392.43" stroke="#111" stroke-width="0.9" />
<text class="ss" x="38.699999999999996" y="394.925" font-size="6.9" font-weight="bold" text-anchor="end" fill="#111" >1.5</text>
<line x1="40.10" y1="378.40" x2="42.30" y2="378.40" stroke="#111" stroke-width="0.9" />
<text class="ss" x="38.699999999999996" y="380.9" font-size="6.9" font-weight="bold" text-anchor="end" fill="#111" >2.0</text>
<line x1="40.10" y1="364.38" x2="42.30" y2="364.38" stroke="#111" stroke-width="0.9" />
<text class="ss" x="38.699999999999996" y="366.875" font-size="6.9" font-weight="bold" text-anchor="end" fill="#111" >2.5</text>
<line x1="40.10" y1="350.35" x2="42.30" y2="350.35" stroke="#111" stroke-width="0.9" />
<text class="ss" x="38.699999999999996" y="352.85" font-size="6.9" font-weight="bold" text-anchor="end" fill="#111" >3.0</text>
<line x1="40.10" y1="336.33" x2="42.30" y2="336.33" stroke="#111" stroke-width="0.9" />
<text class="ss" x="38.699999999999996" y="338.82500000000005" font-size="6.9" font-weight="bold" text-anchor="end" fill="#111" >3.5</text>
<line x1="40.10" y1="322.30" x2="42.30" y2="322.30" stroke="#111" stroke-width="0.9" />
<text class="ss" x="38.699999999999996" y="324.8" font-size="6.9" font-weight="bold" text-anchor="end" fill="#111" >4.0</text>
<line x1="41.00" y1="427.49" x2="42.30" y2="427.49" stroke="#111" stroke-width="0.8" />
<line x1="41.00" y1="413.46" x2="42.30" y2="413.46" stroke="#111" stroke-width="0.8" />
<line x1="41.00" y1="399.44" x2="42.30" y2="399.44" stroke="#111" stroke-width="0.8" />
<line x1="41.00" y1="385.41" x2="42.30" y2="385.41" stroke="#111" stroke-width="0.8" />
<line x1="41.00" y1="371.39" x2="42.30" y2="371.39" stroke="#111" stroke-width="0.8" />
<line x1="41.00" y1="357.36" x2="42.30" y2="357.36" stroke="#111" stroke-width="0.8" />
<line x1="41.00" y1="343.34" x2="42.30" y2="343.34" stroke="#111" stroke-width="0.8" />
<line x1="41.00" y1="329.31" x2="42.30" y2="329.31" stroke="#111" stroke-width="0.8" />
<text class="ss" transform="translate(21,376.8) rotate(-90)" font-size="7.7" font-weight="bold" text-anchor="middle" fill="#111">Mass activity (A mg<tspan font-size="4.6" dy="1.5">Pt</tspan><tspan font-size="4.6" dy="-5" dx="-4.6">-1</tspan><tspan dy="3.5">)</tspan></text>
<text class="ss" x="60.8" y="442.2" font-size="6.3" font-weight="bold" text-anchor="middle" fill="#111" textLength="45" lengthAdjust="spacingAndGlyphs"><tspan font-style="italic">fct</tspan>-Pt-Co@Pt/C</text>
<text class="ss" x="103" y="442.2" font-size="6.3" font-weight="bold" text-anchor="middle" fill="#111" textLength="32.2" lengthAdjust="spacingAndGlyphs"><tspan font-style="italic">fct</tspan>-Pt-Co/C</text>
<text class="ss" x="139.5" y="442.2" font-size="6.3" font-weight="bold" text-anchor="middle" fill="#111" textLength="33.6" lengthAdjust="spacingAndGlyphs"><tspan font-style="italic">fcc</tspan>-Pt-Co/C</text>
<text class="ss" x="167.7" y="442.2" font-size="6.3" font-weight="bold" text-anchor="middle" fill="#111" textLength="12" lengthAdjust="spacingAndGlyphs" >Pt/C</text>
<text class="sf" x="192" y="324.5" font-size="16.5" font-weight="normal" text-anchor="start" fill="#111"  stroke="#111" stroke-width="0.3">h</text>
<rect x="202.60" y="322.00" width="152.70" height="112.90" fill="#b8b8b8" stroke="none" stroke-width="1" />
<rect x="203.00" y="322.40" width="49.40" height="55.10" fill="#050505" stroke="none" stroke-width="1" />
<rect x="203.00" y="378.70" width="49.40" height="55.80" fill="#050505" stroke="none" stroke-width="1" />
<rect x="254.10" y="322.40" width="49.70" height="55.10" fill="#050505" stroke="none" stroke-width="1" />
<rect x="254.10" y="378.70" width="49.70" height="55.80" fill="#050505" stroke="none" stroke-width="1" />
<rect x="305.40" y="322.40" width="49.50" height="55.10" fill="#050505" stroke="none" stroke-width="1" />
<rect x="305.40" y="378.70" width="49.50" height="55.80" fill="#050505" stroke="none" stroke-width="1" />
<clipPath id="ha1"><rect x="203.0" y="322.4" width="49.40" height="55.10"/></clipPath>
<g clip-path="url(#ha1)"><g filter="url(#blur07)">
<rect x="211.2" y="332.2" width="34" height="35.6" rx="4" fill="#b2b2b2"/>
<rect x="212.6" y="333.6" width="31.2" height="32.8" rx="3" fill="#8c8c8c"/>
</g><rect x="211.2" y="332.2" width="34" height="35.6" rx="4" fill="url(#noise)" opacity="0.12"/></g>
<clipPath id="hb1"><rect x="254.1" y="322.4" width="49.70" height="55.10"/></clipPath>
<g clip-path="url(#hb1)"><g filter="url(#blur07)">
<rect x="258" y="331.8" width="42.4" height="36.6" rx="4" fill="#a0a0a0"/>
<rect x="259.8" y="333.6" width="38.8" height="33" rx="4" fill="#7e7e7e"/>
<path d="M266,338 h26 v3 h2 v18 h-3 v4 h-23 v-3 h-3 v-17 h1 Z" fill="#9c9c9c"/>
</g></g>
<clipPath id="hc1"><rect x="305.4" y="322.4" width="49.50" height="55.10"/></clipPath>
<g clip-path="url(#hc1)"><g filter="url(#blur07)">
<rect x="311.6" y="331.4" width="35.6" height="36.6" rx="6" fill="#cfcfcf"/>
<rect x="314.4" y="334.2" width="30" height="31" rx="4" fill="#868686"/>
</g></g>
<rect x="208.30" y="329.20" width="20.30" height="22.10" fill="none" stroke="#e8e8e8" stroke-width="0.6" />
<text class="ss" x="204.4" y="328.3" font-size="5" font-weight="bold" fill="#f2f2f2">(a<tspan font-size="3.2" dy="0.8">1</tspan><tspan dy="-0.8">)</tspan></text>
<rect x="241.80" y="375.00" width="8.80" height="1.50" fill="#fff" stroke="none" stroke-width="1" />
<text class="ss" x="246.20000000000002" y="373.9" font-size="4.2" font-weight="bold" text-anchor="middle" fill="#f2f2f2"  stroke="#f2f2f2" stroke-width="0.14">5 nm</text>
<rect x="256.20" y="329.20" width="20.20" height="22.10" fill="none" stroke="#e8e8e8" stroke-width="0.6" />
<text class="ss" x="255.5" y="328.3" font-size="5" font-weight="bold" fill="#f2f2f2">(b<tspan font-size="3.2" dy="0.8">1</tspan><tspan dy="-0.8">)</tspan></text>
<rect x="293.20" y="375.00" width="8.80" height="1.50" fill="#fff" stroke="none" stroke-width="1" />
<text class="ss" x="297.6" y="373.9" font-size="4.2" font-weight="bold" text-anchor="middle" fill="#f2f2f2"  stroke="#f2f2f2" stroke-width="0.14">5 nm</text>
<rect x="308.40" y="329.20" width="20.60" height="22.10" fill="none" stroke="#e8e8e8" stroke-width="0.6" />
<text class="ss" x="306.79999999999995" y="328.3" font-size="5" font-weight="bold" fill="#f2f2f2">(c<tspan font-size="3.2" dy="0.8">1</tspan><tspan dy="-0.8">)</tspan></text>
<rect x="344.30" y="375.00" width="8.80" height="1.50" fill="#fff" stroke="none" stroke-width="1" />
<text class="ss" x="348.7" y="373.9" font-size="4.2" font-weight="bold" text-anchor="middle" fill="#f2f2f2"  stroke="#f2f2f2" stroke-width="0.14">5 nm</text>
<clipPath id="ha2"><rect x="203.0" y="378.7" width="49.40" height="55.80"/></clipPath>
<g clip-path="url(#ha2)"><g filter="url(#blur07)">
<rect x="211.6" y="387" width="60" height="60" rx="6" fill="#a8a8a8"/>
<rect x="213.4" y="388.8" width="60" height="60" rx="5" fill="#8c8c8c"/>
</g><rect x="212.5" y="388" width="60" height="60" rx="5" fill="url(#noise)" opacity="0.15"/></g>
<clipPath id="hb2"><rect x="254.1" y="378.7" width="49.70" height="55.80"/></clipPath>
<g clip-path="url(#hb2)"><g filter="url(#blur07)">
<rect x="261.6" y="387" width="60" height="60" rx="6" fill="#7e7e7e"/>
<rect x="265.5" y="391.5" width="60" height="60" rx="4" fill="#6e6e6e"/>
<path d="M283,403 H310 V440 H277 V410 H283 Z" fill="#9e9e9e"/>
</g></g>
<clipPath id="hc2"><rect x="305.4" y="378.7" width="49.50" height="55.80"/></clipPath>
<g clip-path="url(#hc2)"><g filter="url(#blur07)">
<rect x="311.6" y="388.2" width="60" height="60" rx="8" fill="#5a5a5a"/>
<rect x="313" y="390.2" width="60" height="60" rx="7" fill="url(#gshell)"/>
<rect x="319.8" y="395.4" width="60" height="60" rx="4" fill="#747474"/>
</g></g>
<text class="ss" x="204.4" y="384.8" font-size="5" font-weight="bold" fill="#f2f2f2">(a<tspan font-size="3.2" dy="0.8">2</tspan><tspan dy="-0.8">)</tspan></text>
<rect x="242.60" y="432.00" width="8.00" height="1.20" fill="#111" stroke="none" stroke-width="1" />
<text class="ss" x="246.6" y="430.8" font-size="4.2" font-weight="bold" text-anchor="middle" fill="#111"  stroke="#111" stroke-width="0.14">2 nm</text>
<text class="ss" x="255.5" y="384.8" font-size="5" font-weight="bold" fill="#f2f2f2">(b<tspan font-size="3.2" dy="0.8">2</tspan><tspan dy="-0.8">)</tspan></text>
<rect x="294.00" y="432.00" width="8.00" height="1.20" fill="#111" stroke="none" stroke-width="1" />
<text class="ss" x="298.0" y="430.8" font-size="4.2" font-weight="bold" text-anchor="middle" fill="#111"  stroke="#111" stroke-width="0.14">2 nm</text>
<text class="ss" x="306.79999999999995" y="384.8" font-size="5" font-weight="bold" fill="#f2f2f2">(c<tspan font-size="3.2" dy="0.8">2</tspan><tspan dy="-0.8">)</tspan></text>
<rect x="345.10" y="432.00" width="8.00" height="1.20" fill="#111" stroke="none" stroke-width="1" />
<text class="ss" x="349.09999999999997" y="430.8" font-size="4.2" font-weight="bold" text-anchor="middle" fill="#111"  stroke="#111" stroke-width="0.14">2 nm</text>
<text class="ss" x="203.6" y="428.2" font-size="3" font-weight="bold" text-anchor="start" fill="#f2f2f2"  stroke="#f2f2f2" stroke-width="0.14">5 ML</text>
<line x1="204.60" y1="430.20" x2="209.60" y2="430.20" stroke="#E8202A" stroke-width="0.7" />
<path d="M211.4,430.2 l-2.2,-1.1 v2.2 Z" fill="#E8202A"/>
<rect x="211.40" y="427.60" width="1.60" height="5.00" fill="none" stroke="#E8202A" stroke-width="0.4" />
<text class="ss" x="257.2" y="408.4" font-size="3" font-weight="bold" text-anchor="start" fill="#f2f2f2"  stroke="#f2f2f2" stroke-width="0.14">2L</text>
<rect x="260.40" y="409.40" width="6.60" height="3.20" fill="#E8202A" stroke="#E8202A" stroke-width="0.3" fill-opacity="0.55"/>
<line x1="256.60" y1="411.00" x2="260.00" y2="411.00" stroke="#E8202A" stroke-width="0.6" />
<text class="ss" x="306.6" y="405.8" font-size="3" font-weight="bold" text-anchor="start" fill="#f2f2f2"  stroke="#f2f2f2" stroke-width="0.14">6L</text>
<rect x="311.20" y="408.00" width="9.20" height="4.60" fill="#E8202A" stroke="#E8202A" stroke-width="0.3" fill-opacity="0.6"/>
<line x1="307.00" y1="410.30" x2="311.00" y2="410.30" stroke="#E8202A" stroke-width="0.6" />
<text class="sf" x="370.6" y="326" font-size="16.5" font-weight="normal" text-anchor="start" fill="#111"  stroke="#111" stroke-width="0.3">i</text>
<rect x="412.30" y="428.24" width="5.90" height="5.76" fill="url(#ggrey)" stroke="#111" stroke-width="0.7" />
<rect x="418.20" y="432.23" width="5.40" height="1.77" fill="url(#gblue)" stroke="#111" stroke-width="0.7" />
<rect x="452.40" y="404.76" width="6.40" height="29.24" fill="url(#ggrey)" stroke="#111" stroke-width="0.7" />
<rect x="460.00" y="420.71" width="6.40" height="13.29" fill="url(#gblue)" stroke="#111" stroke-width="0.7" />
<rect x="495.60" y="376.41" width="6.10" height="57.59" fill="url(#ggrey)" stroke="#111" stroke-width="0.7" />
<rect x="501.70" y="376.85" width="6.10" height="57.15" fill="url(#gblue2)" stroke="#111" stroke-width="0.7" />
<rect x="507.80" y="380.84" width="6.20" height="53.16" fill="url(#gorg)" stroke="#111" stroke-width="0.7" />
<rect x="395.60" y="322.30" width="134.90" height="111.70" fill="none" stroke="#111" stroke-width="1.0" />
<line x1="393.20" y1="434.00" x2="395.60" y2="434.00" stroke="#111" stroke-width="0.8" />
<text class="ss" x="391.8" y="436.6" font-size="7.3" font-weight="normal" text-anchor="end" fill="#222" >0.0</text>
<line x1="393.20" y1="416.28" x2="395.60" y2="416.28" stroke="#111" stroke-width="0.8" />
<text class="ss" x="391.8" y="418.88" font-size="7.3" font-weight="normal" text-anchor="end" fill="#222" >0.4</text>
<line x1="393.20" y1="398.56" x2="395.60" y2="398.56" stroke="#111" stroke-width="0.8" />
<text class="ss" x="391.8" y="401.16" font-size="7.3" font-weight="normal" text-anchor="end" fill="#222" >0.8</text>
<line x1="393.20" y1="380.84" x2="395.60" y2="380.84" stroke="#111" stroke-width="0.8" />
<text class="ss" x="391.8" y="383.44" font-size="7.3" font-weight="normal" text-anchor="end" fill="#222" >1.2</text>
<line x1="393.20" y1="363.12" x2="395.60" y2="363.12" stroke="#111" stroke-width="0.8" />
<text class="ss" x="391.8" y="365.72" font-size="7.3" font-weight="normal" text-anchor="end" fill="#222" >1.6</text>
<line x1="393.20" y1="345.40" x2="395.60" y2="345.40" stroke="#111" stroke-width="0.8" />
<text class="ss" x="391.8" y="348.0" font-size="7.3" font-weight="normal" text-anchor="end" fill="#222" >2.0</text>
<line x1="393.20" y1="327.68" x2="395.60" y2="327.68" stroke="#111" stroke-width="0.8" />
<text class="ss" x="391.8" y="330.28000000000003" font-size="7.3" font-weight="normal" text-anchor="end" fill="#222" >2.4</text>
<line x1="394.20" y1="425.14" x2="395.60" y2="425.14" stroke="#111" stroke-width="0.7" />
<line x1="394.20" y1="407.42" x2="395.60" y2="407.42" stroke="#111" stroke-width="0.7" />
<line x1="394.20" y1="389.70" x2="395.60" y2="389.70" stroke="#111" stroke-width="0.7" />
<line x1="394.20" y1="371.98" x2="395.60" y2="371.98" stroke="#111" stroke-width="0.7" />
<line x1="394.20" y1="354.26" x2="395.60" y2="354.26" stroke="#111" stroke-width="0.7" />
<line x1="394.20" y1="336.54" x2="395.60" y2="336.54" stroke="#111" stroke-width="0.7" />
<text class="ss" transform="translate(376.6,378.4) rotate(-90)" font-size="9.3" letter-spacing="0.55" text-anchor="middle" fill="#222">Mass activity (A/mg<tspan font-size="5" dy="1.5">Pt</tspan><tspan dy="-1.5">)</tspan></text>
<text class="ss" x="417.6" y="444.6" font-size="7.4" font-weight="normal" text-anchor="middle" fill="#222" textLength="15" lengthAdjust="spacingAndGlyphs" >Pt/C</text>
<text class="ss" x="459.8" y="444.6" font-size="7.4" font-weight="normal" text-anchor="middle" fill="#222" textLength="23.5" lengthAdjust="spacingAndGlyphs" >Pd@Pt</text>
<text class="ss" x="506.8" y="444.6" font-size="7.4" font-weight="normal" text-anchor="middle" fill="#222" textLength="56.5" lengthAdjust="spacingAndGlyphs" >Pd@a-Pd-P@Pt</text>
<rect x="402.40" y="325.30" width="12.60" height="5.60" fill="url(#ggrey)" stroke="#111" stroke-width="0.7" rx="0.8"/>
<text class="ss" x="417.3" y="330.70000000000005" font-size="7.3" font-weight="normal" text-anchor="start" fill="#222" >Initial</text>
<rect x="402.40" y="334.10" width="12.60" height="5.60" fill="url(#gblueL)" stroke="#111" stroke-width="0.7" rx="0.8"/>
<text class="ss" x="417.3" y="339.50000000000006" font-size="7.3" font-weight="normal" text-anchor="start" fill="#222" textLength="52.2" lengthAdjust="spacingAndGlyphs" >After 20K cycles</text>
<rect x="402.40" y="342.90" width="12.60" height="5.60" fill="url(#gorgL)" stroke="#111" stroke-width="0.7" rx="0.8"/>
<text class="ss" x="417.3" y="348.30000000000007" font-size="7.3" font-weight="normal" text-anchor="start" fill="#222" textLength="52.2" lengthAdjust="spacingAndGlyphs" >After 50K cycles</text>
<text class="ss" transform="translate(412.2,421.2) rotate(35)" font-size="7.3" fill="#222" textLength="22.5" lengthAdjust="spacing">72.1%</text>
<line x1="419.00" y1="427.60" x2="421.60" y2="430.60" stroke="#111" stroke-width="0.6" />
<circle cx="422.00" cy="431.00" r="0.8" fill="#111" />
<text class="ss" transform="translate(460.8,401.8) rotate(58)" font-size="7.3" fill="#222" textLength="23.5" lengthAdjust="spacing">54.8%</text>
<line x1="458.60" y1="404.80" x2="462.60" y2="418.60" stroke="#111" stroke-width="0.6" />
<circle cx="463.00" cy="419.40" r="0.8" fill="#111" />
<text class="ss" transform="translate(501.4,371.2) rotate(30)" font-size="7.3" fill="#222" textLength="18.5" lengthAdjust="spacing">7.3%</text>
<line x1="503.00" y1="376.20" x2="510.00" y2="379.60" stroke="#111" stroke-width="0.6" />
<circle cx="510.60" cy="380.00" r="0.8" fill="#111" />
<polygon points="459.2,370.1 474.2,375.0 461.9,381.6 446.9,376.7" fill="#CFC84A" stroke="#CFC84A" stroke-width="0.4"/>
<polygon points="446.9,376.7 461.9,381.6 461.7,398.8 447.9,391.4" fill="#B4AB38" stroke="#B4AB38" stroke-width="0.4"/>
<polygon points="461.9,381.6 474.2,375.0 473.2,390.6 461.7,398.8" fill="#A59C2E" stroke="#A59C2E" stroke-width="0.4"/>
<path d="M453.3,378.4 Q461.0,375.3 468.1,378.0 Q466.8,386.1 461.5,390.7 Q456.0,386.1 453.3,378.4 Z" fill="url(#gcut)"/>
<polygon points="503.2,335.7 518.2,340.6 505.9,347.2 490.9,342.3" fill="#CFC84A" stroke="#CFC84A" stroke-width="0.4"/>
<polygon points="490.9,342.3 505.9,347.2 505.7,364.4 491.9,357.0" fill="#B4AB38" stroke="#B4AB38" stroke-width="0.4"/>
<polygon points="505.9,347.2 518.2,340.6 517.2,356.2 505.7,364.4" fill="#A59C2E" stroke="#A59C2E" stroke-width="0.4"/>
<path d="M497.3,344.0 Q505.0,340.9 512.1,343.6 Q510.8,351.7 505.5,356.3 Q500.0,351.7 497.3,344.0 Z" fill="url(#gcut)"/>
</svg>
</body></html>
